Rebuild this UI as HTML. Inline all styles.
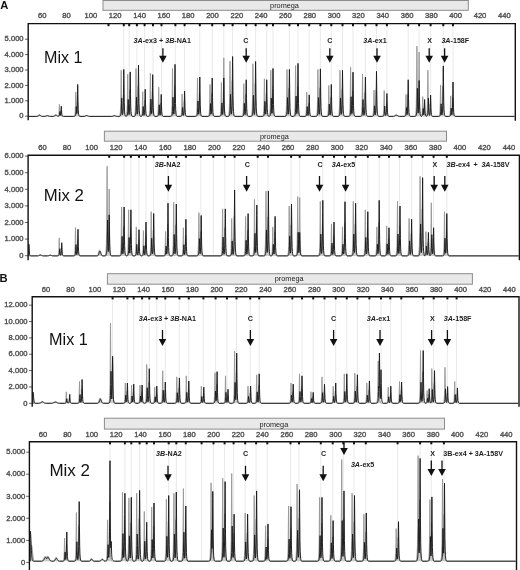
<!DOCTYPE html>
<html><head><meta charset="utf-8"><style>
html,body{margin:0;padding:0;background:#fff;width:520px;height:570px;overflow:hidden}
svg{display:block;filter:grayscale(100%)}
text{font-family:"Liberation Sans",sans-serif}
.ax{font-size:7.6px;fill:#3a3a3a;stroke:#5a5a5a;stroke-width:0.4px}
.pm{font-size:7.3px;fill:#222}
.an{font-size:7.15px;font-weight:bold;fill:#222}
.mix{font-size:16.6px;fill:#111}
.pl{font-size:11.2px;font-weight:bold;fill:#111}
</style></head><body>
<svg width="520" height="570" viewBox="0 0 520 570">
<rect width="520" height="570" fill="#fff"/>
<text x="0.3" y="9.3" class="pl">A</text>
<text x="-0.4" y="281.9" class="pl">B</text>
<line x1="123.8" y1="25.6" x2="123.8" y2="115.4" stroke="#e6e6e6" stroke-width="0.9"/>
<line x1="129.2" y1="25.6" x2="129.2" y2="115.4" stroke="#e6e6e6" stroke-width="0.9"/>
<line x1="136.9" y1="25.6" x2="136.9" y2="115.4" stroke="#e6e6e6" stroke-width="0.9"/>
<line x1="144.6" y1="25.6" x2="144.6" y2="115.4" stroke="#e6e6e6" stroke-width="0.9"/>
<line x1="153" y1="25.6" x2="153" y2="115.4" stroke="#e6e6e6" stroke-width="0.9"/>
<line x1="161.5" y1="25.6" x2="161.5" y2="115.4" stroke="#e6e6e6" stroke-width="0.9"/>
<line x1="175.4" y1="25.6" x2="175.4" y2="115.4" stroke="#e6e6e6" stroke-width="0.9"/>
<line x1="184.6" y1="25.6" x2="184.6" y2="115.4" stroke="#e6e6e6" stroke-width="0.9"/>
<line x1="199.8" y1="25.6" x2="199.8" y2="115.4" stroke="#e6e6e6" stroke-width="0.9"/>
<line x1="212.2" y1="25.6" x2="212.2" y2="115.4" stroke="#e6e6e6" stroke-width="0.9"/>
<line x1="223.8" y1="25.6" x2="223.8" y2="115.4" stroke="#e6e6e6" stroke-width="0.9"/>
<line x1="232.6" y1="25.6" x2="232.6" y2="115.4" stroke="#e6e6e6" stroke-width="0.9"/>
<line x1="246.2" y1="25.6" x2="246.2" y2="115.4" stroke="#e6e6e6" stroke-width="0.9"/>
<line x1="255.6" y1="25.6" x2="255.6" y2="115.4" stroke="#e6e6e6" stroke-width="0.9"/>
<line x1="266.7" y1="25.6" x2="266.7" y2="115.4" stroke="#e6e6e6" stroke-width="0.9"/>
<line x1="273" y1="25.6" x2="273" y2="115.4" stroke="#e6e6e6" stroke-width="0.9"/>
<line x1="289.4" y1="25.6" x2="289.4" y2="115.4" stroke="#e6e6e6" stroke-width="0.9"/>
<line x1="298" y1="25.6" x2="298" y2="115.4" stroke="#e6e6e6" stroke-width="0.9"/>
<line x1="309.2" y1="25.6" x2="309.2" y2="115.4" stroke="#e6e6e6" stroke-width="0.9"/>
<line x1="320.4" y1="25.6" x2="320.4" y2="115.4" stroke="#e6e6e6" stroke-width="0.9"/>
<line x1="331.3" y1="25.6" x2="331.3" y2="115.4" stroke="#e6e6e6" stroke-width="0.9"/>
<line x1="342.5" y1="25.6" x2="342.5" y2="115.4" stroke="#e6e6e6" stroke-width="0.9"/>
<line x1="353" y1="25.6" x2="353" y2="115.4" stroke="#e6e6e6" stroke-width="0.9"/>
<line x1="365.4" y1="25.6" x2="365.4" y2="115.4" stroke="#e6e6e6" stroke-width="0.9"/>
<line x1="376.5" y1="25.6" x2="376.5" y2="115.4" stroke="#e6e6e6" stroke-width="0.9"/>
<line x1="386.9" y1="25.6" x2="386.9" y2="115.4" stroke="#e6e6e6" stroke-width="0.9"/>
<line x1="408.2" y1="25.6" x2="408.2" y2="115.4" stroke="#e6e6e6" stroke-width="0.9"/>
<line x1="419.1" y1="25.6" x2="419.1" y2="115.4" stroke="#e6e6e6" stroke-width="0.9"/>
<line x1="430.6" y1="25.6" x2="430.6" y2="115.4" stroke="#e6e6e6" stroke-width="0.9"/>
<line x1="443.3" y1="25.6" x2="443.3" y2="115.4" stroke="#e6e6e6" stroke-width="0.9"/>
<line x1="453" y1="25.6" x2="453" y2="115.4" stroke="#e6e6e6" stroke-width="0.9"/>
<rect x="103" y="0.5" width="365.3" height="9.8" fill="#e9e9e9" stroke="#8c8c8c" stroke-width="1"/>
<text x="270.1" y="8.2" class="pm">promega</text>
<text x="42.25" y="18.4" class="ax" text-anchor="middle">60</text>
<text x="66.57" y="18.4" class="ax" text-anchor="middle">80</text>
<text x="90.89" y="18.4" class="ax" text-anchor="middle">100</text>
<text x="115.21" y="18.4" class="ax" text-anchor="middle">120</text>
<text x="139.53" y="18.4" class="ax" text-anchor="middle">140</text>
<text x="163.85" y="18.4" class="ax" text-anchor="middle">160</text>
<text x="188.17" y="18.4" class="ax" text-anchor="middle">180</text>
<text x="212.49" y="18.4" class="ax" text-anchor="middle">200</text>
<text x="236.81" y="18.4" class="ax" text-anchor="middle">220</text>
<text x="261.13" y="18.4" class="ax" text-anchor="middle">240</text>
<text x="285.45" y="18.4" class="ax" text-anchor="middle">260</text>
<text x="309.77" y="18.4" class="ax" text-anchor="middle">280</text>
<text x="334.09" y="18.4" class="ax" text-anchor="middle">300</text>
<text x="358.41" y="18.4" class="ax" text-anchor="middle">320</text>
<text x="382.73" y="18.4" class="ax" text-anchor="middle">340</text>
<text x="407.05" y="18.4" class="ax" text-anchor="middle">360</text>
<text x="431.37" y="18.4" class="ax" text-anchor="middle">380</text>
<text x="455.69" y="18.4" class="ax" text-anchor="middle">400</text>
<text x="480.01" y="18.4" class="ax" text-anchor="middle">420</text>
<text x="504.33" y="18.4" class="ax" text-anchor="middle">440</text>
<text x="23.6" y="118.4" class="ax" text-anchor="end">0</text>
<line x1="25" y1="116.2" x2="28.2" y2="116.2" stroke="#555" stroke-width="0.9"/>
<text x="23.6" y="103" class="ax" text-anchor="end">1.000</text>
<line x1="25" y1="100.8" x2="28.2" y2="100.8" stroke="#555" stroke-width="0.9"/>
<text x="23.6" y="87.6" class="ax" text-anchor="end">2.000</text>
<line x1="25" y1="85.4" x2="28.2" y2="85.4" stroke="#555" stroke-width="0.9"/>
<text x="23.6" y="72.2" class="ax" text-anchor="end">3.000</text>
<line x1="25" y1="70" x2="28.2" y2="70" stroke="#555" stroke-width="0.9"/>
<text x="23.6" y="56.8" class="ax" text-anchor="end">4.000</text>
<line x1="25" y1="54.6" x2="28.2" y2="54.6" stroke="#555" stroke-width="0.9"/>
<text x="23.6" y="41.4" class="ax" text-anchor="end">5.000</text>
<line x1="25" y1="39.2" x2="28.2" y2="39.2" stroke="#555" stroke-width="0.9"/>
<path d="M29 116.4 L29 116.4 L36 116.39 L36.25 116.38 L36.5 116.36 L36.75 116.32 L37 116.26 L37.25 116.16 L37.5 116.02 L37.75 115.84 L38 115.62 L38.25 115.38 L38.5 115.15 L38.75 114.95 L39 114.83 L39.2 114.8 L39.25 114.8 L39.5 114.87 L39.75 115.02 L40 115.24 L40.25 115.48 L40.5 115.71 L40.75 115.92 L41 116.08 L41.25 116.2 L41.5 116.29 L41.75 116.34 L42 116.37 L42.25 116.38 L44 116.39 L44.25 116.38 L44.5 116.36 L44.75 116.32 L45 116.26 L45.25 116.18 L45.5 116.08 L45.75 115.94 L46 115.79 L46.25 115.65 L46.5 115.52 L46.75 115.43 L47 115.4 L47.25 115.43 L47.5 115.52 L47.75 115.65 L48 115.79 L48.25 115.94 L48.5 116.08 L48.75 116.18 L49 116.26 L49.25 116.32 L49.5 116.36 L49.75 116.38 L50 116.39 L52.5 116.38 L52.75 116.36 L53 116.33 L53.25 116.27 L53.5 116.18 L53.75 116.05 L54 115.88 L54.25 115.67 L54.5 115.43 L54.75 115.19 L55 114.99 L55.25 114.85 L55.5 114.8 L55.75 114.85 L56 114.99 L56.25 115.19 L56.5 115.43 L56.75 115.67 L57 115.88 L57.25 116.05 L57.5 116.18 L57.75 116.25 L58 116.1 L58.25 115.86 L58.5 115.41 L58.75 114.47 L59 112.18 L59.25 106.73 L59.4 104.25 L59.5 105.49 L59.75 111.4 L60 114.17 L60.25 115.27 L60.35 115.43 L60.5 114.87 L60.75 112.84 L61 110.28 L61.25 112.84 L61.5 114.87 L61.75 115.66 L62 116.01 L62.25 116.18 L62.5 116.28 L62.75 116.35 L63 116.38 L73.5 116.39 L73.75 116.38 L74 116.23 L74.25 116 L74.5 115.64 L74.75 115.02 L75 113.83 L75.25 111.19 L75.5 104.45 L75.75 92.67 L75.8 92 L76 99.66 L76.25 109.24 L76.5 113.03 L76.75 113.36 L77 109.75 L77.25 101.14 L77.4 97.23 L77.5 99.19 L77.75 108.51 L78 112.88 L78.25 114.62 L78.5 115.44 L78.75 115.87 L79 116.13 L79.25 116.29 L79.5 116.37 L79.75 116.38 L83.25 116.39 L83.5 116.38 L83.75 116.36 L84 116.32 L84.25 116.27 L84.5 116.18 L84.75 116.07 L85 115.93 L85.25 115.77 L85.5 115.6 L85.75 115.45 L86 115.35 L86.25 115.3 L86.3 115.3 L86.5 115.32 L86.75 115.41 L87 115.54 L87.25 115.7 L87.5 115.86 L87.75 116.02 L88 116.14 L88.25 116.24 L88.5 116.3 L88.75 116.35 L89 116.37 L89.25 116.39 L111 116.39 L111.25 116.38 L111.5 116.36 L111.75 116.33 L112 116.28 L112.25 116.21 L112.5 116.11 L112.75 115.99 L113 115.85 L113.25 115.72 L113.5 115.61 L113.75 115.53 L114 115.5 L114.25 115.53 L114.5 115.61 L114.75 115.72 L115 115.85 L115.25 115.99 L115.5 116.11 L115.75 116.21 L116 116.28 L116.25 116.33 L116.5 116.36 L116.75 116.38 L117 116.39 L119 116.39 L119.25 116.25 L119.5 115.92 L119.75 115.41 L120 114.58 L120.25 113.08 L120.5 110.05 L120.75 102.88 L121 84.8 L121.2 70.34 L121.25 71.61 L121.5 93.84 L121.75 106.56 L122 111.55 L122.25 113.79 L122.5 114.6 L122.75 113.01 L123 109.37 L123.25 100.01 L123.5 88.23 L123.75 100.01 L124 109.37 L124.25 113.01 L124.5 114.6 L124.75 115.41 L125 115.87 L125.25 116.15 L125.5 116.34 L125.75 116.27 L126 115.96 L126.25 115.49 L126.5 114.73 L126.75 113.35 L127 110.57 L127.25 104 L127.5 87.42 L127.7 74.16 L127.75 75.33 L128 95.71 L128.25 107.38 L128.5 111.95 L128.75 114.01 L128.95 114.47 L129 114.22 L129.25 112.16 L129.5 107.14 L129.75 95.15 L129.9 89.7 L130 92.43 L130.25 105.41 L130.5 111.5 L130.75 113.93 L131 115.06 L131.25 115.66 L131.5 116.02 L131.75 116.25 L132 116.37 L132.25 116.39 L133.75 116.39 L134 116.3 L134.25 115.98 L134.5 115.5 L134.75 114.71 L135 113.34 L135.25 110.63 L135.5 104.43 L135.75 88.52 L136 68.48 L136.25 88.52 L136.5 104.43 L136.75 110.63 L137 113.34 L137.25 114.19 L137.5 112.17 L137.75 107.39 L138 95.34 L138.2 85.71 L138.25 86.55 L138.5 101.37 L138.75 109.84 L139 113.17 L139.25 114.66 L139.5 115.44 L139.75 115.9 L140 116.18 L140.25 116.36 L140.5 116.38 L140.75 116.32 L141 116.14 L141.25 115.87 L141.5 115.42 L141.75 114.62 L142 112.99 L142.25 109.15 L142.5 99.46 L142.7 91.7 L142.75 92.39 L143 104.3 L143.25 111.13 L143.5 113.8 L143.75 115 L143.95 115.23 L144 115.07 L144.25 113.81 L144.5 110.75 L144.75 103.44 L144.9 100.11 L145 101.77 L145.25 109.69 L145.5 113.41 L145.75 114.89 L146 115.58 L146.25 115.95 L146.5 116.17 L146.75 116.31 L147 116.38 L148.25 116.39 L148.5 116.21 L148.75 115.87 L149 115.35 L149.25 114.47 L149.5 112.87 L149.75 109.54 L150 101.41 L150.25 82 L150.4 73.18 L150.5 77.59 L150.75 98.6 L151 108.46 L151.25 112.4 L151.5 114.23 L151.55 114.08 L151.75 112.42 L152 107.71 L152.25 96.46 L152.4 91.35 L152.5 93.91 L152.75 106.09 L153 111.8 L153.25 114.08 L153.5 115.14 L153.75 115.71 L154 116.04 L154.25 116.26 L154.5 116.36 L154.75 116.38 L156.5 116.4 L156.75 116.31 L157 116.1 L157.25 115.77 L157.5 115.25 L157.75 114.3 L158 112.39 L158.25 107.86 L158.5 96.43 L158.7 87.29 L158.75 88.1 L159 102.14 L159.25 110.18 L159.5 113.33 L159.75 114.75 L159.95 115.38 L160 115.32 L160.25 114.31 L160.5 111.83 L160.75 105.92 L160.9 103.23 L161 104.57 L161.25 110.98 L161.5 113.98 L161.75 115.18 L162 115.74 L162.25 116.04 L162.5 116.21 L162.75 116.32 L163 116.39 L170.25 116.39 L170.5 116.3 L170.75 115.98 L171 115.5 L171.25 114.71 L171.5 113.34 L171.75 110.63 L172 104.43 L172.25 88.52 L172.5 68.48 L172.75 88.52 L173 104.43 L173.25 110.63 L173.5 113.34 L173.75 114.15 L174 112.09 L174.25 107.23 L174.5 94.98 L174.7 85.18 L174.75 86.04 L175 101.11 L175.25 109.73 L175.5 113.11 L175.75 114.63 L176 115.43 L176.25 115.89 L176.5 116.18 L176.75 116.36 L177 116.38 L180 116.39 L180.25 116.27 L180.5 116.08 L180.75 115.78 L181 115.27 L181.25 114.32 L181.5 112.28 L181.75 107.16 L182 96.25 L182.1 93.96 L182.25 98.54 L182.5 108.61 L182.75 112.84 L183 114.57 L183.25 115.4 L183.35 115.31 L183.5 114.8 L183.75 113.16 L184 108.97 L184.25 101.65 L184.3 101.23 L184.5 105.99 L184.75 111.95 L185 114.31 L185.25 115.31 L185.5 115.8 L185.75 116.07 L186 116.24 L186.25 116.35 L186.5 116.39 L195.25 116.39 L195.5 116.32 L195.75 116.06 L196 115.67 L196.25 115.05 L196.5 113.94 L196.75 111.77 L197 106.78 L197.25 93.99 L197.5 77.89 L197.75 93.99 L198 106.78 L198.25 111.77 L198.5 113.94 L198.65 114.21 L198.75 113.56 L199 110.5 L199.25 102.65 L199.5 92.76 L199.75 102.65 L200 110.5 L200.25 113.56 L200.5 114.89 L200.75 115.57 L201 115.95 L201.25 116.19 L201.5 116.35 L201.75 116.38 L202 116.39 L207.75 116.39 L208 116.33 L208.25 116.12 L208.5 115.8 L208.75 115.28 L209 114.36 L209.25 112.56 L209.5 108.42 L209.75 97.81 L210 84.45 L210.25 97.81 L210.5 108.42 L210.75 112.56 L211 114.36 L211.1 113.97 L211.25 112.74 L211.5 108.4 L211.75 98.05 L211.9 93.35 L212 95.7 L212.25 106.91 L212.5 112.17 L212.75 114.27 L213 115.24 L213.25 115.76 L213.5 116.07 L213.75 116.27 L214 116.37 L214.25 116.38 L219.25 116.39 L219.5 116.25 L219.75 115.98 L220 115.57 L220.25 114.89 L220.5 113.63 L220.75 111.02 L221 104.64 L221.25 89.41 L221.4 82.49 L221.5 85.95 L221.75 102.44 L222 110.17 L222.25 113.26 L222.5 114.57 L222.6 114.08 L222.75 113.08 L223 110.22 L223.25 102.99 L223.5 87.7 L223.75 59.41 L223.8 57.8 L224 76.2 L224.25 99.2 L224.5 108.32 L224.75 112.17 L225 114.08 L225.25 115.14 L225.5 115.79 L225.75 116.21 L226 116.39 L227.75 116.39 L228 116.29 L228.25 115.92 L228.5 115.36 L228.75 114.46 L229 112.88 L229.25 109.76 L229.5 102.62 L229.75 84.3 L230 61.23 L230.25 84.3 L230.5 102.62 L230.75 109.76 L231 112.88 L231.25 114.37 L231.3 114.11 L231.5 112.61 L231.75 108.73 L232 98.8 L232.25 81.46 L232.3 80.47 L232.5 91.75 L232.75 105.85 L233 111.44 L233.25 113.81 L233.5 114.98 L233.75 115.63 L234 116.03 L234.25 116.29 L234.5 116.38 L234.75 116.39 L241.5 116.39 L241.75 116.37 L242 116.17 L242.25 115.86 L242.5 115.38 L242.75 114.55 L243 112.95 L243.25 109.41 L243.5 100.37 L243.75 84.57 L243.8 83.67 L244 93.94 L244.25 106.79 L244.5 111.89 L244.75 114.04 L245 114.6 L245.25 112.91 L245.5 108.77 L245.75 98.9 L245.9 94.41 L246 96.65 L246.25 107.34 L246.5 112.36 L246.75 114.36 L247 115.3 L247.25 115.79 L247.5 116.09 L247.75 116.27 L248 116.38 L248.25 116.39 L250.75 116.39 L251 116.17 L251.25 115.76 L251.5 115.12 L251.75 114.05 L252 112.1 L252.25 108.04 L252.5 98.14 L252.75 74.51 L252.9 63.77 L253 69.14 L253.25 94.73 L253.5 106.73 L253.75 111.53 L254 113.76 L254.25 114.54 L254.5 112.93 L254.75 109.37 L255 100.27 L255.25 84.38 L255.3 83.47 L255.5 93.81 L255.75 106.73 L256 111.86 L256.25 114.03 L256.5 115.1 L256.75 115.69 L257 116.06 L257.25 116.3 L257.5 116.38 L257.75 116.39 L262.25 116.39 L262.5 116.23 L262.75 115.94 L263 115.48 L263.25 114.72 L263.5 113.33 L263.75 110.42 L264 103.34 L264.25 86.45 L264.4 78.77 L264.5 82.61 L264.75 100.9 L265 109.49 L265.25 112.91 L265.5 114.51 L265.55 114.36 L265.75 112.91 L266 108.77 L266.25 98.9 L266.4 94.41 L266.5 96.65 L266.75 107.34 L267 112.36 L267.25 114.36 L267.5 115.3 L267.75 115.79 L268 116.09 L268.25 116.27 L268.5 116.37 L268.75 116.35 L269 116.07 L269.25 115.64 L269.5 114.96 L269.75 113.79 L270 111.55 L270.25 106.56 L270.5 93.84 L270.75 71.61 L270.8 70.34 L271 84.8 L271.25 102.88 L271.5 110.05 L271.75 113.08 L271.9 113.37 L272 112.43 L272.25 107.96 L272.5 96.67 L272.7 87.65 L272.75 88.44 L273 102.32 L273.25 110.26 L273.5 113.37 L273.75 114.77 L274 115.5 L274.25 115.93 L274.5 116.19 L274.75 116.35 L275 116.37 L275.25 116.39 L284.75 116.39 L285 116.3 L285.25 115.99 L285.5 115.52 L285.75 114.75 L286 113.4 L286.25 110.75 L286.5 104.68 L286.75 89.09 L287 69.46 L287.25 89.09 L287.5 104.68 L287.75 110.75 L288 113.4 L288.2 114.1 L288.25 113.79 L288.5 111.23 L288.75 104.8 L289 91.11 L289.1 88.23 L289.25 93.98 L289.5 106.63 L289.75 111.93 L290 114.1 L290.25 115.14 L290.5 115.71 L290.75 116.06 L291 116.28 L291.25 116.37 L291.5 116.38 L293.5 116.38 L293.75 116.11 L294 115.68 L294.25 115 L294.5 113.85 L294.75 111.7 L295 107.08 L295.25 95.5 L295.5 70.82 L295.6 65.64 L295.75 76 L296 98.79 L296.25 108.34 L296.5 112.26 L296.75 114.11 L296.8 113.8 L297 112.01 L297.25 107.06 L297.5 94.58 L297.7 84.59 L297.75 85.47 L298 100.82 L298.25 109.61 L298.5 113.05 L298.75 114.6 L299 115.41 L299.25 115.88 L299.5 116.17 L299.75 116.36 L300 116.38 L300.25 116.39 L304.5 116.4 L304.75 116.32 L305 116.15 L305.25 115.88 L305.5 115.43 L305.75 114.64 L306 113.03 L306.25 109.24 L306.5 99.66 L306.7 92 L306.75 92.67 L307 104.45 L307.25 111.19 L307.5 113.83 L307.75 115.02 L307.95 115.47 L308 115.34 L308.25 114.35 L308.5 111.91 L308.75 106.1 L308.9 103.46 L309 104.78 L309.25 111.07 L309.5 114.02 L309.75 115.2 L310 115.75 L310.25 116.04 L310.5 116.22 L310.75 116.33 L311 116.39 L315.75 116.39 L316 116.19 L316.25 115.83 L316.5 115.26 L316.75 114.31 L317 112.57 L317.25 108.95 L317.5 100.11 L317.75 79.04 L317.9 69.46 L318 74.25 L318.25 97.07 L318.5 107.78 L318.75 112.05 L319 114.04 L319.15 114.34 L319.25 113.76 L319.5 111.16 L319.75 104.66 L320 90.79 L320.1 87.88 L320.25 93.7 L320.5 106.51 L320.75 111.87 L321 114.07 L321.25 115.13 L321.5 115.7 L321.75 116.05 L322 116.27 L322.25 116.37 L322.5 116.39 L326.5 116.39 L326.75 116.37 L327 116.18 L327.25 115.89 L327.5 115.43 L327.75 114.65 L328 113.14 L328.25 109.79 L328.5 101.23 L328.75 86.29 L328.8 85.43 L329 95.16 L329.25 107.31 L329.5 112.13 L329.75 114.17 L330 115.17 L330.05 115.02 L330.25 114.09 L330.5 111.61 L330.75 105.25 L331 97.23 L331.25 105.25 L331.5 111.61 L331.75 114.09 L332 115.18 L332.25 115.73 L332.5 116.04 L332.75 116.23 L333 116.36 L333.25 116.39 L337.75 116.39 L338 116.31 L338.25 116 L338.5 115.53 L338.75 114.78 L339 113.46 L339.25 110.86 L339.5 104.9 L339.75 89.6 L340 70.34 L340.25 89.6 L340.5 104.9 L340.75 110.86 L341 113.46 L341.25 114.41 L341.5 112.59 L341.75 108.29 L342 97.44 L342.2 88.76 L342.25 89.53 L342.5 102.86 L342.75 110.5 L343 113.49 L343.25 114.84 L343.5 115.54 L343.75 115.95 L344 116.2 L344.25 116.37 L344.5 116.38 L348.5 116.38 L348.75 116.12 L349 115.7 L349.25 115.04 L349.5 113.93 L349.75 111.84 L350 107.36 L350.25 96.14 L350.5 72.22 L350.6 67.2 L350.75 77.24 L351 99.33 L351.25 108.59 L351.5 112.38 L351.75 114.21 L351.8 114.24 L352 112.74 L352.25 108.62 L352.5 98.21 L352.7 89.88 L352.75 90.61 L353 103.41 L353.25 110.74 L353.5 113.61 L353.75 114.9 L354 115.57 L354.25 115.96 L354.5 116.21 L354.75 116.36 L355 116.38 L360.25 116.4 L360.5 116.31 L360.75 116.03 L361 115.6 L361.25 114.91 L361.5 113.7 L361.75 111.32 L362 105.85 L362.25 91.83 L362.5 74.16 L362.75 91.83 L363 105.85 L363.25 111.32 L363.5 113.7 L363.75 114.91 L363.95 115.19 L364 115.2 L364.25 114.21 L364.5 112.06 L364.75 106.67 L365 95.17 L365.1 92.76 L365.25 97.59 L365.5 108.2 L365.75 112.65 L366 114.47 L366.25 115.35 L366.5 115.82 L366.75 116.11 L367 116.3 L367.25 116.39 L371.75 116.39 L372 116.35 L372.25 116.17 L372.5 115.91 L372.75 115.48 L373 114.72 L373.25 113.24 L373.5 109.84 L373.75 101.12 L374 90.14 L374.25 101.12 L374.5 109.84 L374.75 113.24 L375 114.72 L375.25 114.45 L375.5 112.67 L375.75 108.46 L376 97.84 L376.2 89.35 L376.25 90.1 L376.5 103.15 L376.75 110.62 L377 113.55 L377.25 114.87 L377.5 115.56 L377.75 115.96 L378 116.21 L378.25 116.37 L378.5 116.39 L382 116.4 L382.25 116.32 L382.5 116.13 L382.75 115.84 L383 115.38 L383.25 114.53 L383.5 112.83 L383.75 108.8 L384 98.65 L384.2 90.53 L384.25 91.24 L384.5 103.73 L384.75 110.87 L385 113.67 L385.25 114.94 L385.5 115.59 L385.55 115.62 L385.75 115.13 L386 113.87 L386.25 110.73 L386.5 104.04 L386.6 102.64 L386.75 105.45 L387 111.63 L387.25 114.22 L387.5 115.28 L387.75 115.79 L388 116.06 L388.25 116.23 L388.5 116.34 L388.75 116.39 L392.25 116.39 L392.5 116.38 L392.75 116.36 L393 116.33 L393.25 116.29 L393.5 116.23 L393.75 116.14 L394 116.03 L394.25 115.88 L394.5 115.71 L394.75 115.53 L395 115.34 L395.25 115.17 L395.5 115.02 L395.75 114.93 L396 114.9 L396.25 114.93 L396.5 115.02 L396.75 115.17 L397 115.34 L397.25 115.53 L397.5 115.71 L397.75 115.88 L398 116.03 L398.25 116.14 L398.5 116.23 L398.75 116.29 L399 116.33 L399.25 116.36 L399.5 116.38 L399.75 116.39 L403.75 116.39 L404 116.36 L404.25 116.21 L404.5 115.99 L404.75 115.63 L405 115 L405.25 113.76 L405.5 110.92 L405.75 103.63 L406 94.45 L406.25 103.63 L406.5 110.92 L406.75 113.76 L407 114.6 L407.1 114.08 L407.25 112.91 L407.5 108.77 L407.75 98.9 L407.9 94.41 L408 96.65 L408.25 107.34 L408.5 112.36 L408.75 114.36 L409 115.3 L409.25 115.79 L409.5 116.09 L409.75 116.27 L410 116.38 L410.25 116.39 L414.75 116.39 L415 116.09 L415.25 115.54 L415.5 114.69 L415.75 113.27 L416 110.66 L416.25 105.24 L416.5 92.02 L416.75 60.47 L416.9 46.13 L417 53.3 L417.25 87.47 L417.5 103.49 L417.75 109.89 L418 112.87 L418.25 110.44 L418.5 104.57 L418.75 89.89 L418.8 84.86 L419 58.58 L419.1 52.01 L419.25 65.15 L419.5 94.06 L419.75 106.18 L420 111.14 L420.25 113.53 L420.5 114.83 L420.75 115.61 L421 116.12 L421.25 115.97 L421.5 115.62 L421.75 114.97 L422 113.67 L422.25 110.59 L422.5 102.82 L422.7 96.6 L422.75 97.15 L423 106.7 L423.25 112.17 L423.5 114.31 L423.65 114.79 L423.75 114.24 L424 111.45 L424.25 106.57 L424.3 106.29 L424.5 109.46 L424.75 113.43 L425 115.01 L425.25 115.67 L425.5 116 L425.75 116.18 L426 116.2 L426.25 115.83 L426.5 115.27 L426.75 114.34 L427 112.63 L427.25 109.07 L427.5 100.39 L427.75 79.66 L427.9 70.24 L428 74.95 L428.25 97.39 L428.5 107.92 L428.75 112.12 L429 114.08 L429.25 115.13 L429.5 115.06 L429.75 113.67 L430 110.15 L430.25 103.99 L430.3 103.64 L430.5 107.65 L430.75 112.65 L431 114.64 L431.25 115.48 L431.5 115.89 L431.75 116.13 L432 116.27 L432.25 116.36 L432.5 116.39 L438.5 116.39 L438.75 116.22 L439 115.95 L439.25 115.53 L439.5 114.82 L439.75 113.49 L440 110.62 L440.25 103.45 L440.5 88.15 L440.6 84.94 L440.75 91.36 L441 105.49 L441.25 111.4 L441.5 113.83 L441.75 115 L441.95 114.69 L442 114.47 L442.25 112.76 L442.5 108.84 L442.75 98.78 L443 86.12 L443.25 98.78 L443.5 108.84 L443.75 112.76 L444 114.47 L444.25 115.34 L444.5 115.83 L444.75 116.14 L445 116.34 L445.25 116.39 L448.5 116.39 L448.75 116.33 L449 116.19 L449.25 115.96 L449.5 115.58 L449.75 114.92 L450 113.56 L450.25 110.36 L450.5 102.28 L450.7 95.82 L450.75 96.39 L451 106.32 L451.25 112 L451.5 114.23 L451.75 114.91 L451.85 114.49 L452 113.55 L452.25 110.34 L452.5 102.24 L452.7 95.76 L452.75 96.33 L453 106.29 L453.25 111.99 L453.5 114.22 L453.75 115.23 L454 115.76 L454.25 116.06 L454.5 116.25 L454.75 116.38 L455 116.39 L514.5 116.4 L514.5 116.4" fill="#cccccc" stroke="#969696" stroke-width="0.9"/>
<path d="M29 116.4 L29 116.4 L36.75 116.38 L37 116.37 L37.25 116.34 L37.5 116.29 L37.75 116.21 L38 116.1 L38.25 115.95 L38.5 115.78 L38.75 115.58 L39 115.4 L39.25 115.24 L39.5 115.15 L39.7 115.12 L39.75 115.12 L40 115.18 L40.25 115.3 L40.5 115.47 L40.75 115.66 L41 115.85 L41.25 116.01 L41.5 116.15 L41.75 116.24 L42 116.31 L42.25 116.35 L42.5 116.37 L42.75 116.39 L44.75 116.38 L45 116.36 L45.25 116.34 L45.5 116.29 L45.75 116.23 L46 116.14 L46.25 116.03 L46.5 115.91 L46.75 115.8 L47 115.69 L47.25 115.62 L47.5 115.6 L47.75 115.62 L48 115.69 L48.25 115.8 L48.5 115.91 L48.75 116.03 L49 116.14 L49.25 116.23 L49.5 116.29 L49.75 116.34 L50 116.36 L50.25 116.38 L53 116.39 L53.25 116.37 L53.5 116.34 L53.75 116.3 L54 116.23 L54.25 116.12 L54.5 115.98 L54.75 115.81 L55 115.62 L55.25 115.43 L55.5 115.27 L55.75 115.16 L56 115.12 L56.25 115.16 L56.5 115.27 L56.75 115.43 L57 115.62 L57.25 115.81 L57.5 115.98 L57.75 116.12 L58 116.23 L58.25 116.3 L58.5 116.28 L58.75 116.18 L59 116 L59.25 115.63 L59.5 114.71 L59.75 112.53 L59.9 111.54 L60 112.04 L60.25 114.4 L60.35 114.97 L60.5 115.33 L60.75 114.22 L61 111.41 L61.25 106.49 L61.3 106.21 L61.5 109.41 L61.75 113.41 L62 114.99 L62.25 115.66 L62.5 116 L62.75 116.18 L63 116.29 L63.25 116.37 L63.5 116.39 L73.75 116.38 L74 116.37 L74.25 116.34 L74.5 116.31 L74.75 116.24 L75 116.1 L75.25 115.85 L75.5 115.37 L75.75 114.32 L76 111.62 L76.25 106.91 L76.3 106.64 L76.5 109.7 L76.75 113.53 L77 111.99 L77.25 107.02 L77.5 94.48 L77.7 84.45 L77.75 85.33 L78 100.75 L78.25 109.58 L78.5 113.03 L78.75 114.59 L79 115.4 L79.25 115.87 L79.5 116.17 L79.75 116.37 L80 116.39 L84 116.38 L84.25 116.37 L84.5 116.34 L84.75 116.29 L85 116.23 L85.25 116.14 L85.5 116.02 L85.75 115.89 L86 115.76 L86.25 115.64 L86.5 115.56 L86.75 115.52 L86.8 115.52 L87 115.54 L87.25 115.6 L87.5 115.71 L87.75 115.84 L88 115.97 L88.25 116.09 L88.5 116.19 L88.75 116.27 L89 116.32 L89.25 116.36 L89.5 116.38 L89.75 116.39 L111.75 116.38 L112 116.37 L112.25 116.34 L112.5 116.3 L112.75 116.24 L113 116.17 L113.25 116.07 L113.5 115.96 L113.75 115.86 L114 115.76 L114.25 115.7 L114.5 115.68 L114.75 115.7 L115 115.76 L115.25 115.86 L115.5 115.96 L115.75 116.07 L116 116.17 L116.25 116.24 L116.5 116.3 L116.75 116.34 L117 116.37 L117.25 116.38 L119.25 116.38 L119.5 116.37 L119.75 116.34 L120 116.21 L120.25 116 L120.5 115.67 L120.75 115.07 L121 113.86 L121.25 110.99 L121.5 103.76 L121.7 97.98 L121.75 98.48 L122 107.38 L122.25 112.47 L122.5 114.46 L122.75 113.74 L123 111.45 L123.25 106.37 L123.5 93.41 L123.75 70.75 L123.8 69.46 L124 84.2 L124.25 102.62 L124.5 109.93 L124.75 113.01 L125 114.54 L125.25 115.39 L125.5 115.91 L125.75 116.25 L126 116.36 L126.25 116.34 L126.5 116.22 L126.75 116.04 L127 115.73 L127.25 115.18 L127.5 114.07 L127.75 111.44 L128 104.81 L128.2 99.5 L128.25 99.97 L128.5 108.12 L128.75 112.79 L128.95 114.37 L129 114.62 L129.25 113.19 L129.5 110.26 L129.75 103.34 L130 85.88 L130.2 71.91 L130.25 73.14 L130.5 94.61 L130.75 106.9 L131 111.71 L131.25 113.88 L131.5 115.01 L131.75 115.67 L132 116.08 L132.25 116.36 L132.5 116.39 L134 116.38 L134.25 116.36 L134.5 116.34 L134.75 116.23 L135 116.04 L135.25 115.73 L135.5 115.18 L135.75 114.09 L136 111.61 L136.25 105.25 L136.5 97.23 L136.75 105.25 L137 111.61 L137.25 114.09 L137.5 113.13 L137.75 110.24 L138 103.63 L138.25 86.64 L138.5 65.24 L138.75 86.64 L139 103.63 L139.25 110.24 L139.5 113.13 L139.75 114.6 L140 115.44 L140.25 115.95 L140.5 116.3 L140.75 116.39 L141 116.38 L141.25 116.36 L141.5 116.3 L141.75 116.19 L142 116.01 L142.25 115.69 L142.5 115.04 L142.75 113.5 L143 109.62 L143.2 106.52 L143.25 106.79 L143.5 111.56 L143.75 114.29 L143.95 115.21 L144 115.32 L144.25 114.44 L144.5 112.66 L144.75 108.43 L145 97.78 L145.2 89.25 L145.25 90 L145.5 103.1 L145.75 110.6 L146 113.54 L146.25 114.86 L146.5 115.55 L146.75 115.95 L147 116.21 L147.25 116.37 L147.5 116.4 L148.25 116.39 L148.5 116.37 L148.75 116.35 L149 116.31 L149.25 116.19 L149.5 115.98 L149.75 115.63 L150 114.99 L150.25 113.66 L150.5 110.4 L150.75 102.64 L150.9 99.11 L151 100.88 L151.25 109.28 L151.5 113.22 L151.55 113.66 L151.75 113.39 L152 110.64 L152.25 104.14 L152.5 87.76 L152.7 74.65 L152.75 75.8 L153 95.95 L153.25 107.48 L153.5 112 L153.75 114.04 L154 115.1 L154.25 115.71 L154.5 116.1 L154.75 116.36 L155 116.39 L157 116.38 L157.25 116.36 L157.5 116.28 L157.75 116.15 L158 115.94 L158.25 115.56 L158.5 114.79 L158.75 112.98 L159 108.41 L159.2 104.76 L159.25 105.08 L159.5 110.7 L159.75 113.91 L159.95 115 L160 115.17 L160.25 114.82 L160.5 113.37 L160.75 109.96 L161 101.34 L161.2 94.45 L161.25 95.05 L161.5 105.65 L161.75 111.71 L162 114.09 L162.25 115.16 L162.5 115.72 L162.75 116.04 L163 116.24 L163.25 116.38 L163.5 116.4 L170.5 116.38 L170.75 116.36 L171 116.34 L171.25 116.23 L171.5 116.04 L171.75 115.73 L172 115.18 L172.25 114.09 L172.5 111.61 L172.75 105.25 L173 97.23 L173.25 105.25 L173.5 111.61 L173.75 114.09 L174 113.08 L174.25 110.14 L174.5 103.41 L174.75 86.12 L175 64.36 L175.25 86.12 L175.5 103.41 L175.75 110.14 L176 113.08 L176.25 114.57 L176.5 115.42 L176.75 115.95 L177 116.29 L177.25 116.39 L180.25 116.39 L180.5 116.38 L180.75 116.35 L181 116.27 L181.25 116.15 L181.5 115.95 L181.75 115.57 L182 114.75 L182.25 112.7 L182.5 108.34 L182.6 107.42 L182.75 109.26 L183 113.29 L183.25 114.97 L183.35 115.32 L183.5 115.13 L183.75 114.06 L184 111.76 L184.25 105.99 L184.5 93.7 L184.6 91.12 L184.75 96.28 L185 107.63 L185.25 112.39 L185.5 114.34 L185.75 115.27 L186 115.78 L186.25 116.09 L186.5 116.29 L186.75 116.39 L195.5 116.38 L195.75 116.36 L196 116.34 L196.25 116.27 L196.5 116.11 L196.75 115.86 L197 115.42 L197.25 114.55 L197.5 112.55 L197.75 107.44 L198 100.99 L198.25 107.44 L198.5 112.55 L198.65 113.95 L198.75 114.17 L199 112.25 L199.25 107.99 L199.5 97.1 L199.75 78.09 L199.8 77 L200 89.37 L200.25 104.83 L200.5 110.97 L200.75 113.56 L201 114.84 L201.25 115.55 L201.5 115.99 L201.75 116.27 L202 116.39 L208 116.38 L208.25 116.37 L208.5 116.34 L208.75 116.29 L209 116.16 L209.25 115.95 L209.5 115.58 L209.75 114.86 L210 113.21 L210.25 108.97 L210.5 103.62 L210.75 108.97 L211 113.21 L211.1 114.05 L211.25 113.63 L211.5 111.1 L211.75 105.12 L212 90.05 L212.2 77.98 L212.25 79.04 L212.5 97.58 L212.75 108.2 L213 112.35 L213.25 114.23 L213.5 115.2 L213.75 115.77 L214 116.12 L214.25 116.36 L214.5 116.39 L219.5 116.38 L219.75 116.36 L220 116.34 L220.25 116.23 L220.5 116.07 L220.75 115.79 L221 115.29 L221.25 114.25 L221.5 111.69 L221.75 105.6 L221.9 102.84 L222 104.22 L222.25 110.82 L222.5 113.91 L222.6 114.53 L222.75 114.23 L223 112.35 L223.25 108.2 L223.5 97.58 L223.75 79.04 L223.8 77.98 L224 90.05 L224.25 105.12 L224.5 111.1 L224.75 113.63 L225 114.88 L225.25 115.57 L225.5 116 L225.75 116.28 L226 116.39 L228 116.38 L228.25 116.36 L228.5 116.33 L228.75 116.21 L229 115.98 L229.25 115.62 L229.5 114.99 L229.75 113.74 L230 110.89 L230.25 103.56 L230.5 94.33 L230.75 103.56 L231 110.89 L231.25 113.74 L231.3 114.07 L231.5 113.39 L231.75 110.85 L232 105.4 L232.25 91.74 L232.5 62.63 L232.6 56.52 L232.75 68.74 L233 95.63 L233.25 106.89 L233.5 111.51 L233.75 113.73 L234 114.94 L234.25 115.67 L234.5 116.14 L234.75 116.39 L241.75 116.39 L242 116.38 L242.25 116.36 L242.5 116.31 L242.75 116.18 L243 115.99 L243.25 115.66 L243.5 115.02 L243.75 113.6 L244 109.99 L244.25 103.67 L244.3 103.31 L244.5 107.42 L244.75 112.56 L245 114.59 L245.25 113.76 L245.5 111.34 L245.75 105.64 L246 91.26 L246.2 79.75 L246.25 80.76 L246.5 98.45 L246.75 108.57 L247 112.54 L247.25 114.33 L247.5 115.26 L247.75 115.8 L248 116.14 L248.25 116.36 L248.5 116.39 L250.75 116.39 L251 116.38 L251.25 116.36 L251.5 116.31 L251.75 116.14 L252 115.89 L252.25 115.46 L252.5 114.68 L252.75 113.06 L253 109.1 L253.25 99.65 L253.4 95.35 L253.5 97.5 L253.75 107.73 L254 112.53 L254.25 114.45 L254.5 113.64 L254.75 111.32 L255 106.32 L255.25 93.8 L255.5 67.12 L255.6 61.52 L255.75 72.72 L256 97.36 L256.25 107.69 L256.5 111.92 L256.75 113.95 L257 115.06 L257.25 115.73 L257.5 116.16 L257.75 116.39 L262.25 116.39 L262.5 116.38 L262.75 116.36 L263 116.32 L263.25 116.22 L263.5 116.03 L263.75 115.73 L264 115.17 L264.25 114.01 L264.5 111.18 L264.75 104.42 L264.9 101.35 L265 102.88 L265.25 110.2 L265.5 113.64 L265.55 114.01 L265.75 113.76 L266 111.34 L266.25 105.64 L266.5 91.26 L266.7 79.75 L266.75 80.76 L267 98.45 L267.25 108.57 L267.5 112.54 L267.75 114.33 L268 115.26 L268.25 115.8 L268.5 116.14 L268.75 116.36 L269 116.36 L269.25 116.32 L269.5 116.27 L269.75 116.1 L270 115.83 L270.25 115.36 L270.5 114.46 L270.75 112.47 L271 107.38 L271.25 98.48 L271.3 97.98 L271.5 103.76 L271.75 110.99 L271.9 113.02 L272 113.34 L272.25 110.63 L272.5 104.43 L272.75 88.52 L273 68.48 L273.25 88.52 L273.5 104.43 L273.75 110.63 L274 113.34 L274.25 114.71 L274.5 115.5 L274.75 115.98 L275 116.3 L275.25 116.39 L284.75 116.39 L285 116.38 L285.25 116.36 L285.5 116.33 L285.75 116.24 L286 116.05 L286.25 115.74 L286.5 115.2 L286.75 114.14 L287 111.71 L287.25 105.48 L287.5 97.62 L287.75 105.48 L288 111.71 L288.2 113.81 L288.25 114.14 L288.5 112.57 L288.75 108.95 L289 100.11 L289.25 79.04 L289.4 69.46 L289.5 74.25 L289.75 97.07 L290 107.78 L290.25 112.05 L290.5 114.04 L290.75 115.1 L291 115.73 L291.25 116.13 L291.5 116.38 L293.5 116.38 L293.75 116.37 L294 116.34 L294.25 116.28 L294.5 116.11 L294.75 115.84 L295 115.38 L295.25 114.52 L295.5 112.67 L295.75 108.04 L296 98.17 L296.1 96.09 L296.25 100.24 L296.5 109.36 L296.75 113.18 L296.8 113.6 L297 113.02 L297.25 110.02 L297.5 103.16 L297.75 85.55 L298 63.38 L298.25 85.55 L298.5 103.16 L298.75 110.02 L299 113.02 L299.25 114.54 L299.5 115.4 L299.75 115.94 L300 116.29 L300.25 116.39 L305 116.38 L305.25 116.37 L305.5 116.3 L305.75 116.19 L306 116.01 L306.25 115.7 L306.5 115.05 L306.75 113.53 L307 109.7 L307.2 106.64 L307.25 106.91 L307.5 111.62 L307.75 114.32 L307.95 115.23 L308 115.37 L308.25 114.85 L308.5 113.43 L308.75 110.07 L309 101.61 L309.2 94.84 L309.25 95.43 L309.5 105.84 L309.75 111.8 L310 114.13 L310.25 115.18 L310.5 115.73 L310.75 116.05 L311 116.25 L311.25 116.38 L311.5 116.4 L315.75 116.39 L316 116.38 L316.25 116.36 L316.5 116.32 L316.75 116.17 L317 115.94 L317.25 115.56 L317.5 114.87 L317.75 113.42 L318 109.89 L318.25 101.46 L318.4 97.62 L318.5 99.54 L318.75 108.67 L319 112.95 L319.15 114.14 L319.25 114.28 L319.5 112.52 L319.75 108.85 L320 99.91 L320.25 78.57 L320.4 68.87 L320.5 73.72 L320.75 96.83 L321 107.67 L321.25 112 L321.5 114.01 L321.75 115.09 L322 115.72 L322.25 116.13 L322.5 116.39 L326.75 116.39 L327 116.38 L327.25 116.36 L327.5 116.31 L327.75 116.2 L328 116.01 L328.25 115.7 L328.5 115.09 L328.75 113.75 L329 110.33 L329.25 104.35 L329.3 104.01 L329.5 107.9 L329.75 112.76 L330 114.69 L330.05 114.91 L330.25 114.59 L330.5 113.03 L330.75 109.58 L331 100.75 L331.25 85.33 L331.3 84.45 L331.5 94.48 L331.75 107.02 L332 111.99 L332.25 114.1 L332.5 115.13 L332.75 115.71 L333 116.07 L333.25 116.3 L333.5 116.39 L338 116.38 L338.25 116.37 L338.5 116.34 L338.75 116.24 L339 116.05 L339.25 115.75 L339.5 115.22 L339.75 114.18 L340 111.8 L340.25 105.68 L340.5 97.98 L340.75 105.68 L341 111.8 L341.25 114.18 L341.5 113.46 L341.75 110.86 L342 104.9 L342.25 89.6 L342.5 70.34 L342.75 89.6 L343 104.9 L343.25 110.86 L343.5 113.46 L343.75 114.78 L344 115.53 L344.25 116 L344.5 116.31 L344.75 116.39 L348.5 116.38 L348.75 116.37 L349 116.35 L349.25 116.29 L349.5 116.12 L349.75 115.86 L350 115.41 L350.25 114.58 L350.5 112.79 L350.75 108.3 L351 98.73 L351.1 96.72 L351.25 100.74 L351.5 109.57 L351.75 113.28 L351.8 113.69 L352 113.58 L352.25 111.08 L352.5 105.36 L352.75 90.69 L353 72.2 L353.25 90.69 L353.5 105.36 L353.75 111.08 L354 113.58 L354.25 114.85 L354.5 115.57 L354.75 116.01 L355 116.31 L355.25 116.39 L360.75 116.38 L361 116.37 L361.25 116.25 L361.5 116.08 L361.75 115.81 L362 115.32 L362.25 114.37 L362.5 112.18 L362.75 106.57 L363 99.5 L363.25 106.57 L363.5 112.18 L363.75 114.37 L363.95 115.18 L364 115.2 L364.25 114.64 L364.5 113.18 L364.75 110.14 L365 102.73 L365.25 85.04 L365.4 77 L365.5 81.02 L365.75 100.18 L366 109.16 L366.25 112.75 L366.5 114.42 L366.75 115.31 L367 115.84 L367.25 116.17 L367.5 116.39 L372.25 116.38 L372.5 116.36 L372.75 116.31 L373 116.2 L373.25 116.03 L373.5 115.73 L373.75 115.14 L374 113.78 L374.25 110.29 L374.5 105.89 L374.75 110.29 L375 113.78 L375.25 114.81 L375.5 113.52 L375.75 110.98 L376 105.14 L376.25 90.17 L376.5 71.32 L376.75 90.17 L377 105.14 L377.25 110.98 L377.5 113.52 L377.75 114.81 L378 115.55 L378.25 116.01 L378.5 116.31 L378.75 116.39 L382.5 116.38 L382.75 116.37 L383 116.29 L383.25 116.18 L383.5 115.99 L383.75 115.65 L384 114.97 L384.25 113.36 L384.5 109.3 L384.7 106.05 L384.75 106.34 L385 111.33 L385.25 114.19 L385.5 115.31 L385.55 115.44 L385.75 115.38 L386 114.53 L386.25 112.76 L386.5 108.44 L386.75 98.15 L386.9 93.47 L387 95.81 L387.25 106.96 L387.5 112.19 L387.75 114.28 L388 115.25 L388.25 115.77 L388.5 116.07 L388.75 116.27 L389 116.39 L393 116.38 L393.25 116.37 L393.5 116.35 L393.75 116.31 L394 116.26 L394.25 116.19 L394.5 116.1 L394.75 115.99 L395 115.85 L395.25 115.7 L395.5 115.55 L395.75 115.41 L396 115.3 L396.25 115.23 L396.5 115.2 L396.75 115.23 L397 115.3 L397.25 115.41 L397.5 115.55 L397.75 115.7 L398 115.85 L398.25 115.99 L398.5 116.1 L398.75 116.19 L399 116.26 L399.25 116.31 L399.5 116.35 L399.75 116.37 L400 116.38 L404 116.39 L404.25 116.38 L404.5 116.36 L404.75 116.32 L405 116.23 L405.25 116.09 L405.5 115.84 L405.75 115.34 L406 114.21 L406.25 111.29 L406.5 107.62 L406.75 111.29 L407 114.21 L407.1 114.56 L407.25 113.76 L407.5 111.34 L407.75 105.64 L408 91.26 L408.2 79.75 L408.25 80.76 L408.5 98.45 L408.75 108.57 L409 112.54 L409.25 114.33 L409.5 115.26 L409.75 115.8 L410 116.14 L410.25 116.36 L410.5 116.39 L414.75 116.39 L415 116.37 L415.25 116.35 L415.5 116.28 L415.75 116.06 L416 115.71 L416.25 115.15 L416.5 114.11 L416.75 111.94 L417 106.65 L417.25 94.03 L417.4 88.29 L417.5 91.16 L417.75 104.83 L418 111.24 L418.25 113.08 L418.5 109.81 L418.75 101.63 L419 84.19 L419.1 80.53 L419.25 87.85 L419.5 103.96 L419.75 110.7 L420 113.47 L420.25 114.8 L420.5 115.53 L420.75 115.96 L421 116.24 L421.25 116.35 L421.5 116.32 L421.75 116.23 L422 116.09 L422.25 115.83 L422.5 115.31 L422.75 114.08 L423 110.97 L423.2 108.48 L423.25 108.7 L423.5 112.52 L423.65 114.08 L423.75 114.71 L424 113.3 L424.25 109.46 L424.5 101.26 L424.6 99.54 L424.75 102.98 L425 110.55 L425.25 113.72 L425.5 115.02 L425.75 115.65 L426 115.99 L426.25 116.19 L426.5 116.32 L426.75 116.17 L427 115.95 L427.25 115.58 L427.5 114.89 L427.75 113.47 L428 109.99 L428.25 101.7 L428.4 97.94 L428.5 99.82 L428.75 108.8 L429 113.01 L429.25 114.69 L429.5 115.33 L429.75 114.43 L430 112.49 L430.25 107.64 L430.5 97.3 L430.6 95.13 L430.75 99.47 L431 109.02 L431.25 113.02 L431.5 114.66 L431.75 115.45 L432 115.88 L432.25 116.14 L432.5 116.31 L432.75 116.4 L438.75 116.39 L439 116.37 L439.25 116.33 L439.5 116.22 L439.75 116.05 L440 115.77 L440.25 115.23 L440.5 114.09 L440.75 111.22 L441 105.1 L441.1 103.82 L441.25 106.38 L441.5 112.03 L441.75 114.4 L441.95 115.01 L442 114.83 L442.25 113.54 L442.5 111.08 L442.75 105.62 L443 91.68 L443.25 67.32 L443.3 65.93 L443.5 81.78 L443.75 101.58 L444 109.44 L444.25 112.76 L444.5 114.4 L444.75 115.32 L445 115.87 L445.25 116.24 L445.5 116.39 L448.75 116.39 L449 116.38 L449.25 116.36 L449.5 116.31 L449.75 116.22 L450 116.07 L450.25 115.81 L450.5 115.26 L450.75 113.98 L451 110.75 L451.2 108.17 L451.25 108.4 L451.5 112.37 L451.75 114.64 L451.85 114.87 L452 114.2 L452.25 112.26 L452.5 107.81 L452.75 96.39 L453 82 L453.25 96.39 L453.5 107.81 L453.75 112.26 L454 114.2 L454.25 115.19 L454.5 115.75 L454.75 116.1 L455 116.33 L455.25 116.39 L514.5 116.4 L514.5 116.4" fill="none" stroke="#1a1a1a" stroke-width="0.95"/>
<path d="M28.2 120.3 V23.6 H515.3 V120.8" fill="none" stroke="#111" stroke-width="1.4"/>
<rect x="107.5" y="24" width="2" height="2.2" fill="#111"/>
<rect x="122.8" y="24" width="2" height="2.2" fill="#111"/>
<rect x="128.2" y="24" width="2" height="2.2" fill="#111"/>
<rect x="135.9" y="24" width="2" height="2.2" fill="#111"/>
<rect x="143.6" y="24" width="2" height="2.2" fill="#111"/>
<rect x="152" y="24" width="2" height="2.2" fill="#111"/>
<rect x="160.5" y="24" width="2" height="2.2" fill="#111"/>
<rect x="174.4" y="24" width="2" height="2.2" fill="#111"/>
<rect x="183.6" y="24" width="2" height="2.2" fill="#111"/>
<rect x="198.8" y="24" width="2" height="2.2" fill="#111"/>
<rect x="211.2" y="24" width="2" height="2.2" fill="#111"/>
<rect x="222.8" y="24" width="2" height="2.2" fill="#111"/>
<rect x="231.6" y="24" width="2" height="2.2" fill="#111"/>
<rect x="245.2" y="24" width="2" height="2.2" fill="#111"/>
<rect x="254.6" y="24" width="2" height="2.2" fill="#111"/>
<rect x="265.7" y="24" width="2" height="2.2" fill="#111"/>
<rect x="272" y="24" width="2" height="2.2" fill="#111"/>
<rect x="288.4" y="24" width="2" height="2.2" fill="#111"/>
<rect x="297" y="24" width="2" height="2.2" fill="#111"/>
<rect x="308.2" y="24" width="2" height="2.2" fill="#111"/>
<rect x="319.4" y="24" width="2" height="2.2" fill="#111"/>
<rect x="330.3" y="24" width="2" height="2.2" fill="#111"/>
<rect x="341.5" y="24" width="2" height="2.2" fill="#111"/>
<rect x="352" y="24" width="2" height="2.2" fill="#111"/>
<rect x="364.4" y="24" width="2" height="2.2" fill="#111"/>
<rect x="375.5" y="24" width="2" height="2.2" fill="#111"/>
<rect x="385.9" y="24" width="2" height="2.2" fill="#111"/>
<rect x="407.2" y="24" width="2" height="2.2" fill="#111"/>
<rect x="418.1" y="24" width="2" height="2.2" fill="#111"/>
<rect x="429.6" y="24" width="2" height="2.2" fill="#111"/>
<rect x="442.3" y="24" width="2" height="2.2" fill="#111"/>
<rect x="452" y="24" width="2" height="2.2" fill="#111"/>
<text x="44" y="62.6" class="mix" textLength="38.5" lengthAdjust="spacingAndGlyphs">Mix 1</text>
<text x="162.3" y="43.1" class="an" text-anchor="middle"><tspan font-style="italic">3A</tspan>-ex3 + <tspan font-style="italic">3B</tspan>-NA1</text>
<text x="245.8" y="43.1" class="an" text-anchor="middle">C</text>
<text x="329.8" y="43.1" class="an" text-anchor="middle">C</text>
<text x="375" y="43.1" class="an" text-anchor="middle"><tspan font-style="italic">3A</tspan>-ex1</text>
<text x="429.6" y="43.1" class="an" text-anchor="middle">X</text>
<text x="455.3" y="43.1" class="an" text-anchor="middle"><tspan font-style="italic">3A</tspan>-158F</text>
<line x1="162.9" y1="48.3" x2="162.9" y2="56.2" stroke="#111" stroke-width="1.3"/>
<path d="M159.1 55.7 L166.7 55.7 L162.9 62.7 Z" fill="#111"/>
<line x1="246.2" y1="48.3" x2="246.2" y2="56.2" stroke="#111" stroke-width="1.3"/>
<path d="M242.4 55.7 L250 55.7 L246.2 62.7 Z" fill="#111"/>
<line x1="329.8" y1="48.3" x2="329.8" y2="56.2" stroke="#111" stroke-width="1.3"/>
<path d="M326 55.7 L333.6 55.7 L329.8 62.7 Z" fill="#111"/>
<line x1="377" y1="48.3" x2="377" y2="56.2" stroke="#111" stroke-width="1.3"/>
<path d="M373.2 55.7 L380.8 55.7 L377 62.7 Z" fill="#111"/>
<line x1="429.2" y1="48.3" x2="429.2" y2="56.2" stroke="#111" stroke-width="1.3"/>
<path d="M425.4 55.7 L433 55.7 L429.2 62.7 Z" fill="#111"/>
<line x1="444.6" y1="48.3" x2="444.6" y2="56.2" stroke="#111" stroke-width="1.3"/>
<path d="M440.8 55.7 L448.4 55.7 L444.6 62.7 Z" fill="#111"/>
<line x1="124.1" y1="157.2" x2="124.1" y2="254.9" stroke="#e6e6e6" stroke-width="0.9"/>
<line x1="130.9" y1="157.2" x2="130.9" y2="254.9" stroke="#e6e6e6" stroke-width="0.9"/>
<line x1="139" y1="157.2" x2="139" y2="254.9" stroke="#e6e6e6" stroke-width="0.9"/>
<line x1="146" y1="157.2" x2="146" y2="254.9" stroke="#e6e6e6" stroke-width="0.9"/>
<line x1="153.7" y1="157.2" x2="153.7" y2="254.9" stroke="#e6e6e6" stroke-width="0.9"/>
<line x1="168" y1="157.2" x2="168" y2="254.9" stroke="#e6e6e6" stroke-width="0.9"/>
<line x1="176.3" y1="157.2" x2="176.3" y2="254.9" stroke="#e6e6e6" stroke-width="0.9"/>
<line x1="185.9" y1="157.2" x2="185.9" y2="254.9" stroke="#e6e6e6" stroke-width="0.9"/>
<line x1="200.8" y1="157.2" x2="200.8" y2="254.9" stroke="#e6e6e6" stroke-width="0.9"/>
<line x1="213.3" y1="157.2" x2="213.3" y2="254.9" stroke="#e6e6e6" stroke-width="0.9"/>
<line x1="224.9" y1="157.2" x2="224.9" y2="254.9" stroke="#e6e6e6" stroke-width="0.9"/>
<line x1="234.6" y1="157.2" x2="234.6" y2="254.9" stroke="#e6e6e6" stroke-width="0.9"/>
<line x1="257.7" y1="157.2" x2="257.7" y2="254.9" stroke="#e6e6e6" stroke-width="0.9"/>
<line x1="268" y1="157.2" x2="268" y2="254.9" stroke="#e6e6e6" stroke-width="0.9"/>
<line x1="291.1" y1="157.2" x2="291.1" y2="254.9" stroke="#e6e6e6" stroke-width="0.9"/>
<line x1="299.7" y1="157.2" x2="299.7" y2="254.9" stroke="#e6e6e6" stroke-width="0.9"/>
<line x1="322.8" y1="157.2" x2="322.8" y2="254.9" stroke="#e6e6e6" stroke-width="0.9"/>
<line x1="334" y1="157.2" x2="334" y2="254.9" stroke="#e6e6e6" stroke-width="0.9"/>
<line x1="345" y1="157.2" x2="345" y2="254.9" stroke="#e6e6e6" stroke-width="0.9"/>
<line x1="355.6" y1="157.2" x2="355.6" y2="254.9" stroke="#e6e6e6" stroke-width="0.9"/>
<line x1="367.8" y1="157.2" x2="367.8" y2="254.9" stroke="#e6e6e6" stroke-width="0.9"/>
<line x1="379.2" y1="157.2" x2="379.2" y2="254.9" stroke="#e6e6e6" stroke-width="0.9"/>
<line x1="389" y1="157.2" x2="389" y2="254.9" stroke="#e6e6e6" stroke-width="0.9"/>
<line x1="399.5" y1="157.2" x2="399.5" y2="254.9" stroke="#e6e6e6" stroke-width="0.9"/>
<line x1="411.6" y1="157.2" x2="411.6" y2="254.9" stroke="#e6e6e6" stroke-width="0.9"/>
<line x1="422.6" y1="157.2" x2="422.6" y2="254.9" stroke="#e6e6e6" stroke-width="0.9"/>
<line x1="433.6" y1="157.2" x2="433.6" y2="254.9" stroke="#e6e6e6" stroke-width="0.9"/>
<line x1="446.8" y1="157.2" x2="446.8" y2="254.9" stroke="#e6e6e6" stroke-width="0.9"/>
<rect x="104.4" y="131.2" width="342.1" height="10" fill="#e9e9e9" stroke="#8c8c8c" stroke-width="1"/>
<text x="260" y="139.2" class="pm">promega</text>
<text x="42.5" y="149.6" class="ax" text-anchor="middle">60</text>
<text x="67.05" y="149.6" class="ax" text-anchor="middle">80</text>
<text x="91.6" y="149.6" class="ax" text-anchor="middle">100</text>
<text x="116.16" y="149.6" class="ax" text-anchor="middle">120</text>
<text x="140.71" y="149.6" class="ax" text-anchor="middle">140</text>
<text x="165.26" y="149.6" class="ax" text-anchor="middle">160</text>
<text x="189.81" y="149.6" class="ax" text-anchor="middle">180</text>
<text x="214.36" y="149.6" class="ax" text-anchor="middle">200</text>
<text x="238.92" y="149.6" class="ax" text-anchor="middle">220</text>
<text x="263.47" y="149.6" class="ax" text-anchor="middle">240</text>
<text x="288.02" y="149.6" class="ax" text-anchor="middle">260</text>
<text x="312.57" y="149.6" class="ax" text-anchor="middle">280</text>
<text x="337.12" y="149.6" class="ax" text-anchor="middle">300</text>
<text x="361.68" y="149.6" class="ax" text-anchor="middle">320</text>
<text x="386.23" y="149.6" class="ax" text-anchor="middle">340</text>
<text x="410.78" y="149.6" class="ax" text-anchor="middle">360</text>
<text x="435.33" y="149.6" class="ax" text-anchor="middle">380</text>
<text x="459.88" y="149.6" class="ax" text-anchor="middle">400</text>
<text x="484.44" y="149.6" class="ax" text-anchor="middle">420</text>
<text x="508.99" y="149.6" class="ax" text-anchor="middle">440</text>
<text x="23.6" y="257.9" class="ax" text-anchor="end">0</text>
<line x1="24.9" y1="255.7" x2="28.1" y2="255.7" stroke="#555" stroke-width="0.9"/>
<text x="23.6" y="241.3" class="ax" text-anchor="end">1.000</text>
<line x1="24.9" y1="239.1" x2="28.1" y2="239.1" stroke="#555" stroke-width="0.9"/>
<text x="23.6" y="224.7" class="ax" text-anchor="end">2.000</text>
<line x1="24.9" y1="222.5" x2="28.1" y2="222.5" stroke="#555" stroke-width="0.9"/>
<text x="23.6" y="208.1" class="ax" text-anchor="end">3.000</text>
<line x1="24.9" y1="205.9" x2="28.1" y2="205.9" stroke="#555" stroke-width="0.9"/>
<text x="23.6" y="191.5" class="ax" text-anchor="end">4.000</text>
<line x1="24.9" y1="189.3" x2="28.1" y2="189.3" stroke="#555" stroke-width="0.9"/>
<text x="23.6" y="174.9" class="ax" text-anchor="end">5.000</text>
<line x1="24.9" y1="172.7" x2="28.1" y2="172.7" stroke="#555" stroke-width="0.9"/>
<text x="23.6" y="158.3" class="ax" text-anchor="end">6.000</text>
<line x1="24.9" y1="156.1" x2="28.1" y2="156.1" stroke="#555" stroke-width="0.9"/>
<path d="M28.9 255.9 L28.9 255.9 L37.15 255.88 L37.4 255.86 L37.65 255.83 L37.9 255.78 L38.15 255.7 L38.4 255.59 L38.65 255.46 L38.9 255.3 L39.15 255.13 L39.4 254.98 L39.65 254.87 L39.9 254.81 L40 254.8 L40.15 254.81 L40.4 254.88 L40.65 255.01 L40.9 255.17 L41.15 255.33 L41.4 255.49 L41.65 255.62 L41.9 255.72 L42.15 255.79 L42.4 255.84 L42.65 255.87 L42.9 255.88 L47.15 255.88 L47.4 255.87 L47.65 255.84 L47.9 255.8 L48.15 255.74 L48.4 255.65 L48.65 255.54 L48.9 255.41 L49.15 255.27 L49.4 255.15 L49.65 255.05 L49.9 255 L50 255 L50.15 255.01 L50.4 255.07 L50.65 255.17 L50.9 255.3 L51.15 255.44 L51.4 255.56 L51.65 255.67 L51.9 255.75 L52.15 255.81 L52.4 255.85 L52.65 255.87 L52.9 255.89 L57.15 255.9 L57.4 255.8 L57.65 255.64 L57.9 255.4 L58.15 254.99 L58.4 254.23 L58.65 252.59 L58.9 248.48 L59.15 239.71 L59.25 237.87 L59.4 241.55 L59.65 249.64 L59.9 253.04 L60.15 254.43 L60.4 255.1 L60.5 255.27 L60.65 255.07 L60.9 254.22 L61.15 252.04 L61.4 248.24 L61.45 248.02 L61.65 250.49 L61.9 253.59 L62.15 254.81 L62.4 255.33 L62.65 255.59 L62.9 255.73 L63.15 255.82 L63.4 255.87 L63.65 255.89 L73.4 255.89 L73.65 255.74 L73.9 255.5 L74.15 255.12 L74.4 254.48 L74.65 253.28 L74.9 250.7 L75.15 244.24 L75.4 230.47 L75.5 227.58 L75.65 233.36 L75.9 246.07 L76.15 251.4 L76.4 253.59 L76.65 254.64 L76.75 254.75 L76.9 254.22 L77.15 252.49 L77.4 248.08 L77.65 240.38 L77.7 239.94 L77.9 244.95 L78.15 251.21 L78.4 253.7 L78.65 254.75 L78.9 255.27 L79.15 255.56 L79.4 255.73 L79.65 255.85 L79.9 255.89 L96.4 255.88 L96.65 255.86 L96.9 255.81 L97.15 255.7 L97.4 255.51 L97.65 255.19 L97.9 254.69 L98.15 253.98 L98.4 253.1 L98.65 252.12 L98.9 251.18 L99.15 250.43 L99.4 250.04 L99.5 250 L99.65 250.08 L99.9 250.55 L100.15 251.35 L100.4 252.32 L100.65 253.29 L100.9 254.14 L101.15 254.8 L101.4 255.26 L101.65 255.56 L101.9 255.73 L102.15 255.82 L102.4 255.87 L102.65 255.89 L104.9 255.88 L105.15 255.61 L105.4 254.97 L105.65 253.98 L105.9 252.35 L106.15 249.44 L106.4 243.55 L106.65 229.6 L106.9 194.45 L107.1 166.33 L107.15 168.8 L107.4 212.03 L107.65 236.77 L107.9 246.46 L108.15 250.83 L108.4 248.85 L108.65 241.57 L108.9 223.12 L109.15 190.81 L109.2 188.97 L109.4 209.98 L109.65 236.25 L109.9 246.67 L110.15 251.07 L110.4 253.25 L110.65 254.46 L110.9 255.2 L111.15 255.69 L111.4 255.88 L119.4 255.89 L119.65 255.74 L119.9 255.39 L120.15 254.85 L120.4 253.96 L120.65 252.37 L120.9 249.15 L121.15 241.54 L121.4 222.35 L121.6 207 L121.65 208.35 L121.9 231.95 L122.15 245.46 L122.4 250.75 L122.65 253.13 L122.85 253.78 L122.9 253.5 L123.15 251.24 L123.4 245.72 L123.65 232.55 L123.8 226.56 L123.9 229.55 L124.15 243.82 L124.4 250.51 L124.65 253.18 L124.9 254.43 L125.15 255.09 L125.4 255.48 L125.65 255.73 L125.9 255.87 L126.15 255.88 L126.4 255.89 L126.65 255.75 L126.9 255.42 L127.15 254.91 L127.4 254.08 L127.65 252.58 L127.9 249.55 L128.15 242.38 L128.4 224.3 L128.6 209.84 L128.65 211.11 L128.9 233.34 L129.15 246.06 L129.4 251.05 L129.65 253.29 L129.75 253.34 L129.9 252.09 L130.15 247.79 L130.4 236.94 L130.6 228.26 L130.65 229.03 L130.9 242.36 L131.15 250 L131.4 252.99 L131.65 254.34 L131.9 255.04 L132.15 255.45 L132.4 255.7 L132.65 255.86 L132.9 255.88 L133.15 255.89 L134.15 255.89 L134.4 255.77 L134.65 255.54 L134.9 255.19 L135.15 254.61 L135.4 253.53 L135.65 251.29 L135.9 245.84 L136.15 232.81 L136.3 226.89 L136.4 229.85 L136.65 243.96 L136.9 250.57 L137.15 253.21 L137.4 254.44 L137.65 255.01 L137.9 254.25 L138.15 252.55 L138.4 248.21 L138.65 240.63 L138.7 240.2 L138.9 245.13 L139.15 251.29 L139.4 253.73 L139.65 254.77 L139.9 255.28 L140.15 255.56 L140.4 255.74 L140.65 255.85 L140.9 255.89 L141.15 255.89 L141.4 255.85 L141.65 255.68 L141.9 255.42 L142.15 255.01 L142.4 254.28 L142.65 252.85 L142.9 249.56 L143.15 241.13 L143.4 230.52 L143.65 241.13 L143.9 249.56 L144.15 252.85 L144.4 254.28 L144.65 254.75 L144.7 254.6 L144.9 253.76 L145.15 251.57 L145.4 245.96 L145.65 236.17 L145.7 235.61 L145.9 241.98 L146.15 249.94 L146.4 253.1 L146.65 254.44 L146.9 255.1 L147.15 255.46 L147.4 255.69 L147.65 255.84 L147.9 255.89 L148.9 255.89 L149.15 255.86 L149.4 255.58 L149.65 255.17 L149.9 254.52 L150.15 253.4 L150.4 251.24 L150.65 246.46 L150.9 234.25 L151.15 212.92 L151.2 211.7 L151.4 225.58 L151.65 242.93 L151.9 249.8 L152.15 252.71 L152.4 254.15 L152.45 254.07 L152.65 252.84 L152.9 249.56 L153.15 241.12 L153.4 230.5 L153.65 241.12 L153.9 249.56 L154.15 252.84 L154.4 254.28 L154.65 255.01 L154.9 255.42 L155.15 255.68 L155.4 255.85 L155.65 255.88 L163.4 255.89 L163.65 255.82 L163.9 255.65 L164.15 255.38 L164.4 254.93 L164.65 254.14 L164.9 252.53 L165.15 248.74 L165.4 239.16 L165.6 231.5 L165.65 232.17 L165.9 243.95 L166.15 250.69 L166.4 253.33 L166.65 254.11 L166.8 253.32 L166.9 252.57 L167.15 249.14 L167.4 240.41 L167.65 225.14 L167.7 224.27 L167.9 234.2 L168.15 246.61 L168.4 251.54 L168.65 253.62 L168.9 254.65 L169.15 255.22 L169.4 255.57 L169.65 255.8 L169.9 255.89 L171.4 255.89 L171.65 255.85 L171.9 255.52 L172.15 255.02 L172.4 254.23 L172.65 252.87 L172.9 250.25 L173.15 244.45 L173.4 229.64 L173.65 203.77 L173.7 202.29 L173.9 219.12 L174.15 240.16 L174.4 248.51 L174.65 252.03 L174.9 253.78 L175 253.91 L175.15 253.02 L175.4 250.19 L175.65 243.09 L175.9 227.97 L176 224.79 L176.15 231.14 L176.4 245.11 L176.65 250.96 L176.9 253.36 L177.15 254.51 L177.4 255.14 L177.65 255.52 L177.9 255.76 L178.15 255.87 L178.4 255.89 L181.15 255.89 L181.4 255.84 L181.65 255.65 L181.9 255.37 L182.15 254.91 L182.4 254.1 L182.65 252.52 L182.9 248.88 L183.15 239.54 L183.4 227.77 L183.65 239.54 L183.9 248.88 L184.15 252.52 L184.4 254.1 L184.65 254.31 L184.9 252.87 L185.15 249.44 L185.4 240.81 L185.6 233.91 L185.65 234.52 L185.9 245.13 L186.15 251.2 L186.4 253.58 L186.65 254.66 L186.9 255.21 L187.15 255.54 L187.4 255.74 L187.65 255.88 L187.9 255.89 L196.65 255.89 L196.9 255.81 L197.15 255.52 L197.4 255.09 L197.65 254.38 L197.9 253.14 L198.15 250.7 L198.4 245.11 L198.65 230.76 L198.9 212.68 L199.15 230.76 L199.4 245.11 L199.65 250.7 L199.9 253.14 L200.05 253.66 L200.15 252.98 L200.4 249.85 L200.65 241.81 L200.9 231.67 L201.15 241.81 L201.4 249.85 L201.65 252.98 L201.9 254.35 L202.15 255.05 L202.4 255.44 L202.65 255.69 L202.9 255.85 L203.15 255.88 L203.4 255.89 L220.4 255.89 L220.65 255.75 L220.9 255.41 L221.15 254.89 L221.4 254.04 L221.65 252.51 L221.9 249.41 L222.15 242.09 L222.4 223.63 L222.6 208.86 L222.65 210.16 L222.9 232.86 L223.15 245.85 L223.4 250.94 L223.65 253.24 L223.9 254.43 L223.95 254.3 L224.15 253.29 L224.4 250.72 L224.65 244.28 L224.9 230.56 L225 227.68 L225.15 233.44 L225.4 246.11 L225.65 251.42 L225.9 253.6 L226.15 254.64 L226.4 255.21 L226.65 255.55 L226.9 255.78 L227.15 255.88 L227.4 255.89 L229.4 255.9 L229.65 255.86 L229.9 255.63 L230.15 255.28 L230.4 254.73 L230.65 253.78 L230.9 251.94 L231.15 247.88 L231.4 237.52 L231.65 219.4 L231.7 218.37 L231.9 230.15 L232.15 244.88 L232.4 250.72 L232.65 253.19 L232.9 254.41 L233.15 254.13 L233.4 252.67 L233.65 249.62 L233.9 242.17 L234.15 224.4 L234.3 216.33 L234.4 220.37 L234.65 239.61 L234.9 248.63 L235.15 252.23 L235.4 253.91 L235.65 254.81 L235.9 255.34 L236.15 255.67 L236.4 255.89 L243.4 255.89 L243.65 255.77 L243.9 255.49 L244.15 255.05 L244.4 254.34 L244.65 253.05 L244.9 250.45 L245.15 244.31 L245.4 228.81 L245.6 216.41 L245.65 217.5 L245.9 236.56 L246.15 247.47 L246.4 251.74 L246.65 253.66 L246.85 254.07 L246.9 253.83 L247.15 251.87 L247.4 247.09 L247.65 235.68 L247.8 230.5 L247.9 233.09 L248.15 245.44 L248.4 251.23 L248.65 253.55 L248.9 254.62 L249.15 255.2 L249.4 255.54 L249.65 255.75 L249.9 255.87 L250.15 255.89 L252.4 255.88 L252.65 255.58 L252.9 255.1 L253.15 254.34 L253.4 253.06 L253.65 250.67 L253.9 245.53 L254.15 232.66 L254.4 205.21 L254.5 199.45 L254.65 210.97 L254.9 236.32 L255.15 246.94 L255.4 251.29 L255.65 253.07 L255.9 250.29 L256.15 243.33 L256.4 228.5 L256.5 225.38 L256.65 231.61 L256.9 245.31 L257.15 251.05 L257.4 253.41 L257.65 254.54 L257.9 255.16 L258.15 255.53 L258.4 255.77 L258.65 255.86 L258.9 255.88 L263.65 255.89 L263.9 255.88 L264.15 255.53 L264.4 254.97 L264.65 254.11 L264.9 252.64 L265.15 249.88 L265.4 243.97 L265.65 229.15 L265.9 197.56 L266 190.93 L266.15 204.19 L266.4 233.36 L266.65 245.58 L266.9 250.6 L267.15 253 L267.2 252.72 L267.4 250.52 L267.65 244.46 L267.9 229.16 L268.1 216.92 L268.15 217.99 L268.4 236.81 L268.65 247.57 L268.9 251.79 L269.15 253.69 L269.4 254.68 L269.65 255.26 L269.9 255.62 L270.15 255.85 L270.4 255.87 L270.65 255.89 L270.9 255.77 L271.15 255.54 L271.4 255.19 L271.65 254.61 L271.9 253.53 L272.15 251.29 L272.4 245.84 L272.65 232.81 L272.8 226.89 L272.9 229.85 L273.15 243.96 L273.4 250.57 L273.65 253.21 L273.9 253.97 L273.95 253.71 L274.15 252.14 L274.4 247.68 L274.65 237.04 L274.8 232.2 L274.9 234.62 L275.15 246.14 L275.4 251.55 L275.65 253.71 L275.9 254.71 L276.15 255.25 L276.4 255.56 L276.65 255.76 L276.9 255.88 L277.15 255.89 L286.9 255.89 L287.15 255.85 L287.4 255.54 L287.65 255.08 L287.9 254.34 L288.15 253.08 L288.4 250.64 L288.65 245.25 L288.9 231.47 L289.15 207.39 L289.2 206.02 L289.4 221.68 L289.65 241.26 L289.9 249.02 L290.15 252.3 L290.35 253.02 L290.4 252.62 L290.65 249.26 L290.9 240.66 L291.15 225.65 L291.2 224.79 L291.4 234.56 L291.65 246.77 L291.9 251.61 L292.15 253.66 L292.4 254.67 L292.65 255.23 L292.9 255.58 L293.15 255.8 L293.4 255.87 L293.65 255.88 L295.4 255.89 L295.65 255.84 L295.9 255.47 L296.15 254.93 L296.4 254.05 L296.65 252.54 L296.9 249.65 L297.15 243.24 L297.4 226.86 L297.65 198.25 L297.7 196.61 L297.9 215.23 L298.15 238.49 L298.4 247.72 L298.65 251.62 L298.7 252.11 L298.9 249.74 L299.15 243.43 L299.4 227.29 L299.65 199.1 L299.7 197.49 L299.9 215.83 L300.15 238.75 L300.4 247.84 L300.65 251.69 L300.9 253.59 L301.15 254.65 L301.4 255.29 L301.65 255.71 L301.9 255.89 L318.15 255.89 L318.4 255.66 L318.65 255.23 L318.9 254.57 L319.15 253.46 L319.4 251.44 L319.65 247.23 L319.9 236.96 L320.15 212.45 L320.3 201.31 L320.4 206.88 L320.65 233.42 L320.9 245.87 L321.15 250.84 L321.4 253.16 L321.55 253.5 L321.65 252.81 L321.9 249.78 L322.15 242.17 L322.4 225.96 L322.5 222.56 L322.65 229.36 L322.9 244.33 L323.15 250.61 L323.4 253.18 L323.65 254.41 L323.9 255.09 L324.15 255.49 L324.4 255.75 L324.65 255.87 L324.9 255.88 L329.4 255.89 L329.65 255.72 L329.9 255.45 L330.15 255.02 L330.4 254.3 L330.65 252.95 L330.9 250.05 L331.15 242.79 L331.4 227.3 L331.5 224.05 L331.65 230.55 L331.9 244.85 L332.15 250.84 L332.4 253.3 L332.65 254.48 L332.75 254.44 L332.9 253.76 L333.15 251.57 L333.4 245.96 L333.65 236.17 L333.7 235.61 L333.9 241.98 L334.15 249.94 L334.4 253.1 L334.65 254.44 L334.9 255.1 L335.15 255.46 L335.4 255.69 L335.65 255.84 L335.9 255.88 L340.4 255.89 L340.65 255.73 L340.9 255.49 L341.15 255.1 L341.4 254.44 L341.65 253.21 L341.9 250.57 L342.15 243.96 L342.4 229.85 L342.5 226.89 L342.65 232.81 L342.9 245.84 L343.15 251.29 L343.4 253.53 L343.65 254.06 L343.75 253.55 L343.9 252.47 L344.15 248.96 L344.4 239.97 L344.65 224.28 L344.7 223.38 L344.9 233.59 L345.15 246.35 L345.4 251.41 L345.65 253.55 L345.9 254.61 L346.15 255.2 L346.4 255.56 L346.65 255.8 L346.9 255.89 L351.15 255.88 L351.4 255.66 L351.65 255.23 L351.9 254.57 L352.15 253.46 L352.4 251.44 L352.65 247.23 L352.9 236.96 L353.15 212.45 L353.3 201.31 L353.4 206.88 L353.65 233.42 L353.9 245.87 L354.15 250.84 L354.4 253.16 L354.45 252.97 L354.65 250.88 L354.9 244.92 L355.15 230.72 L355.3 224.27 L355.4 227.49 L355.65 242.87 L355.9 250.09 L356.15 252.97 L356.4 254.31 L356.65 255.03 L356.9 255.45 L357.15 255.72 L357.4 255.86 L357.65 255.88 L357.9 255.89 L363.15 255.89 L363.4 255.7 L363.65 255.34 L363.9 254.78 L364.15 253.85 L364.4 252.14 L364.65 248.59 L364.9 239.92 L365.15 219.24 L365.3 209.84 L365.4 214.54 L365.65 236.93 L365.9 247.44 L366.15 251.63 L366.4 253.59 L366.55 253.99 L366.65 253.44 L366.9 251.03 L367.15 244.98 L367.4 232.09 L367.5 229.38 L367.65 234.79 L367.9 246.7 L368.15 251.69 L368.4 253.74 L368.65 254.72 L368.9 255.25 L369.15 255.58 L369.4 255.78 L369.65 255.87 L369.9 255.89 L374.65 255.89 L374.9 255.84 L375.15 255.65 L375.4 255.35 L375.65 254.88 L375.9 254.05 L376.15 252.41 L376.4 248.66 L376.65 239.02 L376.9 226.89 L377.15 239.02 L377.4 248.66 L377.65 252.41 L377.9 253.77 L378.05 252.81 L378.15 251.89 L378.4 247.58 L378.65 236.5 L378.9 222.56 L379.15 236.5 L379.4 247.58 L379.65 251.89 L379.9 253.77 L380.15 254.73 L380.4 255.27 L380.65 255.61 L380.9 255.83 L381.15 255.88 L384.4 255.89 L384.65 255.87 L384.9 255.68 L385.15 255.41 L385.4 254.96 L385.65 254.2 L385.9 252.74 L386.15 249.5 L386.4 241.21 L386.65 226.74 L386.7 225.91 L386.9 235.33 L387.15 247.1 L387.4 251.76 L387.65 253.74 L387.85 254.34 L387.9 254.12 L388.15 252.3 L388.4 247.63 L388.65 239.49 L388.7 239.02 L388.9 244.32 L389.15 250.95 L389.4 253.57 L389.65 254.68 L389.9 255.23 L390.15 255.54 L390.4 255.72 L390.65 255.85 L390.9 255.88 L395.4 255.89 L395.65 255.59 L395.9 255.12 L396.15 254.39 L396.4 253.16 L396.65 250.84 L396.9 245.87 L397.15 233.42 L397.4 206.88 L397.5 201.31 L397.65 212.45 L397.9 236.96 L398.15 247.23 L398.4 251.44 L398.65 253.46 L398.75 253.74 L398.9 252.75 L399.15 249.51 L399.4 241.24 L399.65 226.8 L399.7 225.97 L399.9 235.37 L400.15 247.11 L400.4 251.77 L400.65 253.74 L400.9 254.71 L401.15 255.26 L401.4 255.59 L401.65 255.8 L401.9 255.87 L402.15 255.89 L406.9 255.89 L407.15 255.78 L407.4 255.51 L407.65 255.09 L407.9 254.41 L408.15 253.19 L408.4 250.72 L408.65 244.88 L408.9 230.15 L409.1 218.37 L409.15 219.4 L409.4 237.52 L409.65 247.88 L409.9 251.94 L410.15 253.78 L410.35 254.31 L410.4 254.1 L410.65 252.41 L410.9 248.27 L411.15 238.4 L411.3 233.91 L411.4 236.15 L411.65 246.84 L411.9 251.86 L412.15 253.86 L412.4 254.8 L412.65 255.29 L412.9 255.59 L413.15 255.77 L413.4 255.88 L413.65 255.89 L417.9 255.88 L418.15 255.65 L418.4 255.07 L418.65 254.19 L418.9 252.75 L419.15 250.16 L419.4 244.92 L419.65 232.54 L419.9 201.31 L420.1 176.32 L420.15 178.52 L420.4 216.92 L420.65 238.9 L420.9 247.51 L421.15 251.4 L421.35 252.52 L421.4 252.07 L421.65 248.45 L421.9 239.62 L422.15 218.55 L422.3 208.98 L422.4 213.77 L422.65 236.58 L422.9 247.28 L423.15 251.55 L423.4 253.54 L423.65 254.6 L423.9 255.23 L424.15 255.63 L424.4 255.44 L424.65 255.05 L424.9 254.35 L425.15 252.98 L425.4 249.83 L425.65 241.76 L425.9 231.6 L426.15 241.76 L426.4 249.83 L426.65 252.98 L426.9 254.35 L427.15 254.89 L427.4 253.96 L427.65 251.77 L427.9 246.26 L428.1 241.85 L428.15 242.23 L428.4 249.02 L428.65 252.9 L428.9 254.42 L429.15 255.1 L429.4 255.46 L429.65 255.25 L429.9 254.6 L430.15 253.53 L430.4 251.56 L430.65 247.47 L430.9 237.47 L431.15 213.62 L431.3 202.78 L431.4 208.2 L431.65 234.03 L431.9 246.14 L432.15 250.98 L432.4 253.23 L432.45 253.53 L432.65 253.22 L432.9 250.05 L433.15 242.47 L433.3 239.02 L433.4 240.75 L433.65 248.95 L433.9 252.8 L434.15 254.34 L434.4 255.05 L434.65 255.43 L434.9 255.66 L435.15 255.8 L435.4 255.88 L435.65 255.89 L442.4 255.88 L442.65 255.65 L442.9 255.27 L443.15 254.68 L443.4 253.68 L443.65 251.81 L443.9 247.78 L444.15 237.7 L444.4 216.21 L444.5 211.7 L444.65 220.72 L444.9 240.57 L445.15 248.88 L445.4 252.29 L445.65 253.55 L445.9 251.23 L446.15 245.44 L446.4 233.09 L446.5 230.5 L446.65 235.68 L446.9 247.09 L447.15 251.87 L447.4 253.83 L447.65 254.77 L447.9 255.28 L448.15 255.59 L448.4 255.79 L448.65 255.87 L448.9 255.88 L518.4 255.9 L518.6 255.9" fill="#cccccc" stroke="#969696" stroke-width="0.9"/>
<path d="M28.9 255.9 L28.9 244.24 L29.15 249.12 L29.4 252.99 L29.65 254.5 L29.9 255.16 L30.15 255.49 L30.4 255.68 L30.65 255.8 L30.9 255.88 L31.15 255.9 L37.65 255.88 L37.9 255.87 L38.15 255.84 L38.4 255.8 L38.65 255.74 L38.9 255.66 L39.15 255.55 L39.4 255.42 L39.65 255.29 L39.9 255.16 L40.15 255.07 L40.4 255.02 L40.5 255.02 L40.65 255.03 L40.9 255.09 L41.15 255.19 L41.4 255.31 L41.65 255.45 L41.9 255.57 L42.15 255.67 L42.4 255.76 L42.65 255.81 L42.9 255.85 L43.15 255.87 L43.4 255.89 L47.65 255.89 L47.9 255.88 L48.15 255.85 L48.4 255.82 L48.65 255.77 L48.9 255.7 L49.15 255.61 L49.4 255.51 L49.65 255.4 L49.9 255.3 L50.15 255.22 L50.4 255.18 L50.5 255.18 L50.65 255.19 L50.9 255.24 L51.15 255.32 L51.4 255.42 L51.65 255.53 L51.9 255.63 L52.15 255.72 L52.4 255.78 L52.65 255.83 L52.9 255.86 L53.15 255.88 L53.4 255.89 L57.65 255.89 L57.9 255.86 L58.15 255.8 L58.4 255.7 L58.65 255.54 L58.9 255.23 L59.15 254.58 L59.4 252.93 L59.65 249.42 L59.75 248.69 L59.9 250.16 L60.15 253.4 L60.4 254.75 L60.5 255.03 L60.65 255.24 L60.9 254.68 L61.15 253.49 L61.4 250.49 L61.65 244.11 L61.75 242.77 L61.9 245.45 L62.15 251.34 L62.4 253.81 L62.65 254.83 L62.9 255.31 L63.15 255.58 L63.4 255.74 L63.65 255.84 L63.9 255.9 L73.65 255.88 L73.9 255.87 L74.15 255.84 L74.4 255.74 L74.65 255.59 L74.9 255.33 L75.15 254.85 L75.4 253.82 L75.65 251.24 L75.9 245.73 L76 244.57 L76.15 246.88 L76.4 251.97 L76.65 254.1 L76.75 254.54 L76.9 254.56 L77.15 253.44 L77.4 251.01 L77.65 244.94 L77.9 232.01 L78 229.29 L78.15 234.72 L78.4 246.67 L78.65 251.68 L78.9 253.73 L79.15 254.71 L79.4 255.25 L79.65 255.57 L79.9 255.78 L80.15 255.89 L96.9 255.89 L97.15 255.87 L97.4 255.83 L97.65 255.74 L97.9 255.59 L98.15 255.33 L98.4 254.93 L98.65 254.37 L98.9 253.66 L99.15 252.88 L99.4 252.12 L99.65 251.52 L99.9 251.21 L100 251.18 L100.15 251.25 L100.4 251.62 L100.65 252.26 L100.9 253.04 L101.15 253.81 L101.4 254.49 L101.65 255.02 L101.9 255.39 L102.15 255.63 L102.4 255.77 L102.65 255.84 L102.9 255.87 L103.15 255.89 L104.9 255.88 L105.15 255.87 L105.4 255.84 L105.65 255.79 L105.9 255.53 L106.15 255.13 L106.4 254.48 L106.65 253.32 L106.9 250.96 L107.15 245.38 L107.4 231.32 L107.6 220.07 L107.65 221.06 L107.9 238.35 L108.15 248.25 L108.4 251.57 L108.65 247.13 L108.9 235.79 L109.15 215.97 L109.2 214.84 L109.4 227.73 L109.65 243.85 L109.9 250.24 L110.15 252.94 L110.4 254.27 L110.65 255.02 L110.9 255.47 L111.15 255.77 L111.4 255.88 L119.4 255.89 L119.65 255.88 L119.9 255.86 L120.15 255.83 L120.4 255.7 L120.65 255.48 L120.9 255.13 L121.15 254.49 L121.4 253.2 L121.65 250.16 L121.9 242.48 L122.1 236.34 L122.15 236.88 L122.4 246.32 L122.65 251.72 L122.85 253.55 L122.9 253.84 L123.15 252.37 L123.4 249.15 L123.65 241.54 L123.9 222.35 L124.1 207 L124.15 208.35 L124.4 231.95 L124.65 245.46 L124.9 250.75 L125.15 253.13 L125.4 254.37 L125.65 255.1 L125.9 255.55 L126.15 255.85 L126.4 255.89 L126.65 255.87 L126.9 255.85 L127.15 255.81 L127.4 255.71 L127.65 255.5 L127.9 255.17 L128.15 254.57 L128.4 253.36 L128.65 250.49 L128.9 243.26 L129.1 237.48 L129.15 237.98 L129.4 246.88 L129.65 251.97 L129.75 252.97 L129.9 252.96 L130.15 250.36 L130.4 244.4 L130.65 229.1 L130.9 209.84 L131.15 229.1 L131.4 244.4 L131.65 250.36 L131.9 252.96 L132.15 254.28 L132.4 255.03 L132.65 255.5 L132.9 255.81 L133.15 255.89 L134.65 255.88 L134.9 255.85 L135.15 255.76 L135.4 255.62 L135.65 255.38 L135.9 254.95 L136.15 254.06 L136.4 251.87 L136.65 246.66 L136.8 244.3 L136.9 245.48 L137.15 251.12 L137.4 253.77 L137.65 254.83 L137.9 254.59 L138.15 253.48 L138.4 251.09 L138.65 245.13 L138.9 232.4 L139 229.73 L139.15 235.07 L139.4 246.82 L139.65 251.75 L139.9 253.76 L140.15 254.73 L140.4 255.26 L140.65 255.58 L140.9 255.78 L141.15 255.89 L141.65 255.88 L141.9 255.87 L142.15 255.81 L142.4 255.71 L142.65 255.54 L142.9 255.25 L143.15 254.68 L143.4 253.36 L143.65 249.99 L143.9 245.75 L144.15 249.99 L144.4 253.36 L144.65 254.68 L144.7 254.83 L144.9 254.2 L145.15 252.77 L145.4 249.69 L145.65 241.98 L145.9 225.54 L146 222.09 L146.15 228.99 L146.4 244.17 L146.65 250.53 L146.9 253.14 L147.15 254.39 L147.4 255.08 L147.65 255.49 L147.9 255.75 L148.15 255.89 L149.15 255.89 L149.4 255.87 L149.65 255.85 L149.9 255.77 L150.15 255.61 L150.4 255.35 L150.65 254.9 L150.9 254.04 L151.15 252.12 L151.4 247.24 L151.65 238.71 L151.7 238.22 L151.9 243.77 L152.15 250.71 L152.4 253.46 L152.45 253.77 L152.65 253.5 L152.9 251.44 L153.15 246.86 L153.4 235.16 L153.65 214.73 L153.7 213.56 L153.9 226.86 L154.15 243.47 L154.4 250.06 L154.65 252.85 L154.9 254.22 L155.15 254.99 L155.4 255.46 L155.65 255.77 L155.9 255.89 L163.65 255.89 L163.9 255.88 L164.15 255.86 L164.4 255.8 L164.65 255.69 L164.9 255.51 L165.15 255.2 L165.4 254.55 L165.65 253.03 L165.9 249.2 L166.1 246.14 L166.15 246.41 L166.4 251.12 L166.65 253.82 L166.8 253.81 L166.9 253.25 L167.15 251.02 L167.4 246.22 L167.65 234.19 L167.9 208.56 L168 203.18 L168.15 213.94 L168.4 237.61 L168.65 247.53 L168.9 251.6 L169.15 253.55 L169.4 254.61 L169.65 255.25 L169.9 255.67 L170.15 255.89 L171.65 255.88 L171.9 255.87 L172.15 255.84 L172.4 255.75 L172.65 255.55 L172.9 255.23 L173.15 254.69 L173.4 253.64 L173.65 251.32 L173.9 245.4 L174.15 235.05 L174.2 234.46 L174.4 241.19 L174.65 249.61 L174.9 252.94 L175 253.64 L175.15 253.59 L175.4 251.67 L175.65 247.67 L175.9 237.91 L176.15 214.64 L176.3 204.06 L176.4 209.35 L176.65 234.55 L176.9 246.38 L177.15 251.1 L177.4 253.3 L177.65 254.47 L177.9 255.16 L178.15 255.6 L178.4 255.89 L181.4 255.89 L181.65 255.88 L181.9 255.86 L182.15 255.8 L182.4 255.69 L182.65 255.5 L182.9 255.18 L183.15 254.55 L183.4 253.09 L183.65 249.35 L183.9 244.65 L184.15 249.35 L184.4 253.09 L184.65 254.55 L184.9 253.56 L185.15 251.49 L185.4 246.75 L185.65 234.58 L185.9 219.25 L186.15 234.58 L186.4 246.75 L186.65 251.49 L186.9 253.56 L187.15 254.61 L187.4 255.21 L187.65 255.58 L187.9 255.83 L188.15 255.89 L196.65 255.89 L196.9 255.88 L197.15 255.86 L197.4 255.83 L197.65 255.75 L197.9 255.57 L198.15 255.29 L198.4 254.8 L198.65 253.82 L198.9 251.58 L199.15 245.84 L199.4 238.61 L199.65 245.84 L199.9 251.58 L200.05 253.16 L200.15 253.61 L200.4 251.64 L200.65 247.28 L200.9 236.12 L201.15 216.64 L201.2 215.52 L201.4 228.2 L201.65 244.05 L201.9 250.33 L202.15 252.99 L202.4 254.3 L202.65 255.03 L202.9 255.48 L203.15 255.77 L203.4 255.89 L220.65 255.88 L220.9 255.87 L221.15 255.84 L221.4 255.7 L221.65 255.5 L221.9 255.15 L222.15 254.54 L222.4 253.3 L222.65 250.38 L222.9 242.99 L223.1 237.08 L223.15 237.6 L223.4 246.68 L223.65 251.88 L223.9 253.92 L223.95 254.16 L224.15 253.8 L224.4 252.06 L224.65 248.43 L224.9 239.58 L225.15 218.46 L225.3 208.86 L225.4 213.66 L225.65 236.53 L225.9 247.26 L226.15 251.54 L226.4 253.54 L226.65 254.6 L226.9 255.23 L227.15 255.63 L227.4 255.89 L229.9 255.89 L230.15 255.87 L230.4 255.79 L230.65 255.65 L230.9 255.43 L231.15 255.05 L231.4 254.32 L231.65 252.69 L231.9 248.55 L232.15 241.3 L232.2 240.89 L232.4 245.6 L232.65 251.49 L232.9 253.83 L233.15 254.48 L233.4 253.29 L233.65 251.14 L233.9 246.8 L234.15 236.54 L234.4 210.65 L234.6 189.95 L234.65 191.76 L234.9 223.6 L235.15 241.81 L235.4 248.95 L235.65 252.17 L235.9 253.84 L236.15 254.82 L236.4 255.43 L236.65 255.83 L236.9 255.9 L243.65 255.88 L243.9 255.87 L244.15 255.84 L244.4 255.74 L244.65 255.56 L244.9 255.27 L245.15 254.76 L245.4 253.72 L245.65 251.26 L245.9 245.06 L246.1 240.1 L246.15 240.54 L246.4 248.16 L246.65 252.53 L246.85 254 L246.9 254.22 L247.15 252.85 L247.4 250.06 L247.65 243.47 L247.9 226.86 L248.1 213.56 L248.15 214.73 L248.4 235.16 L248.65 246.86 L248.9 251.44 L249.15 253.5 L249.4 254.58 L249.65 255.2 L249.9 255.6 L250.15 255.86 L250.4 255.89 L252.4 255.88 L252.65 255.86 L252.9 255.83 L253.15 255.77 L253.4 255.58 L253.65 255.28 L253.9 254.77 L254.15 253.81 L254.4 251.75 L254.65 246.6 L254.9 235.62 L255 233.32 L255.15 237.93 L255.4 248.07 L255.65 252.31 L255.9 251.75 L256.15 247.82 L256.4 238.25 L256.65 215.42 L256.8 205.04 L256.9 210.23 L257.15 234.96 L257.4 246.56 L257.65 251.19 L257.9 253.34 L258.15 254.5 L258.4 255.18 L258.65 255.61 L258.9 255.88 L263.65 255.89 L263.9 255.88 L264.15 255.86 L264.4 255.82 L264.65 255.75 L264.9 255.53 L265.15 255.18 L265.4 254.59 L265.65 253.49 L265.9 251.13 L266.15 245.2 L266.4 232.56 L266.5 229.91 L266.65 235.21 L266.9 246.88 L267.15 251.77 L267.2 252.32 L267.4 251.75 L267.65 248.08 L267.9 239.68 L268.15 218.1 L268.4 190.93 L268.65 218.1 L268.9 239.68 L269.15 248.08 L269.4 251.75 L269.65 253.62 L269.9 254.68 L270.15 255.33 L270.4 255.77 L270.65 255.89 L270.9 255.88 L271.15 255.87 L271.4 255.84 L271.65 255.76 L271.9 255.62 L272.15 255.38 L272.4 254.95 L272.65 254.06 L272.9 251.87 L273.15 246.66 L273.3 244.3 L273.4 245.48 L273.65 251.12 L273.9 253.77 L273.95 254.06 L274.15 253.05 L274.4 250.45 L274.65 244.31 L274.9 228.81 L275.1 216.41 L275.15 217.5 L275.4 236.56 L275.65 247.47 L275.9 251.74 L276.15 253.66 L276.4 254.67 L276.65 255.25 L276.9 255.62 L277.15 255.86 L277.4 255.89 L286.9 255.89 L287.15 255.88 L287.4 255.86 L287.65 255.82 L287.9 255.76 L288.15 255.57 L288.4 255.28 L288.65 254.77 L288.9 253.8 L289.15 251.64 L289.4 246.13 L289.65 236.5 L289.7 235.95 L289.9 242.21 L290.15 250.04 L290.35 252.73 L290.4 253.15 L290.65 251.1 L290.9 246.38 L291.15 234.55 L291.4 209.35 L291.5 204.06 L291.65 214.64 L291.9 237.91 L292.15 247.67 L292.4 251.67 L292.65 253.59 L292.9 254.64 L293.15 255.27 L293.4 255.67 L293.65 255.88 L295.65 255.88 L295.9 255.87 L296.15 255.85 L296.4 255.73 L296.65 255.51 L296.9 255.16 L297.15 254.56 L297.4 253.4 L297.65 250.83 L297.9 244.28 L298.15 232.84 L298.2 232.18 L298.4 239.63 L298.65 248.94 L298.7 249.98 L298.9 252.63 L299.15 250.9 L299.4 244.43 L299.65 233.12 L299.7 232.48 L299.9 239.83 L300.15 249.02 L300.4 252.67 L300.65 254.21 L300.9 254.97 L301.15 255.4 L301.4 255.66 L301.65 255.83 L301.9 255.89 L318.15 255.89 L318.4 255.87 L318.65 255.85 L318.9 255.8 L319.15 255.63 L319.4 255.37 L319.65 254.93 L319.9 254.12 L320.15 252.43 L320.4 248.32 L320.65 238.52 L320.8 234.07 L320.9 236.29 L321.15 246.91 L321.4 251.89 L321.55 253.27 L321.65 253.42 L321.9 251.36 L322.15 247.08 L322.4 236.62 L322.65 211.67 L322.8 200.33 L322.9 206 L323.15 233.02 L323.4 245.69 L323.65 250.75 L323.9 253.11 L324.15 254.37 L324.4 255.11 L324.65 255.58 L324.9 255.88 L329.65 255.88 L329.9 255.87 L330.15 255.83 L330.4 255.72 L330.65 255.55 L330.9 255.26 L331.15 254.72 L331.4 253.56 L331.65 250.65 L331.9 244.46 L332 243.16 L332.15 245.76 L332.4 251.48 L332.65 253.88 L332.75 254.37 L332.9 254.2 L333.15 252.77 L333.4 249.69 L333.65 241.98 L333.9 225.54 L334 222.09 L334.15 228.99 L334.4 244.17 L334.65 250.53 L334.9 253.14 L335.15 254.39 L335.4 255.08 L335.65 255.49 L335.9 255.75 L336.15 255.89 L340.65 255.88 L340.9 255.87 L341.15 255.83 L341.4 255.73 L341.65 255.58 L341.9 255.32 L342.15 254.83 L342.4 253.77 L342.65 251.12 L342.9 245.48 L343 244.3 L343.15 246.66 L343.4 251.87 L343.65 254.06 L343.75 253.99 L343.9 253.18 L344.15 250.88 L344.4 245.95 L344.65 233.58 L344.9 207.24 L345 201.71 L345.15 212.77 L345.4 237.1 L345.65 247.29 L345.9 251.48 L346.15 253.48 L346.4 254.58 L346.65 255.24 L346.9 255.66 L347.15 255.89 L351.15 255.88 L351.4 255.87 L351.65 255.84 L351.9 255.79 L352.15 255.63 L352.4 255.37 L352.65 254.93 L352.9 254.12 L353.15 252.43 L353.4 248.32 L353.65 238.52 L353.8 234.07 L353.9 236.29 L354.15 246.91 L354.4 251.89 L354.45 252.43 L354.65 252.1 L354.9 248.63 L355.15 240.42 L355.4 219.73 L355.6 203.18 L355.65 204.63 L355.9 230.08 L356.15 244.64 L356.4 250.34 L356.65 252.92 L356.9 254.26 L357.15 255.03 L357.4 255.52 L357.65 255.85 L357.9 255.89 L363.15 255.89 L363.4 255.88 L363.65 255.86 L363.9 255.82 L364.15 255.67 L364.4 255.45 L364.65 255.08 L364.9 254.4 L365.15 252.97 L365.4 249.51 L365.65 241.24 L365.8 237.48 L365.9 239.36 L366.15 248.31 L366.4 252.52 L366.55 253.68 L366.65 253.93 L366.9 252.29 L367.15 248.88 L367.4 240.57 L367.65 220.72 L367.8 211.7 L367.9 216.21 L368.15 237.7 L368.4 247.78 L368.65 251.81 L368.9 253.68 L369.15 254.68 L369.4 255.27 L369.65 255.65 L369.9 255.89 L374.9 255.89 L375.15 255.87 L375.4 255.85 L375.65 255.8 L375.9 255.68 L376.15 255.49 L376.4 255.16 L376.65 254.5 L376.9 253 L377.15 249.15 L377.4 244.3 L377.65 249.15 L377.9 253 L378.05 253.42 L378.15 252.75 L378.4 250.04 L378.65 244.03 L378.9 228.68 L379.15 201.87 L379.2 200.33 L379.4 217.78 L379.65 239.59 L379.9 248.24 L380.15 251.89 L380.4 253.7 L380.65 254.71 L380.9 255.32 L381.15 255.72 L381.4 255.89 L384.65 255.89 L384.9 255.88 L385.15 255.86 L385.4 255.81 L385.65 255.7 L385.9 255.53 L386.15 255.22 L386.4 254.64 L386.65 253.34 L386.9 250.02 L387.15 244.24 L387.2 243.9 L387.4 247.67 L387.65 252.38 L387.85 254 L387.9 254.25 L388.15 253.29 L388.4 250.73 L388.65 244.32 L388.9 230.64 L389 227.77 L389.15 233.51 L389.4 246.14 L389.65 251.43 L389.9 253.6 L390.15 254.65 L390.4 255.21 L390.65 255.56 L390.9 255.78 L391.15 255.89 L395.4 255.89 L395.65 255.87 L395.9 255.85 L396.15 255.77 L396.4 255.59 L396.65 255.3 L396.9 254.8 L397.15 253.88 L397.4 251.89 L397.65 246.91 L397.9 236.29 L398 234.07 L398.15 238.52 L398.4 248.32 L398.65 252.43 L398.75 253.27 L398.9 253.39 L399.15 251.28 L399.4 246.74 L399.65 235.36 L399.9 211.11 L400 206.02 L400.15 216.2 L400.4 238.59 L400.65 247.98 L400.9 251.83 L401.15 253.67 L401.4 254.68 L401.65 255.29 L401.9 255.68 L402.15 255.89 L407.15 255.88 L407.4 255.87 L407.65 255.84 L407.9 255.74 L408.15 255.58 L408.4 255.31 L408.65 254.82 L408.9 253.83 L409.15 251.49 L409.4 245.6 L409.6 240.89 L409.65 241.3 L409.9 248.55 L410.15 252.69 L410.35 254.09 L410.4 254.32 L410.65 253.26 L410.9 250.84 L411.15 245.14 L411.4 230.76 L411.6 219.25 L411.65 220.26 L411.9 237.95 L412.15 248.07 L412.4 252.04 L412.65 253.83 L412.9 254.76 L413.15 255.3 L413.4 255.64 L413.65 255.86 L413.9 255.89 L417.9 255.88 L418.15 255.87 L418.4 255.83 L418.65 255.78 L418.9 255.57 L419.15 255.22 L419.4 254.64 L419.65 253.6 L419.9 251.51 L420.15 246.56 L420.4 234.06 L420.6 224.07 L420.65 224.95 L420.9 240.31 L421.15 249.1 L421.35 252.07 L421.4 252.55 L421.65 250.26 L421.9 245.11 L422.15 232.94 L422.4 202.25 L422.6 177.7 L422.65 179.85 L422.9 217.6 L423.15 239.2 L423.4 247.66 L423.65 251.47 L423.9 253.46 L424.15 254.61 L424.4 255.34 L424.65 255.82 L424.9 255.72 L425.15 255.56 L425.4 255.28 L425.65 254.73 L425.9 253.47 L426.15 250.24 L426.4 246.18 L426.65 250.24 L426.9 253.47 L427.15 254.73 L427.4 254.4 L427.65 253.08 L427.9 250.05 L428.15 242.27 L428.4 232.48 L428.65 242.27 L428.9 250.05 L429.15 253.08 L429.4 254.4 L429.65 255.08 L429.9 255.46 L430.15 255.64 L430.4 255.38 L430.65 254.95 L430.9 254.17 L431.15 252.53 L431.4 248.53 L431.65 238.99 L431.8 234.65 L431.9 236.82 L432.15 247.15 L432.4 252 L432.45 252.53 L432.65 253.87 L432.9 252.02 L433.15 247.64 L433.4 236.6 L433.6 227.77 L433.65 228.55 L433.9 242.12 L434.15 249.89 L434.4 252.94 L434.65 254.31 L434.9 255.02 L435.15 255.44 L435.4 255.7 L435.65 255.87 L435.9 255.89 L442.4 255.88 L442.65 255.87 L442.9 255.84 L443.15 255.8 L443.4 255.65 L443.65 255.41 L443.9 255.01 L444.15 254.26 L444.4 252.65 L444.65 248.62 L444.9 240.02 L445 238.22 L445.15 241.83 L445.4 249.77 L445.65 253.09 L445.9 252.44 L446.15 249.18 L446.4 241.21 L446.65 222.2 L446.8 213.56 L446.9 217.88 L447.15 238.47 L447.4 248.12 L447.65 251.98 L447.9 253.77 L448.15 254.73 L448.4 255.3 L448.65 255.66 L448.9 255.88 L518.4 255.9 L518.6 255.9" fill="none" stroke="#1a1a1a" stroke-width="0.95"/>
<path d="M28.1 260.3 V155.2 H519.4 V260.2" fill="none" stroke="#111" stroke-width="1.4"/>
<rect x="108.2" y="155.6" width="2" height="2.2" fill="#111"/>
<rect x="123.1" y="155.6" width="2" height="2.2" fill="#111"/>
<rect x="129.9" y="155.6" width="2" height="2.2" fill="#111"/>
<rect x="138" y="155.6" width="2" height="2.2" fill="#111"/>
<rect x="145" y="155.6" width="2" height="2.2" fill="#111"/>
<rect x="152.7" y="155.6" width="2" height="2.2" fill="#111"/>
<rect x="167" y="155.6" width="2" height="2.2" fill="#111"/>
<rect x="175.3" y="155.6" width="2" height="2.2" fill="#111"/>
<rect x="184.9" y="155.6" width="2" height="2.2" fill="#111"/>
<rect x="199.8" y="155.6" width="2" height="2.2" fill="#111"/>
<rect x="212.3" y="155.6" width="2" height="2.2" fill="#111"/>
<rect x="223.9" y="155.6" width="2" height="2.2" fill="#111"/>
<rect x="233.6" y="155.6" width="2" height="2.2" fill="#111"/>
<rect x="256.7" y="155.6" width="2" height="2.2" fill="#111"/>
<rect x="267" y="155.6" width="2" height="2.2" fill="#111"/>
<rect x="290.1" y="155.6" width="2" height="2.2" fill="#111"/>
<rect x="298.7" y="155.6" width="2" height="2.2" fill="#111"/>
<rect x="321.8" y="155.6" width="2" height="2.2" fill="#111"/>
<rect x="333" y="155.6" width="2" height="2.2" fill="#111"/>
<rect x="344" y="155.6" width="2" height="2.2" fill="#111"/>
<rect x="354.6" y="155.6" width="2" height="2.2" fill="#111"/>
<rect x="366.8" y="155.6" width="2" height="2.2" fill="#111"/>
<rect x="378.2" y="155.6" width="2" height="2.2" fill="#111"/>
<rect x="388" y="155.6" width="2" height="2.2" fill="#111"/>
<rect x="398.5" y="155.6" width="2" height="2.2" fill="#111"/>
<rect x="410.6" y="155.6" width="2" height="2.2" fill="#111"/>
<rect x="421.6" y="155.6" width="2" height="2.2" fill="#111"/>
<rect x="432.6" y="155.6" width="2" height="2.2" fill="#111"/>
<rect x="445.8" y="155.6" width="2" height="2.2" fill="#111"/>
<text x="43.8" y="201.3" class="mix" textLength="40" lengthAdjust="spacingAndGlyphs">Mix 2</text>
<text x="167.6" y="167.1" class="an" text-anchor="middle"><tspan font-style="italic">3B</tspan>-NA2</text>
<text x="247.3" y="167.1" class="an" text-anchor="middle">C</text>
<text x="320" y="167.1" class="an" text-anchor="middle">C</text>
<text x="343.4" y="167.1" class="an" text-anchor="middle"><tspan font-style="italic">3A</tspan>-ex5</text>
<text x="434.8" y="167.1" class="an" text-anchor="middle">X</text>
<text x="446.6" y="167.1" class="an" text-anchor="start" word-spacing="1.6"><tspan font-style="italic">3B</tspan>-ex4 + <tspan font-style="italic">3A</tspan>-158V</text>
<line x1="168.4" y1="176" x2="168.4" y2="185.3" stroke="#111" stroke-width="1.3"/>
<path d="M164.6 184.8 L172.2 184.8 L168.4 191.8 Z" fill="#111"/>
<line x1="246.6" y1="176" x2="246.6" y2="185.3" stroke="#111" stroke-width="1.3"/>
<path d="M242.8 184.8 L250.4 184.8 L246.6 191.8 Z" fill="#111"/>
<line x1="319.5" y1="176" x2="319.5" y2="185.3" stroke="#111" stroke-width="1.3"/>
<path d="M315.7 184.8 L323.3 184.8 L319.5 191.8 Z" fill="#111"/>
<line x1="345.6" y1="176" x2="345.6" y2="185.3" stroke="#111" stroke-width="1.3"/>
<path d="M341.8 184.8 L349.4 184.8 L345.6 191.8 Z" fill="#111"/>
<line x1="434.2" y1="176" x2="434.2" y2="185.3" stroke="#111" stroke-width="1.3"/>
<path d="M430.4 184.8 L438 184.8 L434.2 191.8 Z" fill="#111"/>
<line x1="444.8" y1="176" x2="444.8" y2="185.3" stroke="#111" stroke-width="1.3"/>
<path d="M441 184.8 L448.6 184.8 L444.8 191.8 Z" fill="#111"/>
<line x1="112.6" y1="298.8" x2="112.6" y2="402.3" stroke="#e6e6e6" stroke-width="0.9"/>
<line x1="127.4" y1="298.8" x2="127.4" y2="402.3" stroke="#e6e6e6" stroke-width="0.9"/>
<line x1="133.7" y1="298.8" x2="133.7" y2="402.3" stroke="#e6e6e6" stroke-width="0.9"/>
<line x1="142.1" y1="298.8" x2="142.1" y2="402.3" stroke="#e6e6e6" stroke-width="0.9"/>
<line x1="149.3" y1="298.8" x2="149.3" y2="402.3" stroke="#e6e6e6" stroke-width="0.9"/>
<line x1="156.8" y1="298.8" x2="156.8" y2="402.3" stroke="#e6e6e6" stroke-width="0.9"/>
<line x1="165.3" y1="298.8" x2="165.3" y2="402.3" stroke="#e6e6e6" stroke-width="0.9"/>
<line x1="179.4" y1="298.8" x2="179.4" y2="402.3" stroke="#e6e6e6" stroke-width="0.9"/>
<line x1="188.8" y1="298.8" x2="188.8" y2="402.3" stroke="#e6e6e6" stroke-width="0.9"/>
<line x1="203.4" y1="298.8" x2="203.4" y2="402.3" stroke="#e6e6e6" stroke-width="0.9"/>
<line x1="215.6" y1="298.8" x2="215.6" y2="402.3" stroke="#e6e6e6" stroke-width="0.9"/>
<line x1="227" y1="298.8" x2="227" y2="402.3" stroke="#e6e6e6" stroke-width="0.9"/>
<line x1="236.5" y1="298.8" x2="236.5" y2="402.3" stroke="#e6e6e6" stroke-width="0.9"/>
<line x1="250.2" y1="298.8" x2="250.2" y2="402.3" stroke="#e6e6e6" stroke-width="0.9"/>
<line x1="259.2" y1="298.8" x2="259.2" y2="402.3" stroke="#e6e6e6" stroke-width="0.9"/>
<line x1="292.3" y1="298.8" x2="292.3" y2="402.3" stroke="#e6e6e6" stroke-width="0.9"/>
<line x1="302" y1="298.8" x2="302" y2="402.3" stroke="#e6e6e6" stroke-width="0.9"/>
<line x1="313.2" y1="298.8" x2="313.2" y2="402.3" stroke="#e6e6e6" stroke-width="0.9"/>
<line x1="324.5" y1="298.8" x2="324.5" y2="402.3" stroke="#e6e6e6" stroke-width="0.9"/>
<line x1="335.7" y1="298.8" x2="335.7" y2="402.3" stroke="#e6e6e6" stroke-width="0.9"/>
<line x1="346.8" y1="298.8" x2="346.8" y2="402.3" stroke="#e6e6e6" stroke-width="0.9"/>
<line x1="357.4" y1="298.8" x2="357.4" y2="402.3" stroke="#e6e6e6" stroke-width="0.9"/>
<line x1="369.4" y1="298.8" x2="369.4" y2="402.3" stroke="#e6e6e6" stroke-width="0.9"/>
<line x1="381" y1="298.8" x2="381" y2="402.3" stroke="#e6e6e6" stroke-width="0.9"/>
<line x1="390.3" y1="298.8" x2="390.3" y2="402.3" stroke="#e6e6e6" stroke-width="0.9"/>
<line x1="401.3" y1="298.8" x2="401.3" y2="402.3" stroke="#e6e6e6" stroke-width="0.9"/>
<line x1="423.2" y1="298.8" x2="423.2" y2="402.3" stroke="#e6e6e6" stroke-width="0.9"/>
<line x1="433.7" y1="298.8" x2="433.7" y2="402.3" stroke="#e6e6e6" stroke-width="0.9"/>
<line x1="447.4" y1="298.8" x2="447.4" y2="402.3" stroke="#e6e6e6" stroke-width="0.9"/>
<line x1="456.6" y1="298.8" x2="456.6" y2="402.3" stroke="#e6e6e6" stroke-width="0.9"/>
<rect x="107.4" y="273.7" width="365" height="10.5" fill="#e9e9e9" stroke="#8c8c8c" stroke-width="1"/>
<text x="274.8" y="281.2" class="pm">promega</text>
<text x="46" y="291.9" class="ax" text-anchor="middle">60</text>
<text x="70.39" y="291.9" class="ax" text-anchor="middle">80</text>
<text x="94.78" y="291.9" class="ax" text-anchor="middle">100</text>
<text x="119.17" y="291.9" class="ax" text-anchor="middle">120</text>
<text x="143.56" y="291.9" class="ax" text-anchor="middle">140</text>
<text x="167.95" y="291.9" class="ax" text-anchor="middle">160</text>
<text x="192.34" y="291.9" class="ax" text-anchor="middle">180</text>
<text x="216.73" y="291.9" class="ax" text-anchor="middle">200</text>
<text x="241.12" y="291.9" class="ax" text-anchor="middle">220</text>
<text x="265.51" y="291.9" class="ax" text-anchor="middle">240</text>
<text x="289.9" y="291.9" class="ax" text-anchor="middle">260</text>
<text x="314.29" y="291.9" class="ax" text-anchor="middle">280</text>
<text x="338.68" y="291.9" class="ax" text-anchor="middle">300</text>
<text x="363.07" y="291.9" class="ax" text-anchor="middle">320</text>
<text x="387.46" y="291.9" class="ax" text-anchor="middle">340</text>
<text x="411.85" y="291.9" class="ax" text-anchor="middle">360</text>
<text x="436.24" y="291.9" class="ax" text-anchor="middle">380</text>
<text x="460.63" y="291.9" class="ax" text-anchor="middle">400</text>
<text x="485.02" y="291.9" class="ax" text-anchor="middle">420</text>
<text x="509.41" y="291.9" class="ax" text-anchor="middle">440</text>
<text x="27.6" y="405.5" class="ax" text-anchor="end">0</text>
<line x1="29" y1="403.3" x2="32.2" y2="403.3" stroke="#555" stroke-width="0.9"/>
<text x="27.6" y="389.15" class="ax" text-anchor="end">2.000</text>
<line x1="29" y1="386.95" x2="32.2" y2="386.95" stroke="#555" stroke-width="0.9"/>
<text x="27.6" y="372.8" class="ax" text-anchor="end">4.000</text>
<line x1="29" y1="370.6" x2="32.2" y2="370.6" stroke="#555" stroke-width="0.9"/>
<text x="27.6" y="356.45" class="ax" text-anchor="end">6.000</text>
<line x1="29" y1="354.25" x2="32.2" y2="354.25" stroke="#555" stroke-width="0.9"/>
<text x="27.6" y="340.1" class="ax" text-anchor="end">8.000</text>
<line x1="29" y1="337.9" x2="32.2" y2="337.9" stroke="#555" stroke-width="0.9"/>
<text x="27.6" y="323.75" class="ax" text-anchor="end">10.000</text>
<line x1="29" y1="321.55" x2="32.2" y2="321.55" stroke="#555" stroke-width="0.9"/>
<text x="27.6" y="307.4" class="ax" text-anchor="end">12.000</text>
<line x1="29" y1="305.2" x2="32.2" y2="305.2" stroke="#555" stroke-width="0.9"/>
<path d="M33 403.3 L33 403.3 L38.25 403.29 L38.5 403.27 L38.75 403.25 L39 403.22 L39.25 403.17 L39.5 403.09 L39.75 402.99 L40 402.85 L40.25 402.68 L40.5 402.48 L40.75 402.25 L41 402.03 L41.25 401.82 L41.5 401.65 L41.75 401.54 L42 401.5 L42.25 401.54 L42.5 401.65 L42.75 401.82 L43 402.03 L43.25 402.25 L43.5 402.48 L43.75 402.68 L44 402.85 L44.25 402.99 L44.5 403.09 L44.75 403.17 L45 403.22 L45.25 403.25 L45.5 403.27 L45.75 403.29 L50.5 403.28 L50.75 403.27 L51 403.26 L51.25 403.23 L51.5 403.2 L51.75 403.16 L52 403.1 L52.25 403.02 L52.5 402.93 L52.75 402.81 L53 402.68 L53.25 402.54 L53.5 402.39 L53.75 402.24 L54 402.1 L54.25 401.98 L54.5 401.88 L54.75 401.82 L55 401.8 L55.25 401.82 L55.5 401.88 L55.75 401.98 L56 402.1 L56.25 402.24 L56.5 402.39 L56.75 402.54 L57 402.68 L57.25 402.81 L57.5 402.93 L57.75 403.02 L58 403.1 L58.25 403.16 L58.5 403.2 L58.75 403.23 L59 403.26 L59.25 403.27 L59.5 403.28 L64.25 403.29 L64.5 403.22 L64.75 403.11 L65 402.94 L65.25 402.65 L65.5 402.09 L65.75 400.85 L66 397.68 L66.25 392.15 L66.3 391.83 L66.5 395.43 L66.75 399.93 L67 401.72 L67.25 402.47 L67.5 402.85 L67.75 403.03 L68 403.03 L68.25 403.03 L68.5 402.86 L68.75 402.45 L69 401.44 L69.25 399.04 L69.4 397.95 L69.5 398.5 L69.75 401.1 L70 402.32 L70.25 402.8 L70.5 403.03 L70.75 403.15 L71 403.22 L71.25 403.27 L71.5 403.3 L77.25 403.3 L77.5 403.26 L77.75 403.11 L78 402.89 L78.25 402.53 L78.5 401.9 L78.75 400.67 L79 397.84 L79.25 390.59 L79.5 381.45 L79.75 390.59 L80 397.84 L80.25 400.67 L80.5 401.9 L80.75 402.49 L80.8 402.39 L81 401.79 L81.25 400.25 L81.5 396.3 L81.75 389.41 L81.8 389.01 L82 393.5 L82.25 399.11 L82.5 401.33 L82.75 402.27 L83 402.73 L83.25 402.99 L83.5 403.15 L83.75 403.25 L84 403.29 L96.75 403.29 L97 403.28 L97.25 403.25 L97.5 403.19 L97.75 403.07 L98 402.85 L98.25 402.5 L98.5 401.98 L98.75 401.28 L99 400.44 L99.25 399.55 L99.5 398.76 L99.75 398.2 L100 398 L100.25 398.2 L100.5 398.76 L100.75 399.55 L101 400.44 L101.25 401.28 L101.5 401.98 L101.75 402.5 L102 402.85 L102.25 403.07 L102.5 403.19 L102.75 403.25 L103 403.28 L103.25 403.29 L108.25 403.28 L108.5 403.14 L108.75 402.6 L109 401.79 L109.25 400.48 L109.5 398.19 L109.75 393.67 L110 383.31 L110.25 356.72 L110.5 323.23 L110.75 356.72 L111 383.31 L111.25 393.67 L111.5 398.19 L111.55 398.77 L111.75 397.27 L112 389.48 L112.25 375.85 L112.3 375.08 L112.5 362.56 L112.6 357.93 L112.75 367.19 L113 387.56 L113.25 396.1 L113.5 399.6 L113.75 401.28 L114 402.19 L114.25 402.74 L114.5 403.1 L114.75 403.28 L115 403.29 L123 403.29 L123.25 403.28 L123.5 403.15 L123.75 402.97 L124 402.67 L124.25 402.15 L124.5 401.16 L124.75 398.97 L125 393.36 L125.25 383.57 L125.3 383.01 L125.5 389.38 L125.75 397.34 L126 400.5 L126.25 401.84 L126.35 401.84 L126.5 401.06 L126.75 398.29 L127 392.37 L127.1 391.13 L127.25 393.61 L127.5 399.08 L127.75 401.37 L128 402.31 L128.25 402.76 L128.5 403 L128.75 403.15 L129 403.25 L129.25 403.28 L129.5 403.29 L129.75 403.2 L130 403.04 L130.25 402.8 L130.5 402.38 L130.75 401.61 L131 399.95 L131.25 395.79 L131.5 386.93 L131.6 385.07 L131.75 388.79 L132 396.98 L132.25 400.41 L132.5 401.81 L132.65 401.91 L132.75 401.47 L133 399.3 L133.25 394.13 L133.4 391.78 L133.5 392.95 L133.75 398.55 L134 401.18 L134.25 402.23 L134.5 402.72 L134.75 402.98 L135 403.14 L135.25 403.23 L135.5 403.28 L137.75 403.29 L138 403.26 L138.25 403.14 L138.5 402.96 L138.75 402.66 L139 402.14 L139.25 401.11 L139.5 398.75 L139.75 392.69 L140 385.07 L140.25 392.69 L140.5 398.75 L140.75 401.11 L141 402.14 L141.05 401.98 L141.25 400.96 L141.5 397.94 L141.75 392.66 L141.8 392.36 L142 395.8 L142.25 400.09 L142.5 401.79 L142.75 402.51 L143 402.87 L143.25 403.07 L143.5 403.19 L143.75 403.27 L144 403.28 L144.5 403.29 L144.75 403.18 L145 402.9 L145.25 402.47 L145.5 401.76 L145.75 400.5 L146 397.95 L146.25 391.91 L146.5 376.68 L146.7 364.49 L146.75 365.56 L147 384.29 L147.25 395.01 L147.5 399.21 L147.75 401.1 L148 401.97 L148.25 400.8 L148.5 398.12 L148.75 391.22 L149 382.54 L149.25 391.22 L149.5 398.12 L149.75 400.8 L150 401.97 L150.25 402.57 L150.5 402.91 L150.75 403.12 L151 403.26 L151.25 403.29 L152.5 403.29 L152.75 403.25 L153 403.13 L153.25 402.95 L153.5 402.66 L153.75 402.13 L154 401.07 L154.25 398.55 L154.5 392.21 L154.7 387.13 L154.75 387.58 L155 395.38 L155.25 399.85 L155.5 401.6 L155.75 402.06 L156 400.73 L156.25 397.31 L156.5 393.01 L156.75 397.31 L157 400.73 L157.25 402.06 L157.5 402.64 L157.75 402.94 L158 403.11 L158.25 403.21 L158.5 403.28 L158.75 403.29 L160.5 403.3 L160.75 403.2 L161 402.96 L161.25 402.6 L161.5 402.01 L161.75 400.95 L162 398.8 L162.25 393.72 L162.5 380.91 L162.7 370.67 L162.75 371.57 L163 387.32 L163.25 396.33 L163.5 399.86 L163.75 401.45 L164 402.28 L164.25 401.76 L164.5 400.11 L164.75 395.88 L165 390.54 L165.25 395.88 L165.5 400.11 L165.75 401.76 L166 402.49 L166.25 402.85 L166.5 403.06 L166.75 403.19 L167 403.27 L167.25 403.29 L174.5 403.3 L174.75 403.27 L175 403.11 L175.25 402.87 L175.5 402.47 L175.75 401.8 L176 400.51 L176.25 397.65 L176.5 390.34 L176.75 377.57 L176.8 376.84 L177 385.15 L177.25 395.53 L177.5 399.65 L177.75 401.39 L178 402.25 L178.1 402.33 L178.25 401.89 L178.5 400.5 L178.75 397.03 L179 389.62 L179.1 388.07 L179.25 391.18 L179.5 398.02 L179.75 400.88 L180 402.06 L180.25 402.62 L180.5 402.93 L180.75 403.11 L181 403.23 L181.25 403.29 L184 403.3 L184.25 403.27 L184.5 403.1 L184.75 402.85 L185 402.44 L185.25 401.75 L185.5 400.41 L185.75 397.44 L186 389.86 L186.25 376.62 L186.3 375.86 L186.5 384.48 L186.75 395.24 L187 399.52 L187.25 401.32 L187.5 402.21 L187.55 402.33 L187.75 401.69 L188 399.95 L188.25 395.5 L188.5 389.89 L188.75 395.5 L189 399.95 L189.25 401.69 L189.5 402.44 L189.75 402.83 L190 403.05 L190.25 403.18 L190.5 403.27 L190.75 403.29 L199.25 403.28 L199.5 403.18 L199.75 403.02 L200 402.77 L200.25 402.33 L200.5 401.49 L200.75 399.64 L201 394.9 L201.25 386.62 L201.3 386.15 L201.5 391.53 L201.75 398.27 L202 400.93 L202.25 402.06 L202.5 402.62 L202.55 402.6 L202.75 402.13 L203 400.88 L203.25 397.66 L203.5 393.6 L203.75 397.66 L204 400.88 L204.25 402.13 L204.5 402.68 L204.75 402.96 L205 403.12 L205.25 403.22 L205.5 403.28 L212.75 403.29 L213 403.24 L213.25 403.03 L213.5 402.72 L213.75 402.22 L214 401.35 L214.25 399.62 L214.5 395.67 L214.75 385.51 L215 372.72 L215.25 385.51 L215.5 395.67 L215.75 399.62 L216 401.3 L216.05 401.01 L216.25 399.24 L216.5 394 L216.75 384.83 L216.8 384.31 L217 390.27 L217.25 397.72 L217.5 400.68 L217.75 401.93 L218 402.55 L218.25 402.89 L218.5 403.1 L218.75 403.24 L219 403.27 L219.25 403.29 L223.25 403.3 L223.5 403.24 L223.75 403.06 L224 402.78 L224.25 402.34 L224.5 401.55 L224.75 400 L225 396.45 L225.25 387.34 L225.5 375.86 L225.75 387.34 L226 396.45 L226.25 400 L226.5 401.55 L226.75 402.34 L227 402.14 L227.25 400.83 L227.5 397.53 L227.7 394.89 L227.75 395.12 L228 399.18 L228.25 401.5 L228.5 402.41 L228.75 402.82 L229 403.04 L229.25 403.16 L229.5 403.24 L229.75 403.29 L232.25 403.29 L232.5 403.27 L232.75 403 L233 402.56 L233.25 401.86 L233.5 400.68 L233.75 398.46 L234 393.71 L234.25 381.79 L234.5 356.4 L234.6 351.07 L234.75 361.73 L235 385.18 L235.25 395.01 L235.5 399.04 L235.65 399.68 L235.75 398.52 L236 392.86 L236.25 379.34 L236.4 373.19 L236.5 376.27 L236.75 390.9 L237 397.77 L237.25 400.51 L237.5 401.79 L237.75 402.47 L238 402.87 L238.25 403.13 L238.5 403.25 L238.75 403.27 L239 403.29 L245.75 403.3 L246 403.26 L246.25 403.15 L246.5 402.98 L246.75 402.7 L247 402.21 L247.25 401.24 L247.5 399.02 L247.75 393.32 L248 386.15 L248.25 393.32 L248.5 399.02 L248.75 401.24 L249 402.21 L249.25 402.7 L249.3 402.64 L249.5 402.22 L249.75 401.1 L250 398.26 L250.25 393.29 L250.3 393.01 L250.5 396.24 L250.75 400.28 L251 401.88 L251.25 402.56 L251.5 402.89 L251.75 403.08 L252 403.19 L252.25 403.27 L252.5 403.29 L254.5 403.29 L254.75 403.21 L255 403 L255.25 402.69 L255.5 402.17 L255.75 401.24 L256 399.37 L256.25 394.93 L256.5 383.74 L256.7 374.78 L256.75 375.57 L257 389.33 L257.25 397.21 L257.5 400.29 L257.75 401.69 L257.95 402.02 L258 401.86 L258.25 400.49 L258.5 397.16 L258.75 389.21 L258.9 385.6 L259 387.41 L259.25 396.01 L259.5 400.05 L259.75 401.66 L260 402.41 L260.25 402.81 L260.5 403.05 L260.75 403.2 L261 403.28 L288.75 403.29 L289 403.26 L289.25 403.12 L289.5 402.92 L289.75 402.59 L290 402 L290.25 400.86 L290.5 398.23 L290.75 391.5 L291 383.01 L291.25 391.5 L291.5 398.23 L291.75 400.86 L292 402 L292.1 402.09 L292.25 401.47 L292.5 399.3 L292.75 394.13 L292.9 391.78 L293 392.95 L293.25 398.55 L293.5 401.18 L293.75 402.23 L294 402.72 L294.25 402.98 L294.5 403.14 L294.75 403.23 L295 403.28 L297.25 403.29 L297.5 403.24 L297.75 403.04 L298 402.74 L298.25 402.26 L298.5 401.42 L298.75 399.75 L299 395.93 L299.25 386.14 L299.5 373.8 L299.75 386.14 L300 395.93 L300.25 399.75 L300.5 401.42 L300.75 402.11 L301 401.03 L301.25 398.47 L301.5 392.01 L301.7 386.84 L301.75 387.29 L302 395.24 L302.25 399.78 L302.5 401.56 L302.75 402.37 L303 402.79 L303.25 403.03 L303.5 403.18 L303.75 403.28 L304 403.29 L308.75 403.3 L309 403.28 L309.25 403.2 L309.5 403.08 L309.75 402.89 L310 402.56 L310.25 401.91 L310.5 400.41 L310.75 396.57 L311 391.74 L311.25 396.57 L311.5 400.41 L311.75 401.91 L312 402.56 L312.1 402.61 L312.25 402.25 L312.5 401.02 L312.75 398.06 L312.9 396.71 L313 397.39 L313.25 400.59 L313.5 402.09 L313.75 402.69 L314 402.97 L314.25 403.12 L314.5 403.21 L314.75 403.26 L315 403.29 L319.75 403.3 L320 403.25 L320.25 403.07 L320.5 402.8 L320.75 402.37 L321 401.61 L321.25 400.12 L321.5 396.69 L321.75 387.91 L322 376.84 L322.25 387.91 L322.5 396.69 L322.75 400.12 L323 401.61 L323.25 402.37 L323.5 401.71 L323.75 399.92 L324 395.39 L324.2 391.78 L324.25 392.09 L324.5 397.66 L324.75 400.84 L325 402.09 L325.25 402.65 L325.5 402.94 L325.75 403.11 L326 403.22 L326.25 403.29 L331 403.3 L331.25 403.25 L331.5 403.12 L331.75 402.93 L332 402.62 L332.25 402.06 L332.5 400.93 L332.75 398.27 L333 391.53 L333.2 386.15 L333.25 386.62 L333.5 394.9 L333.75 399.64 L334 401.49 L334.25 402.33 L334.45 402.42 L334.5 402.31 L334.75 401.37 L335 399.08 L335.25 393.61 L335.4 391.13 L335.5 392.37 L335.75 398.29 L336 401.06 L336.25 402.17 L336.5 402.69 L336.75 402.96 L337 403.13 L337.25 403.23 L337.5 403.29 L342 403.3 L342.25 403.27 L342.5 403.09 L342.75 402.82 L343 402.38 L343.25 401.63 L343.5 400.19 L343.75 397 L344 388.85 L344.25 374.62 L344.3 373.8 L344.5 383.06 L344.75 394.64 L345 399.23 L345.25 401.17 L345.5 402.13 L345.55 402.02 L345.75 401.17 L346 398.88 L346.25 393 L346.5 385.6 L346.75 393 L347 398.88 L347.25 401.17 L347.5 402.17 L347.75 402.68 L348 402.97 L348.25 403.15 L348.5 403.26 L348.75 403.29 L352.5 403.3 L352.75 403.27 L353 403.08 L353.25 402.8 L353.5 402.36 L353.75 401.59 L354 400.12 L354.25 396.85 L354.5 388.52 L354.75 373.95 L354.8 373.12 L355 382.59 L355.25 394.44 L355.5 399.14 L355.75 401.12 L356 402.1 L356.1 402.21 L356.25 401.72 L356.5 400.16 L356.75 396.25 L357 387.94 L357.1 386.19 L357.25 389.68 L357.5 397.36 L357.75 400.58 L358 401.9 L358.25 402.54 L358.5 402.88 L358.75 403.09 L359 403.22 L359.25 403.29 L364.5 403.3 L364.75 403.28 L365 403.15 L365.25 402.97 L365.5 402.67 L365.75 402.15 L366 401.16 L366.25 398.97 L366.5 393.36 L366.75 383.57 L366.8 383.01 L367 389.38 L367.25 397.34 L367.5 400.5 L367.75 401.84 L368 402.5 L368.1 402.44 L368.25 402.06 L368.5 400.84 L368.75 397.78 L369 391.26 L369.1 389.89 L369.25 392.63 L369.5 398.65 L369.75 401.17 L370 402.21 L370.25 402.7 L370.5 402.97 L370.75 403.14 L371 403.24 L371.25 403.29 L375.5 403.29 L375.75 403.27 L376 403.25 L376.25 403.16 L376.5 402.86 L376.75 402.39 L377 401.62 L377.25 400.24 L377.5 397.45 L377.75 390.84 L378 374.19 L378.2 360.87 L378.25 362.04 L378.5 382.52 L378.75 390.9 L378.8 388.55 L379 376.27 L379.1 373.19 L379.25 379.34 L379.5 392.86 L379.75 398.52 L380 400.84 L380.25 401.96 L380.5 402.57 L380.75 402.93 L381 403.12 L381.25 403.19 L381.5 403.24 L381.75 403.26 L382 403.28 L386 403.3 L386.25 403.25 L386.5 403.13 L386.75 402.95 L387 402.66 L387.25 402.13 L387.5 401.07 L387.75 398.55 L388 392.21 L388.2 387.13 L388.25 387.58 L388.5 395.38 L388.75 399.85 L389 401.6 L389.25 402.38 L389.5 402.64 L389.75 402.06 L390 400.73 L390.25 397.31 L390.5 393.01 L390.75 397.31 L391 400.73 L391.25 402.06 L391.5 402.64 L391.75 402.94 L392 403.11 L392.25 403.21 L392.5 403.28 L392.75 403.29 L397.25 403.29 L397.5 403.26 L397.75 403.11 L398 402.89 L398.25 402.53 L398.5 401.9 L398.75 400.67 L399 397.84 L399.25 390.59 L399.5 381.45 L399.75 390.59 L400 397.84 L400.25 400.67 L400.5 401.9 L400.55 401.76 L400.75 400.57 L401 397.05 L401.25 390.89 L401.3 390.54 L401.5 394.55 L401.75 399.55 L402 401.54 L402.25 402.38 L402.5 402.79 L402.75 403.03 L403 403.17 L403.25 403.26 L403.5 403.28 L418.25 403.29 L418.5 403.19 L418.75 402.84 L419 402.31 L419.25 401.45 L419.5 399.93 L419.75 396.96 L420 390.13 L420.25 372.63 L420.5 350.58 L420.75 372.63 L421 390.13 L421.25 396.96 L421.5 399.93 L421.75 401.45 L421.85 401.51 L422 400.72 L422.25 398.28 L422.5 392.32 L422.75 378.12 L422.9 371.67 L423 374.89 L423.25 390.27 L423.5 397.49 L423.75 400.37 L424 401.71 L424.25 402.43 L424.5 402.85 L424.75 403.12 L425 403.27 L425.25 403.23 L425.5 403.12 L425.75 402.95 L426 402.66 L426.25 402.12 L426.5 400.96 L426.75 398.05 L427 391.86 L427.1 390.56 L427.25 393.16 L427.5 398.88 L427.75 401.28 L428 402.26 L428.15 402.25 L428.25 401.91 L428.5 400.26 L428.75 396.33 L428.9 394.54 L429 395.43 L429.25 399.69 L429.5 401.69 L429.75 402.49 L430 402.86 L430.25 402.73 L430.5 402.22 L430.75 401.34 L431 399.64 L431.25 395.89 L431.5 386.31 L431.75 369.56 L431.8 368.61 L432 379.5 L432.25 393.12 L432.5 398.51 L432.75 400.8 L433 401.93 L433.15 402.19 L433.25 401.89 L433.5 400.6 L433.75 397.55 L434 389.87 L434.2 383.72 L434.25 384.26 L434.5 393.71 L434.75 399.12 L435 401.24 L435.25 402.19 L435.5 402.69 L435.75 402.98 L436 403.16 L436.25 403.28 L442.75 403.3 L443 403.23 L443.25 402.99 L443.5 402.62 L443.75 402.04 L444 401 L444.25 398.97 L444.5 394.32 L444.75 382.37 L445 367.33 L445.25 382.37 L445.5 394.32 L445.75 398.97 L446 401 L446.25 402.04 L446.3 402.18 L446.5 402.25 L446.75 401.17 L447 398.4 L447.25 393.58 L447.3 393.3 L447.5 396.44 L447.75 400.37 L448 401.92 L448.25 402.58 L448.5 402.9 L448.75 403.09 L449 403.2 L449.25 403.27 L449.5 403.29 L452.5 403.3 L452.75 403.23 L453 403.07 L453.25 402.83 L453.5 402.43 L453.75 401.72 L454 400.29 L454.25 396.88 L454.5 388.31 L454.7 381.45 L454.75 382.05 L455 392.6 L455.25 398.63 L455.5 401 L455.75 402.06 L456 402.62 L456.05 402.7 L456.25 402.44 L456.5 401.6 L456.75 399.5 L457 395.01 L457.1 394.07 L457.25 395.95 L457.5 400.1 L457.75 401.83 L458 402.55 L458.25 402.89 L458.5 403.07 L458.75 403.19 L459 403.26 L459.25 403.29 L518 403.3 L518.2 403.3" fill="#cccccc" stroke="#969696" stroke-width="0.9"/>
<path d="M33 403.3 L33 392.07 L33.25 393.78 L33.5 396.2 L33.75 398.64 L34 400.61 L34.25 401.93 L34.5 402.69 L34.75 403.06 L35 403.22 L35.25 403.27 L35.5 403.29 L38.75 403.29 L39 403.28 L39.25 403.26 L39.5 403.24 L39.75 403.2 L40 403.14 L40.25 403.05 L40.5 402.94 L40.75 402.8 L41 402.64 L41.25 402.46 L41.5 402.28 L41.75 402.12 L42 401.98 L42.25 401.89 L42.5 401.86 L42.75 401.89 L43 401.98 L43.25 402.12 L43.5 402.28 L43.75 402.46 L44 402.64 L44.25 402.8 L44.5 402.94 L44.75 403.05 L45 403.14 L45.25 403.2 L45.5 403.24 L45.75 403.26 L46 403.28 L46.25 403.29 L51 403.29 L51.25 403.28 L51.5 403.27 L51.75 403.25 L52 403.22 L52.25 403.19 L52.5 403.14 L52.75 403.08 L53 403 L53.25 402.91 L53.5 402.81 L53.75 402.69 L54 402.57 L54.25 402.45 L54.5 402.34 L54.75 402.24 L55 402.16 L55.25 402.12 L55.5 402.1 L55.75 402.12 L56 402.16 L56.25 402.24 L56.5 402.34 L56.75 402.45 L57 402.57 L57.25 402.69 L57.5 402.81 L57.75 402.91 L58 403 L58.25 403.08 L58.5 403.14 L58.75 403.19 L59 403.22 L59.25 403.25 L59.5 403.27 L59.75 403.28 L60 403.29 L64.75 403.3 L65 403.27 L65.25 403.22 L65.5 403.16 L65.75 403.04 L66 402.82 L66.25 402.32 L66.5 401.05 L66.75 398.84 L66.8 398.71 L67 400.15 L67.25 401.95 L67.5 402.67 L67.75 402.97 L68 403.03 L68.25 403.03 L68.5 402.95 L68.75 402.66 L69 402.07 L69.25 400.68 L69.5 397.18 L69.7 394.38 L69.75 394.63 L70 398.93 L70.25 401.4 L70.5 402.36 L70.75 402.8 L71 403.02 L71.25 403.15 L71.5 403.24 L71.75 403.29 L77.75 403.29 L78 403.27 L78.25 403.22 L78.5 403.14 L78.75 402.99 L79 402.74 L79.25 402.25 L79.5 401.12 L79.75 398.21 L80 394.56 L80.25 398.21 L80.5 401.12 L80.75 402.25 L80.8 402.38 L81 402.1 L81.25 401.09 L81.5 398.93 L81.75 393.49 L82 381.92 L82.1 379.49 L82.25 384.35 L82.5 395.04 L82.75 399.52 L83 401.36 L83.25 402.24 L83.5 402.72 L83.75 403.01 L84 403.19 L84.25 403.3 L97.5 403.28 L97.75 403.26 L98 403.21 L98.25 403.11 L98.5 402.94 L98.75 402.66 L99 402.24 L99.25 401.68 L99.5 401.01 L99.75 400.3 L100 399.67 L100.25 399.22 L100.5 399.06 L100.75 399.22 L101 399.67 L101.25 400.3 L101.5 401.01 L101.75 401.68 L102 402.24 L102.25 402.66 L102.5 402.94 L102.75 403.11 L103 403.21 L103.25 403.26 L103.5 403.28 L108.25 403.28 L108.5 403.27 L108.75 403.24 L109 403.2 L109.25 403.02 L109.5 402.7 L109.75 402.17 L110 401.26 L110.25 399.45 L110.5 395.3 L110.75 384.67 L111 371.27 L111.25 384.67 L111.5 395.3 L111.55 396.46 L111.75 398.94 L112 394.66 L112.25 383.93 L112.5 361.06 L112.6 356.26 L112.75 365.86 L113 386.98 L113.25 395.83 L113.5 399.46 L113.75 401.2 L114 402.15 L114.25 402.72 L114.5 403.09 L114.75 403.28 L115 403.29 L123.25 403.29 L123.5 403.28 L123.75 403.26 L124 403.24 L124.25 403.17 L124.5 403.05 L124.75 402.84 L125 402.44 L125.25 401.57 L125.5 399.33 L125.75 395.41 L125.8 395.19 L126 397.73 L126.25 400.92 L126.35 401.57 L126.5 401.64 L126.75 400.08 L127 396.26 L127.25 387.15 L127.4 383.01 L127.5 385.08 L127.75 394.95 L128 399.57 L128.25 401.42 L128.5 402.28 L128.75 402.74 L129 403.01 L129.25 403.18 L129.5 403.29 L129.75 403.28 L130 403.27 L130.25 403.25 L130.5 403.2 L130.75 403.1 L131 402.93 L131.25 402.62 L131.5 401.96 L131.75 400.3 L132 396.75 L132.1 396.01 L132.25 397.5 L132.5 400.77 L132.65 401.74 L132.75 401.91 L133 400.65 L133.25 397.66 L133.5 390.12 L133.7 384.09 L133.75 384.62 L134 393.89 L134.25 399.2 L134.5 401.28 L134.75 402.21 L135 402.7 L135.25 402.98 L135.5 403.16 L135.75 403.28 L138 403.29 L138.25 403.28 L138.5 403.26 L138.75 403.24 L139 403.16 L139.25 403.04 L139.5 402.83 L139.75 402.42 L140 401.48 L140.25 399.06 L140.5 396.01 L140.75 399.06 L141 401.48 L141.05 401.74 L141.25 401.61 L141.5 399.95 L141.75 395.79 L142 386.93 L142.1 385.07 L142.25 388.79 L142.5 396.98 L142.75 400.41 L143 401.81 L143.25 402.49 L143.5 402.86 L143.75 403.08 L144 403.22 L144.25 403.29 L144.75 403.29 L145 403.27 L145.25 403.25 L145.5 403.14 L145.75 402.97 L146 402.69 L146.25 402.18 L146.5 401.16 L146.75 398.74 L147 392.65 L147.2 387.78 L147.25 388.2 L147.5 395.7 L147.75 399.98 L148 401.66 L148.25 401.34 L148.5 399.65 L148.75 395.91 L149 386.36 L149.25 369.66 L149.3 368.71 L149.5 379.57 L149.75 393.14 L150 398.53 L150.25 400.8 L150.5 401.93 L150.75 402.56 L151 402.94 L151.25 403.19 L151.5 403.29 L152.75 403.29 L153 403.28 L153.25 403.26 L153.5 403.23 L153.75 403.16 L154 403.04 L154.25 402.83 L154.5 402.41 L154.75 401.4 L155 398.86 L155.2 396.83 L155.25 397.01 L155.5 400.13 L155.75 401.92 L156 401.49 L156.25 399.64 L156.5 394.9 L156.75 386.62 L156.8 386.15 L157 391.53 L157.25 398.27 L157.5 400.93 L157.75 402.06 L158 402.62 L158.25 402.93 L158.5 403.12 L158.75 403.25 L159 403.29 L161 403.28 L161.25 403.26 L161.5 403.16 L161.75 403.02 L162 402.78 L162.25 402.36 L162.5 401.5 L162.75 399.47 L163 394.34 L163.2 390.25 L163.25 390.61 L163.5 396.91 L163.75 400.51 L164 401.92 L164.25 402.1 L164.5 401.06 L164.75 398.76 L165 392.88 L165.25 382.62 L165.3 382.03 L165.5 388.71 L165.75 397.06 L166 400.37 L166.25 401.77 L166.5 402.46 L166.75 402.84 L167 403.08 L167.25 403.23 L167.5 403.3 L175 403.29 L175.25 403.27 L175.5 403.22 L175.75 403.13 L176 402.97 L176.25 402.7 L176.5 402.18 L176.75 401.04 L177 398.12 L177.25 393.01 L177.3 392.72 L177.5 396.04 L177.75 400.19 L178 401.84 L178.1 402.18 L178.25 402.17 L178.5 401.23 L178.75 399.27 L179 394.49 L179.25 383.1 L179.4 377.92 L179.5 380.51 L179.75 392.85 L180 398.64 L180.25 400.95 L180.5 402.02 L180.75 402.6 L181 402.94 L181.25 403.15 L181.5 403.29 L184.5 403.29 L184.75 403.27 L185 403.22 L185.25 403.12 L185.5 402.96 L185.75 402.68 L186 402.14 L186.25 400.96 L186.5 397.92 L186.75 392.63 L186.8 392.32 L187 395.77 L187.25 400.08 L187.5 401.79 L187.55 401.98 L187.75 402.04 L188 400.95 L188.25 398.53 L188.5 392.36 L188.75 381.57 L188.8 380.96 L189 387.97 L189.25 396.74 L189.5 400.22 L189.75 401.69 L190 402.41 L190.25 402.82 L190.5 403.07 L190.75 403.23 L191 403.29 L199.75 403.28 L200 403.25 L200.25 403.19 L200.5 403.09 L200.75 402.91 L201 402.58 L201.25 401.83 L201.5 399.94 L201.75 396.63 L201.8 396.44 L202 398.59 L202.25 401.29 L202.5 402.35 L202.55 402.47 L202.75 402.38 L203 401.6 L203.25 399.85 L203.5 395.38 L203.75 387.58 L203.8 387.13 L204 392.21 L204.25 398.55 L204.5 401.07 L204.75 402.13 L205 402.66 L205.25 402.95 L205.5 403.13 L205.75 403.25 L206 403.3 L212.75 403.29 L213 403.28 L213.25 403.26 L213.5 403.24 L213.75 403.19 L214 403.07 L214.25 402.87 L214.5 402.52 L214.75 401.83 L215 400.25 L215.25 396.18 L215.5 391.07 L215.75 396.18 L216 400.25 L216.05 400.69 L216.25 400.37 L216.5 397.49 L216.75 390.27 L217 374.88 L217.1 371.65 L217.25 378.11 L217.5 392.32 L217.75 398.27 L218 400.72 L218.25 401.89 L218.5 402.53 L218.75 402.91 L219 403.16 L219.25 403.29 L223.75 403.29 L224 403.28 L224.25 403.2 L224.5 403.09 L224.75 402.91 L225 402.6 L225.25 401.98 L225.5 400.56 L225.75 396.91 L226 392.32 L226.25 396.91 L226.5 400.56 L226.75 401.98 L227 402.41 L227.25 401.61 L227.5 399.8 L227.75 395.15 L228 389.29 L228.25 395.15 L228.5 399.8 L228.75 401.61 L229 402.41 L229.25 402.81 L229.5 403.04 L229.75 403.18 L230 403.27 L230.25 403.3 L232.25 403.29 L232.5 403.27 L232.75 403.25 L233 403.22 L233.25 403.16 L233.5 403 L233.75 402.72 L234 402.25 L234.25 401.36 L234.5 399.46 L234.75 394.7 L235 384.54 L235.1 382.41 L235.25 386.67 L235.5 396.05 L235.65 398.84 L235.75 399.68 L236 396.38 L236.25 388.57 L236.5 368.88 L236.7 353.12 L236.75 354.51 L237 378.72 L237.25 392.58 L237.5 398.01 L237.75 400.46 L238 401.74 L238.25 402.48 L238.5 402.94 L238.75 403.25 L239 403.29 L246.25 403.29 L246.5 403.28 L246.75 403.24 L247 403.17 L247.25 403.06 L247.5 402.86 L247.75 402.47 L248 401.59 L248.25 399.31 L248.5 396.44 L248.75 399.31 L249 401.59 L249.25 402.47 L249.3 402.58 L249.5 402.44 L249.75 401.71 L250 400.15 L250.25 396.24 L250.5 387.9 L250.6 386.15 L250.75 389.65 L251 397.35 L251.25 400.58 L251.5 401.9 L251.75 402.53 L252 402.88 L252.25 403.09 L252.5 403.22 L252.75 403.3 L254.75 403.29 L255 403.28 L255.25 403.26 L255.5 403.18 L255.75 403.05 L256 402.85 L256.25 402.48 L256.5 401.73 L256.75 399.95 L257 395.47 L257.2 391.89 L257.25 392.21 L257.5 397.71 L257.75 400.86 L257.95 401.93 L258 402.1 L258.25 401.17 L258.5 399.23 L258.75 394.64 L259 383.06 L259.2 373.8 L259.25 374.62 L259.5 388.85 L259.75 397 L260 400.19 L260.25 401.63 L260.5 402.38 L260.75 402.82 L261 403.09 L261.25 403.27 L261.5 403.3 L289 403.29 L289.25 403.28 L289.5 403.26 L289.75 403.23 L290 403.15 L290.25 403.01 L290.5 402.78 L290.75 402.32 L291 401.27 L291.25 398.58 L291.5 395.19 L291.75 398.58 L292 401.27 L292.1 401.81 L292.25 401.91 L292.5 400.65 L292.75 397.66 L293 390.12 L293.2 384.09 L293.25 384.62 L293.5 393.89 L293.75 399.2 L294 401.28 L294.25 402.21 L294.5 402.7 L294.75 402.98 L295 403.16 L295.25 403.28 L297.5 403.29 L297.75 403.28 L298 403.26 L298.25 403.2 L298.5 403.08 L298.75 402.89 L299 402.55 L299.25 401.88 L299.5 400.35 L299.75 396.44 L300 391.5 L300.25 396.44 L300.5 400.35 L300.75 401.88 L301 401.55 L301.25 400 L301.5 396.45 L301.75 387.34 L302 375.86 L302.25 387.34 L302.5 396.45 L302.75 400 L303 401.55 L303.25 402.34 L303.5 402.78 L303.75 403.06 L304 403.24 L304.25 403.29 L309.25 403.29 L309.5 403.28 L309.75 403.26 L310 403.21 L310.25 403.14 L310.5 403 L310.75 402.74 L311 402.14 L311.25 400.61 L311.5 398.67 L311.75 400.61 L312 402.14 L312.1 402.45 L312.25 402.51 L312.5 401.79 L312.75 400.08 L313 395.77 L313.2 392.32 L313.25 392.63 L313.5 397.92 L313.75 400.96 L314 402.14 L314.25 402.68 L314.5 402.96 L314.75 403.12 L315 403.22 L315.25 403.29 L320.25 403.29 L320.5 403.27 L320.75 403.21 L321 403.1 L321.25 402.93 L321.5 402.62 L321.75 402.03 L322 400.66 L322.25 397.14 L322.5 392.72 L322.75 397.14 L323 400.66 L323.25 402.03 L323.5 402.07 L323.75 400.99 L324 398.5 L324.25 392.12 L324.5 384.09 L324.75 392.12 L325 398.5 L325.25 400.99 L325.5 402.07 L325.75 402.62 L326 402.94 L326.25 403.13 L326.5 403.26 L326.75 403.3 L331.5 403.29 L331.75 403.27 L332 403.23 L332.25 403.15 L332.5 403.03 L332.75 402.81 L333 402.35 L333.25 401.29 L333.5 398.59 L333.7 396.44 L333.75 396.63 L334 399.94 L334.25 401.83 L334.45 402.47 L334.5 402.5 L334.75 401.84 L335 400.5 L335.25 397.34 L335.5 389.38 L335.7 383.01 L335.75 383.57 L336 393.36 L336.25 398.97 L336.5 401.16 L336.75 402.15 L337 402.67 L337.25 402.97 L337.5 403.15 L337.75 403.28 L338 403.3 L342.5 403.28 L342.75 403.26 L343 403.22 L343.25 403.11 L343.5 402.93 L343.75 402.63 L344 402.06 L344.25 400.78 L344.5 397.52 L344.75 391.83 L344.8 391.5 L345 395.21 L345.25 399.84 L345.5 401.67 L345.55 401.88 L345.75 401.63 L346 400.19 L346.25 397 L346.5 388.85 L346.75 374.62 L346.8 373.8 L347 383.06 L347.25 394.64 L347.5 399.23 L347.75 401.17 L348 402.13 L348.25 402.67 L348.5 402.99 L348.75 403.21 L349 403.29 L353 403.28 L353.25 403.27 L353.5 403.21 L353.75 403.1 L354 402.92 L354.25 402.62 L354.5 402.03 L354.75 400.72 L355 397.39 L355.25 391.56 L355.3 391.23 L355.5 395.02 L355.75 399.76 L356 401.63 L356.1 402.03 L356.25 402.03 L356.5 400.97 L356.75 398.77 L357 393.41 L357.25 380.6 L357.4 374.78 L357.5 377.69 L357.75 391.56 L358 398.06 L358.25 400.66 L358.5 401.87 L358.75 402.51 L359 402.89 L359.25 403.14 L359.5 403.29 L365 403.29 L365.25 403.28 L365.5 403.24 L365.75 403.17 L366 403.05 L366.25 402.84 L366.5 402.44 L366.75 401.57 L367 399.33 L367.25 395.41 L367.3 395.19 L367.5 397.73 L367.75 400.92 L368 402.18 L368.1 402.44 L368.25 402.3 L368.5 401.48 L368.75 399.75 L369 395.55 L369.25 385.52 L369.4 380.96 L369.5 383.24 L369.75 394.1 L370 399.2 L370.25 401.23 L370.5 402.18 L370.75 402.68 L371 402.98 L371.25 403.17 L371.5 403.29 L375.5 403.29 L375.75 403.27 L376 403.25 L376.25 403.21 L376.5 403.15 L376.75 403.07 L377 402.96 L377.25 402.82 L377.5 402.63 L377.75 402.08 L378 400.96 L378.25 398.32 L378.5 391.66 L378.7 386.33 L378.75 386.79 L378.8 388.06 L379 385.89 L379.25 363.36 L379.4 353.12 L379.5 358.24 L379.75 382.64 L380 394.08 L380.25 398.65 L380.5 394.91 L380.75 383.74 L381 369.69 L381.25 383.74 L381.5 394.91 L381.75 399.25 L382 401.15 L382.25 402.12 L382.5 402.67 L382.75 403.01 L383 403.23 L383.25 403.3 L386.5 403.29 L386.75 403.28 L387 403.23 L387.25 403.16 L387.5 403.04 L387.75 402.83 L388 402.41 L388.25 401.4 L388.5 398.86 L388.7 396.83 L388.75 397.01 L389 400.13 L389.25 401.92 L389.5 402.62 L389.75 402.33 L390 401.49 L390.25 399.64 L390.5 394.9 L390.75 386.62 L390.8 386.15 L391 391.53 L391.25 398.27 L391.5 400.93 L391.75 402.06 L392 402.62 L392.25 402.93 L392.5 403.12 L392.75 403.25 L393 403.3 L397.5 403.29 L397.75 403.27 L398 403.26 L398.25 403.22 L398.5 403.14 L398.75 402.99 L399 402.74 L399.25 402.25 L399.5 401.12 L399.75 398.21 L400 394.56 L400.25 398.21 L400.5 401.12 L400.55 401.43 L400.75 401.33 L401 399.39 L401.25 394.54 L401.5 384.2 L401.6 382.03 L401.75 386.37 L402 395.92 L402.25 399.92 L402.5 401.56 L402.75 402.35 L403 402.78 L403.25 403.04 L403.5 403.21 L403.75 403.29 L418.5 403.28 L418.75 403.27 L419 403.24 L419.25 403.12 L419.5 402.9 L419.75 402.56 L420 401.95 L420.25 400.76 L420.5 398.03 L420.75 391.03 L421 382.21 L421.25 391.03 L421.5 398.03 L421.75 400.76 L421.85 401.35 L422 401.21 L422.25 399.5 L422.5 396.03 L422.75 387.82 L423 367.13 L423.2 350.58 L423.25 352.03 L423.5 377.48 L423.75 392.04 L424 397.74 L424.25 400.32 L424.5 401.66 L424.75 402.43 L425 402.92 L425.25 403.25 L425.5 403.28 L425.75 403.26 L426 403.23 L426.25 403.16 L426.5 403.04 L426.75 402.83 L427 402.36 L427.25 401.2 L427.5 398.72 L427.6 398.2 L427.75 399.24 L428 401.53 L428.15 402.21 L428.25 402.25 L428.5 401.29 L428.75 399.01 L429 393.28 L429.2 388.7 L429.25 389.1 L429.5 396.15 L429.75 400.18 L430 401.76 L430.25 402.47 L430.5 402.84 L430.75 403.06 L431 402.87 L431.25 402.51 L431.5 401.84 L431.75 400.34 L432 396.5 L432.25 389.81 L432.3 389.42 L432.5 393.78 L432.75 399.23 L433 401.39 L433.15 402.01 L433.25 402.15 L433.5 401.22 L433.75 399.37 L434 395.15 L434.25 384.31 L434.5 370.67 L434.75 384.31 L435 395.15 L435.25 399.37 L435.5 401.22 L435.75 402.15 L436 402.69 L436.25 403.02 L436.5 403.23 L436.75 403.3 L443.25 403.29 L443.5 403.27 L443.75 403.17 L444 403.03 L444.25 402.79 L444.5 402.38 L444.75 401.57 L445 399.71 L445.25 394.93 L445.5 388.91 L445.75 394.93 L446 399.71 L446.25 401.57 L446.3 401.78 L446.5 402.38 L446.75 401.76 L447 400.24 L447.25 396.44 L447.5 388.34 L447.6 386.64 L447.75 390.04 L448 397.52 L448.25 400.65 L448.5 401.94 L448.75 402.56 L449 402.89 L449.25 403.1 L449.5 403.23 L449.75 403.3 L453 403.29 L453.25 403.27 L453.5 403.21 L453.75 403.11 L454 402.95 L454.25 402.67 L454.5 402.09 L454.75 400.73 L455 397.3 L455.2 394.56 L455.25 394.8 L455.5 399.02 L455.75 401.43 L456 402.38 L456.05 402.49 L456.25 402.61 L456.5 402.04 L456.75 400.86 L457 397.96 L457.25 391.05 L457.4 387.91 L457.5 389.48 L457.75 396.96 L458 400.47 L458.25 401.87 L458.5 402.53 L458.75 402.88 L459 403.08 L459.25 403.21 L459.5 403.3 L518 403.3 L518.2 403.3" fill="none" stroke="#1a1a1a" stroke-width="0.95"/>
<path d="M32.2 406.8 V296.8 H519 V406.8" fill="none" stroke="#111" stroke-width="1.4"/>
<rect x="111.6" y="297.2" width="2" height="2.2" fill="#111"/>
<rect x="126.4" y="297.2" width="2" height="2.2" fill="#111"/>
<rect x="132.7" y="297.2" width="2" height="2.2" fill="#111"/>
<rect x="141.1" y="297.2" width="2" height="2.2" fill="#111"/>
<rect x="148.3" y="297.2" width="2" height="2.2" fill="#111"/>
<rect x="155.8" y="297.2" width="2" height="2.2" fill="#111"/>
<rect x="164.3" y="297.2" width="2" height="2.2" fill="#111"/>
<rect x="178.4" y="297.2" width="2" height="2.2" fill="#111"/>
<rect x="187.8" y="297.2" width="2" height="2.2" fill="#111"/>
<rect x="202.4" y="297.2" width="2" height="2.2" fill="#111"/>
<rect x="214.6" y="297.2" width="2" height="2.2" fill="#111"/>
<rect x="226" y="297.2" width="2" height="2.2" fill="#111"/>
<rect x="235.5" y="297.2" width="2" height="2.2" fill="#111"/>
<rect x="249.2" y="297.2" width="2" height="2.2" fill="#111"/>
<rect x="258.2" y="297.2" width="2" height="2.2" fill="#111"/>
<rect x="291.3" y="297.2" width="2" height="2.2" fill="#111"/>
<rect x="301" y="297.2" width="2" height="2.2" fill="#111"/>
<rect x="312.2" y="297.2" width="2" height="2.2" fill="#111"/>
<rect x="323.5" y="297.2" width="2" height="2.2" fill="#111"/>
<rect x="334.7" y="297.2" width="2" height="2.2" fill="#111"/>
<rect x="345.8" y="297.2" width="2" height="2.2" fill="#111"/>
<rect x="356.4" y="297.2" width="2" height="2.2" fill="#111"/>
<rect x="368.4" y="297.2" width="2" height="2.2" fill="#111"/>
<rect x="380" y="297.2" width="2" height="2.2" fill="#111"/>
<rect x="389.3" y="297.2" width="2" height="2.2" fill="#111"/>
<rect x="400.3" y="297.2" width="2" height="2.2" fill="#111"/>
<rect x="422.2" y="297.2" width="2" height="2.2" fill="#111"/>
<rect x="432.7" y="297.2" width="2" height="2.2" fill="#111"/>
<rect x="446.4" y="297.2" width="2" height="2.2" fill="#111"/>
<rect x="455.6" y="297.2" width="2" height="2.2" fill="#111"/>
<text x="49.1" y="345.2" class="mix" textLength="38.8" lengthAdjust="spacingAndGlyphs">Mix 1</text>
<text x="167.4" y="320.5" class="an" text-anchor="middle"><tspan font-style="italic">3A</tspan>-ex3 + <tspan font-style="italic">3B</tspan>-NA1</text>
<text x="250.4" y="320.5" class="an" text-anchor="middle">C</text>
<text x="333.6" y="320.5" class="an" text-anchor="middle">C</text>
<text x="378.5" y="320.5" class="an" text-anchor="middle"><tspan font-style="italic">3A</tspan>-ex1</text>
<text x="432.4" y="320.5" class="an" text-anchor="middle">X</text>
<text x="457.6" y="320.5" class="an" text-anchor="middle"><tspan font-style="italic">3A</tspan>-158F</text>
<line x1="162.5" y1="330" x2="162.5" y2="339.5" stroke="#111" stroke-width="1.3"/>
<path d="M158.7 339 L166.3 339 L162.5 346 Z" fill="#111"/>
<line x1="250.4" y1="330" x2="250.4" y2="339.5" stroke="#111" stroke-width="1.3"/>
<path d="M246.6 339 L254.2 339 L250.4 346 Z" fill="#111"/>
<line x1="333.6" y1="330" x2="333.6" y2="339.5" stroke="#111" stroke-width="1.3"/>
<path d="M329.8 339 L337.4 339 L333.6 346 Z" fill="#111"/>
<line x1="380" y1="330" x2="380" y2="339.5" stroke="#111" stroke-width="1.3"/>
<path d="M376.2 339 L383.8 339 L380 346 Z" fill="#111"/>
<line x1="431.6" y1="330" x2="431.6" y2="339.5" stroke="#111" stroke-width="1.3"/>
<path d="M427.8 339 L435.4 339 L431.6 346 Z" fill="#111"/>
<line x1="447.4" y1="330" x2="447.4" y2="339.5" stroke="#111" stroke-width="1.3"/>
<path d="M443.6 339 L451.2 339 L447.4 346 Z" fill="#111"/>
<line x1="110" y1="443.7" x2="110" y2="560.2" stroke="#e6e6e6" stroke-width="0.9"/>
<line x1="124.9" y1="443.7" x2="124.9" y2="560.2" stroke="#e6e6e6" stroke-width="0.9"/>
<line x1="131.3" y1="443.7" x2="131.3" y2="560.2" stroke="#e6e6e6" stroke-width="0.9"/>
<line x1="139.6" y1="443.7" x2="139.6" y2="560.2" stroke="#e6e6e6" stroke-width="0.9"/>
<line x1="146.7" y1="443.7" x2="146.7" y2="560.2" stroke="#e6e6e6" stroke-width="0.9"/>
<line x1="154" y1="443.7" x2="154" y2="560.2" stroke="#e6e6e6" stroke-width="0.9"/>
<line x1="168.7" y1="443.7" x2="168.7" y2="560.2" stroke="#e6e6e6" stroke-width="0.9"/>
<line x1="176.3" y1="443.7" x2="176.3" y2="560.2" stroke="#e6e6e6" stroke-width="0.9"/>
<line x1="185.8" y1="443.7" x2="185.8" y2="560.2" stroke="#e6e6e6" stroke-width="0.9"/>
<line x1="201.6" y1="443.7" x2="201.6" y2="560.2" stroke="#e6e6e6" stroke-width="0.9"/>
<line x1="213.5" y1="443.7" x2="213.5" y2="560.2" stroke="#e6e6e6" stroke-width="0.9"/>
<line x1="224.6" y1="443.7" x2="224.6" y2="560.2" stroke="#e6e6e6" stroke-width="0.9"/>
<line x1="233.6" y1="443.7" x2="233.6" y2="560.2" stroke="#e6e6e6" stroke-width="0.9"/>
<line x1="245.2" y1="443.7" x2="245.2" y2="560.2" stroke="#e6e6e6" stroke-width="0.9"/>
<line x1="256.1" y1="443.7" x2="256.1" y2="560.2" stroke="#e6e6e6" stroke-width="0.9"/>
<line x1="267.3" y1="443.7" x2="267.3" y2="560.2" stroke="#e6e6e6" stroke-width="0.9"/>
<line x1="290.5" y1="443.7" x2="290.5" y2="560.2" stroke="#e6e6e6" stroke-width="0.9"/>
<line x1="299" y1="443.7" x2="299" y2="560.2" stroke="#e6e6e6" stroke-width="0.9"/>
<line x1="320.8" y1="443.7" x2="320.8" y2="560.2" stroke="#e6e6e6" stroke-width="0.9"/>
<line x1="332.7" y1="443.7" x2="332.7" y2="560.2" stroke="#e6e6e6" stroke-width="0.9"/>
<line x1="343.3" y1="443.7" x2="343.3" y2="560.2" stroke="#e6e6e6" stroke-width="0.9"/>
<line x1="354" y1="443.7" x2="354" y2="560.2" stroke="#e6e6e6" stroke-width="0.9"/>
<line x1="365.8" y1="443.7" x2="365.8" y2="560.2" stroke="#e6e6e6" stroke-width="0.9"/>
<line x1="397.6" y1="443.7" x2="397.6" y2="560.2" stroke="#e6e6e6" stroke-width="0.9"/>
<line x1="420.1" y1="443.7" x2="420.1" y2="560.2" stroke="#e6e6e6" stroke-width="0.9"/>
<line x1="431.3" y1="443.7" x2="431.3" y2="560.2" stroke="#e6e6e6" stroke-width="0.9"/>
<line x1="443.9" y1="443.7" x2="443.9" y2="560.2" stroke="#e6e6e6" stroke-width="0.9"/>
<rect x="104.4" y="418.2" width="340.1" height="10.9" fill="#e9e9e9" stroke="#8c8c8c" stroke-width="1"/>
<text x="259.4" y="427" class="pm">promega</text>
<text x="43" y="437" class="ax" text-anchor="middle">60</text>
<text x="67.38" y="437" class="ax" text-anchor="middle">80</text>
<text x="91.76" y="437" class="ax" text-anchor="middle">100</text>
<text x="116.14" y="437" class="ax" text-anchor="middle">120</text>
<text x="140.52" y="437" class="ax" text-anchor="middle">140</text>
<text x="164.9" y="437" class="ax" text-anchor="middle">160</text>
<text x="189.28" y="437" class="ax" text-anchor="middle">180</text>
<text x="213.66" y="437" class="ax" text-anchor="middle">200</text>
<text x="238.04" y="437" class="ax" text-anchor="middle">220</text>
<text x="262.42" y="437" class="ax" text-anchor="middle">240</text>
<text x="286.8" y="437" class="ax" text-anchor="middle">260</text>
<text x="311.18" y="437" class="ax" text-anchor="middle">280</text>
<text x="335.56" y="437" class="ax" text-anchor="middle">300</text>
<text x="359.94" y="437" class="ax" text-anchor="middle">320</text>
<text x="384.32" y="437" class="ax" text-anchor="middle">340</text>
<text x="408.7" y="437" class="ax" text-anchor="middle">360</text>
<text x="433.08" y="437" class="ax" text-anchor="middle">380</text>
<text x="457.46" y="437" class="ax" text-anchor="middle">400</text>
<text x="481.84" y="437" class="ax" text-anchor="middle">420</text>
<text x="506.22" y="437" class="ax" text-anchor="middle">440</text>
<text x="25.3" y="564.6" class="ax" text-anchor="end">0</text>
<line x1="26.2" y1="562.4" x2="29.4" y2="562.4" stroke="#555" stroke-width="0.9"/>
<text x="25.3" y="542.6" class="ax" text-anchor="end">1.000</text>
<line x1="26.2" y1="540.4" x2="29.4" y2="540.4" stroke="#555" stroke-width="0.9"/>
<text x="25.3" y="520.5" class="ax" text-anchor="end">2.000</text>
<line x1="26.2" y1="518.3" x2="29.4" y2="518.3" stroke="#555" stroke-width="0.9"/>
<text x="25.3" y="498.5" class="ax" text-anchor="end">3.000</text>
<line x1="26.2" y1="496.3" x2="29.4" y2="496.3" stroke="#555" stroke-width="0.9"/>
<text x="25.3" y="476.4" class="ax" text-anchor="end">4.000</text>
<line x1="26.2" y1="474.2" x2="29.4" y2="474.2" stroke="#555" stroke-width="0.9"/>
<text x="25.3" y="454.4" class="ax" text-anchor="end">5.000</text>
<line x1="26.2" y1="452.2" x2="29.4" y2="452.2" stroke="#555" stroke-width="0.9"/>
<path d="M30.2 561.2 L30.2 554.24 L30.45 551.87 L30.7 549.44 L30.95 547.27 L31.2 545.71 L31.45 545.02 L31.5 545 L31.7 545.32 L31.95 546.56 L32.2 548.52 L32.45 550.88 L32.7 553.31 L32.95 555.54 L33.2 557.38 L33.45 558.78 L33.7 559.76 L33.95 560.39 L34.2 560.78 L34.45 560.99 L34.7 561.1 L34.95 561.16 L35.2 561.18 L40.95 561.18 L41.2 561.17 L41.45 561.14 L41.7 561.09 L41.95 561.01 L42.2 560.89 L42.45 560.71 L42.7 560.45 L42.95 560.11 L43.2 559.67 L43.45 559.16 L43.7 558.59 L43.95 557.99 L44.2 557.44 L44.45 556.97 L44.7 556.64 L44.95 556.5 L45 556.5 L45.2 556.56 L45.45 556.82 L45.7 557.24 L45.95 557.76 L46.2 558.31 L46.45 557.65 L46.7 557.04 L46.95 556.52 L47.2 556.16 L47.45 556 L47.5 556 L47.7 556.07 L47.95 556.35 L48.2 556.81 L48.45 557.4 L48.7 558.05 L48.95 558.69 L49.2 559.29 L49.45 559.81 L49.7 560.23 L49.95 560.55 L50.2 560.79 L50.45 560.95 L50.7 561.05 L50.95 561.12 L51.2 561.16 L51.45 561.18 L51.7 561.19 L52.7 561.18 L52.95 561.16 L53.2 561.13 L53.45 561.06 L53.7 560.94 L53.95 560.75 L54.2 560.47 L54.45 560.09 L54.7 559.61 L54.95 559.07 L55.2 558.51 L55.45 558.02 L55.7 557.66 L55.95 557.5 L56 557.5 L56.2 557.57 L56.45 557.86 L56.7 558.3 L56.95 558.84 L57.2 559.4 L57.45 559.91 L57.7 560.33 L57.95 560.65 L58.2 560.87 L58.45 561.02 L58.7 561.1 L58.95 561.15 L59.2 561.18 L59.45 561.19 L62.45 561.19 L62.7 561.1 L62.95 560.92 L63.2 560.64 L63.45 560.17 L63.7 559.32 L63.95 557.54 L64.2 553.21 L64.45 542.87 L64.6 538.17 L64.7 540.52 L64.95 551.72 L65.2 556.97 L65.45 559.07 L65.7 559.35 L65.95 557.45 L66.2 552.59 L66.45 544.1 L66.5 543.62 L66.7 549.14 L66.95 556.04 L67.2 558.78 L67.45 559.93 L67.7 560.5 L67.95 560.82 L68.2 561.02 L68.45 561.14 L68.7 561.18 L74.2 561.19 L74.45 561.05 L74.7 560.69 L74.95 560.16 L75.2 559.27 L75.45 557.69 L75.7 554.5 L75.95 546.93 L76.2 527.85 L76.4 512.59 L76.45 513.93 L76.7 537.39 L76.95 550.82 L77.2 556.08 L77.45 558.45 L77.7 559.68 L77.8 559.4 L77.95 558.62 L78.2 556.27 L78.45 550.7 L78.7 536.67 L78.9 525.45 L78.95 526.44 L79.2 543.69 L79.45 553.56 L79.7 557.43 L79.95 559.18 L80.2 560.09 L80.45 560.61 L80.7 560.94 L80.95 561.16 L81.2 561.19 L88.45 561.19 L88.7 561.18 L88.95 561.15 L89.2 561.08 L89.45 560.95 L89.7 560.73 L89.95 560.4 L90.2 559.96 L90.45 559.46 L90.7 558.98 L90.95 558.63 L91.2 558.5 L91.45 558.63 L91.7 558.98 L91.95 559.46 L92.2 559.96 L92.45 560.4 L92.7 560.73 L92.95 560.95 L93.2 561.08 L93.45 561.15 L93.7 561.18 L93.95 561.19 L98.7 561.19 L98.95 561.18 L99.2 561.15 L99.45 561.11 L99.7 561.03 L99.95 560.91 L100.2 560.73 L100.45 560.48 L100.7 560.17 L100.95 559.82 L101.2 559.46 L101.45 559.14 L101.7 558.91 L101.95 558.8 L102 558.8 L102.2 558.85 L102.45 559.03 L102.7 559.32 L102.95 559.67 L103.2 560.03 L103.45 560.36 L103.7 560.63 L103.95 560.84 L104.2 560.99 L104.45 561.08 L104.7 561.03 L104.95 560.94 L105.2 560.83 L105.45 560.67 L105.7 560.46 L105.95 560.21 L106.2 559.9 L106.45 559.36 L106.7 557.82 L106.95 554.63 L107.2 546.85 L107.45 528.28 L107.6 519.84 L107.7 524.06 L107.95 544.17 L108.2 553.6 L108.45 557 L108.5 557 L108.7 557.04 L108.8 556.28 L108.95 553.95 L109.2 546.15 L109.45 526.13 L109.7 500.93 L109.95 526.13 L110.2 546.15 L110.45 553.95 L110.7 557.35 L110.95 559.08 L111.2 560.06 L111.45 560.59 L111.7 560.77 L111.95 560.9 L112.2 561 L112.45 561.07 L112.7 561.12 L112.95 561.15 L113.2 561.17 L113.45 561.18 L120.2 561.19 L120.45 561.13 L120.7 560.7 L120.95 560.06 L121.2 559.05 L121.45 557.29 L121.7 553.92 L121.95 546.44 L122.2 527.36 L122.45 494.02 L122.5 492.11 L122.7 513.8 L122.95 540.92 L123.2 551.67 L123.45 556.22 L123.7 557.87 L123.95 554.73 L124.2 547.06 L124.45 528.77 L124.6 520.45 L124.7 524.61 L124.95 544.42 L125.2 553.72 L125.45 557.43 L125.7 559.15 L125.95 560.07 L126.2 560.62 L126.45 560.97 L126.7 561.15 L126.95 561 L127.2 560.54 L127.45 559.84 L127.7 558.69 L127.95 556.63 L128.2 552.47 L128.45 542.62 L128.7 517.77 L128.9 497.89 L128.95 499.64 L129.2 530.19 L129.45 547.68 L129.7 554.53 L129.95 557.62 L130.1 558.08 L130.2 557.17 L130.45 553.02 L130.7 542.45 L130.95 523.98 L131 522.92 L131.2 534.94 L131.45 549.96 L131.7 555.92 L131.95 558.44 L132.2 559.68 L132.45 560.38 L132.7 560.8 L132.95 561.08 L133.2 561.16 L133.45 561.18 L134.45 561.19 L134.7 561.06 L134.95 560.61 L135.2 559.92 L135.45 558.81 L135.7 556.86 L135.95 553.03 L136.2 544.24 L136.45 521.69 L136.7 493.29 L136.95 521.69 L137.2 544.24 L137.45 553.03 L137.7 556.86 L137.95 558.81 L138.15 559.12 L138.2 559.07 L138.45 557.27 L138.7 553.4 L138.95 543.72 L139.2 523.08 L139.3 518.75 L139.45 527.41 L139.7 546.47 L139.95 554.46 L140.2 557.73 L140.45 559.31 L140.7 560.16 L140.95 560.68 L141.2 561.01 L141.45 561.18 L141.7 561.19 L142.2 561.19 L142.45 560.91 L142.7 560.49 L142.95 559.83 L143.2 558.7 L143.45 556.59 L143.7 552.06 L143.95 540.7 L144.2 516.5 L144.3 511.42 L144.45 521.58 L144.7 543.93 L144.95 553.3 L145.2 557.14 L145.45 558.98 L145.5 559.23 L145.7 557.98 L145.95 554.35 L146.2 545.19 L146.4 537.86 L146.45 538.5 L146.7 549.77 L146.95 556.21 L147.2 558.74 L147.45 559.88 L147.7 560.47 L147.95 560.82 L148.2 561.03 L148.45 561.17 L148.7 561.18 L149.45 561.19 L149.7 561.09 L149.95 560.73 L150.2 560.18 L150.45 559.3 L150.7 557.75 L150.95 554.69 L151.2 547.69 L151.45 529.73 L151.7 507.1 L151.95 529.73 L152.2 547.69 L152.45 554.69 L152.7 557.75 L152.85 557.96 L152.95 557 L153.2 552.48 L153.45 540.88 L153.7 526.27 L153.95 540.88 L154.2 552.48 L154.45 557 L154.7 558.97 L154.95 559.97 L155.2 560.54 L155.45 560.9 L155.7 561.13 L155.95 561.17 L156.2 561.18 L164.2 561.18 L164.45 561 L164.7 560.55 L164.95 559.87 L165.2 558.74 L165.45 556.72 L165.7 552.63 L165.95 542.96 L166.2 518.58 L166.4 499.07 L166.45 500.78 L166.7 530.77 L166.95 547.93 L167.2 554.65 L167.45 557.68 L167.55 557.55 L167.7 555.77 L167.95 549.63 L168.2 534.17 L168.4 521.8 L168.45 522.89 L168.7 541.9 L168.95 552.79 L169.2 557.05 L169.45 558.97 L169.7 559.97 L169.95 560.55 L170.2 560.92 L170.45 561.14 L170.7 561.17 L170.95 561.18 L171.7 561.18 L171.95 560.98 L172.2 560.49 L172.45 559.74 L172.7 558.51 L172.95 556.3 L173.2 551.83 L173.45 541.26 L173.7 514.61 L173.9 493.29 L173.95 495.16 L174.2 527.94 L174.45 546.7 L174.7 554.04 L174.95 557.36 L175.1 557.82 L175.2 556.83 L175.45 552.35 L175.7 540.9 L175.95 520.89 L176 519.75 L176.2 532.76 L176.45 549.03 L176.7 555.48 L176.95 558.21 L177.2 559.56 L177.45 560.31 L177.7 560.77 L177.95 561.07 L178.2 561.16 L178.45 561.18 L178.7 561.19 L181.2 561.19 L181.45 560.97 L181.7 560.44 L181.95 559.64 L182.2 558.32 L182.45 555.96 L182.7 551.18 L182.95 539.88 L183.2 511.38 L183.4 488.58 L183.45 490.58 L183.7 525.63 L183.95 545.69 L184.2 553.55 L184.45 557.09 L184.6 558.32 L184.7 557.71 L184.95 554.13 L185.2 544.99 L185.45 529.01 L185.5 528.1 L185.7 538.49 L185.95 551.48 L186.2 556.63 L186.45 558.81 L186.7 559.89 L186.95 560.49 L187.2 560.86 L187.45 561.09 L187.7 561.17 L187.95 561.18 L208.45 561.19 L208.7 561.17 L208.95 561.15 L209.2 560.85 L209.45 560.24 L209.7 559.29 L209.95 557.7 L210.2 554.8 L210.45 548.75 L210.7 534 L210.95 498.8 L211.1 482.8 L211.2 490.8 L211.45 528.92 L211.7 546.8 L211.95 552.26 L212.2 540.69 L212.45 520.49 L212.5 519.33 L212.7 532.48 L212.95 548.91 L213.2 555.43 L213.45 558.18 L213.7 559.54 L213.95 560.3 L214.2 560.76 L214.45 561.04 L214.7 561.11 L214.95 561.15 L215.2 561.17 L215.45 561.19 L220.45 561.18 L220.7 561.03 L220.95 560.48 L221.2 559.64 L221.45 558.28 L221.7 555.9 L221.95 551.21 L222.2 540.47 L222.45 512.91 L222.7 478.19 L222.95 512.91 L223.2 540.47 L223.45 551.21 L223.7 555.9 L223.9 557.3 L223.95 556.78 L224.2 552.43 L224.45 541.54 L224.7 518.33 L224.8 513.45 L224.95 523.2 L225.2 544.64 L225.45 553.62 L225.7 557.3 L225.95 559.07 L226.2 560.04 L226.45 560.62 L226.7 560.99 L226.95 561.15 L227.2 561.17 L227.45 561.19 L229.45 561.19 L229.7 561.02 L229.95 560.43 L230.2 559.55 L230.45 558.12 L230.7 555.6 L230.95 550.65 L231.2 539.3 L231.45 510.17 L231.7 473.49 L231.95 510.17 L232.2 539.3 L232.45 550.65 L232.7 555.6 L232.9 557.73 L232.95 558.12 L233.2 556.02 L233.45 549.58 L233.7 535.86 L233.8 532.98 L233.95 538.74 L234.2 551.41 L234.45 556.72 L234.7 558.9 L234.95 559.94 L235.2 560.51 L235.45 560.85 L235.7 561.08 L235.95 561.17 L236.2 561.18 L242.95 561.19 L243.2 561.1 L243.45 560.78 L243.7 560.29 L243.95 559.5 L244.2 558.12 L244.45 555.4 L244.7 549.16 L244.95 533.15 L245.2 512.98 L245.45 533.15 L245.7 549.16 L245.95 555.4 L246.2 558.12 L246.4 558.9 L246.45 558.59 L246.7 556.02 L246.95 549.58 L247.2 535.86 L247.3 532.98 L247.45 538.74 L247.7 551.41 L247.95 556.72 L248.2 558.9 L248.45 559.94 L248.7 560.51 L248.95 560.85 L249.2 561.08 L249.45 561.17 L249.7 561.18 L251.95 561.19 L252.2 561.07 L252.45 560.63 L252.7 559.96 L252.95 558.89 L253.2 557.01 L253.45 553.3 L253.7 544.8 L253.95 523 L254.2 495.54 L254.45 523 L254.7 544.8 L254.95 553.3 L255.2 557.01 L255.4 557.76 L255.45 557.3 L255.7 553.46 L255.95 543.84 L256.2 523.34 L256.3 519.04 L256.45 527.64 L256.7 546.57 L256.95 554.51 L257.2 557.76 L257.45 559.32 L257.7 560.17 L257.95 560.68 L258.2 561.01 L258.45 561.16 L258.7 561.18 L258.95 561.19 L263.45 561.19 L263.7 561.04 L263.95 560.77 L264.2 560.33 L264.45 559.62 L264.7 558.3 L264.95 555.57 L265.2 548.89 L265.45 532.96 L265.6 525.72 L265.7 529.34 L265.95 546.59 L266.2 554.68 L266.45 557.91 L266.7 559.42 L266.8 559.38 L266.95 558.51 L267.2 555.62 L267.45 548.2 L267.7 538.86 L267.95 548.2 L268.2 555.62 L268.45 558.51 L268.7 559.77 L268.95 560.41 L269.2 560.78 L269.45 561.01 L269.7 561.15 L269.95 561.18 L286.45 561.18 L286.7 560.96 L286.95 560.52 L287.2 559.85 L287.45 558.74 L287.7 556.7 L287.95 552.44 L288.2 542.06 L288.45 517.29 L288.6 506.03 L288.7 511.66 L288.95 538.48 L289.2 551.07 L289.45 556.09 L289.7 558.43 L289.8 558.53 L289.95 557.27 L290.2 553.04 L290.45 542.18 L290.7 528.51 L290.95 542.18 L291.2 553.04 L291.45 557.27 L291.7 559.11 L291.95 560.05 L292.2 560.58 L292.45 560.91 L292.7 561.13 L292.95 561.17 L293.2 561.19 L294.7 561.19 L294.95 561.18 L295.2 560.86 L295.45 560.25 L295.7 559.32 L295.95 557.76 L296.2 554.9 L296.45 548.94 L296.7 534.41 L296.95 499.74 L297.1 483.98 L297.2 491.86 L297.45 529.4 L297.7 547.02 L297.95 554.05 L298.2 557.32 L298.3 557.7 L298.45 556.04 L298.7 550.5 L298.95 536.26 L299.2 518.33 L299.45 536.26 L299.7 550.5 L299.95 556.04 L300.2 558.46 L300.45 559.69 L300.7 560.39 L300.95 560.83 L301.2 561.11 L301.45 561.16 L301.7 561.18 L317.45 561.18 L317.7 560.92 L317.95 560.42 L318.2 559.64 L318.45 558.35 L318.7 555.99 L318.95 551.07 L319.2 539.07 L319.45 510.42 L319.6 497.4 L319.7 503.91 L319.95 534.93 L320.2 549.48 L320.45 555.29 L320.7 558 L320.8 558.08 L320.95 556.59 L321.2 551.64 L321.45 538.93 L321.7 522.92 L321.95 538.93 L322.2 551.64 L322.45 556.59 L322.7 558.76 L322.95 559.85 L323.2 560.48 L323.45 560.87 L323.7 561.12 L323.95 561.17 L324.2 561.18 L328.7 561.18 L328.95 560.94 L329.2 560.55 L329.45 559.93 L329.7 558.9 L329.95 556.95 L330.2 552.78 L330.45 542.31 L330.7 520.02 L330.8 515.34 L330.95 524.7 L331.2 545.29 L331.45 553.92 L331.7 557.46 L331.95 558.95 L332.2 556.73 L332.45 551.18 L332.7 539.34 L332.8 536.86 L332.95 541.82 L333.2 552.75 L333.45 557.33 L333.7 559.21 L333.95 560.11 L334.2 560.61 L334.45 560.9 L334.7 561.09 L334.95 561.17 L335.2 561.18 L339.45 561.18 L339.7 560.99 L339.95 560.31 L340.2 559.29 L340.45 557.63 L340.7 554.71 L340.95 548.97 L341.2 535.82 L341.45 502.07 L341.7 459.57 L341.95 502.07 L342.2 535.82 L342.45 548.97 L342.7 554.71 L342.85 556.67 L342.95 556.13 L343.2 550.67 L343.45 536.67 L343.7 519.04 L343.95 536.67 L344.2 550.67 L344.45 556.13 L344.7 558.51 L344.95 559.72 L345.2 560.41 L345.45 560.83 L345.7 561.11 L345.95 561.16 L346.2 561.18 L346.45 561.19 L349.95 561.18 L350.2 560.9 L350.45 560.37 L350.7 559.54 L350.95 558.17 L351.2 555.66 L351.45 550.42 L351.7 537.64 L351.95 507.15 L352.1 493.29 L352.2 500.22 L352.45 533.24 L352.7 548.73 L352.95 554.91 L353.2 557.79 L353.3 557.98 L353.45 556.46 L353.7 551.36 L353.95 538.28 L354.2 521.8 L354.45 538.28 L354.7 551.36 L354.95 556.46 L355.2 558.68 L355.45 559.81 L355.7 560.46 L355.95 560.86 L356.2 561.12 L356.45 561.17 L356.7 561.18 L361.7 561.19 L361.95 561.05 L362.2 560.71 L362.45 560.19 L362.7 559.34 L362.95 557.81 L363.2 554.71 L363.45 547.39 L363.7 528.93 L363.9 514.16 L363.95 515.46 L364.2 538.16 L364.45 551.15 L364.7 556.24 L364.95 558.54 L365.1 558.84 L365.2 558.15 L365.45 555.02 L365.7 547.03 L365.95 533.07 L366 532.27 L366.2 541.35 L366.45 552.71 L366.7 557.21 L366.95 559.11 L367.2 560.05 L367.45 560.58 L367.7 560.9 L367.95 561.11 L368.2 561.17 L368.45 561.19 L393.95 561.19 L394.2 561.13 L394.45 560.92 L394.7 560.59 L394.95 560.05 L395.2 559.12 L395.45 557.27 L395.7 553.05 L395.95 542.21 L396.2 528.57 L396.45 542.21 L396.7 553.05 L396.95 557.27 L397.2 559.12 L397.35 559.01 L397.45 558.35 L397.7 555.28 L397.95 547.41 L398.2 537.5 L398.45 547.41 L398.7 555.28 L398.95 558.35 L399.2 559.69 L399.45 560.37 L399.7 560.75 L399.95 560.99 L400.2 561.15 L400.45 561.18 L415.45 561.19 L415.7 561.17 L415.95 561.15 L416.2 560.73 L416.45 559.91 L416.7 558.63 L416.95 556.49 L417.2 552.58 L417.45 544.44 L417.7 524.58 L417.95 477.19 L418.1 455.65 L418.2 466.42 L418.45 517.74 L418.7 541.81 L418.95 551.42 L419.1 552.69 L419.2 549.87 L419.45 535.8 L419.7 505.81 L419.8 499.52 L419.95 512.11 L420.2 539.8 L420.45 551.41 L420.7 556.16 L420.95 558.45 L421.2 559.7 L421.45 560.44 L421.7 560.93 L421.95 561.09 L422.2 561.14 L422.45 561.17 L422.7 561.19 L427.45 561.19 L427.7 561.17 L427.95 561 L428.2 560.56 L428.45 559.88 L428.7 558.76 L428.95 556.76 L429.2 552.71 L429.45 543.13 L429.7 518.98 L429.9 499.66 L429.95 501.35 L430.2 531.06 L430.45 548.06 L430.7 554.71 L430.9 555.88 L430.95 555.08 L431.2 547.82 L431.45 530.5 L431.6 522.63 L431.7 526.56 L431.95 545.32 L432.2 554.12 L432.45 557.63 L432.7 559.26 L432.95 560.13 L433.2 560.65 L433.45 560.98 L433.7 561.13 L433.95 561.16 L434.2 561.18 L434.45 561.19 L439.95 561.19 L440.2 561.17 L440.45 561.12 L440.7 560.61 L440.95 559.85 L441.2 558.64 L441.45 556.55 L441.7 552.54 L441.95 543.66 L442.2 520.98 L442.45 481.34 L442.5 479.08 L442.7 504.86 L442.95 537.09 L443.2 549.87 L443.45 555.28 L443.5 554.74 L443.7 549.51 L443.95 533.97 L444.2 514.4 L444.45 533.97 L444.7 549.51 L444.95 555.57 L445.2 558.21 L445.45 559.55 L445.7 560.32 L445.95 560.79 L446.2 561.08 L446.45 561.13 L446.7 561.17 L446.95 561.18 L515.7 561.2 L515.7 561.2" fill="#cccccc" stroke="#969696" stroke-width="0.9"/>
<path d="M30.2 561.2 L30.2 531.24 L30.3 531 L30.45 531.53 L30.7 534.55 L30.95 539.49 L31.2 545.16 L31.45 550.45 L31.7 554.67 L31.95 557.6 L32.2 559.4 L32.45 560.38 L32.7 560.86 L32.95 561.07 L33.2 561.16 L33.45 561.19 L41.45 561.19 L41.7 561.18 L41.95 561.15 L42.2 561.11 L42.45 561.05 L42.7 560.95 L42.95 560.81 L43.2 560.6 L43.45 560.33 L43.7 559.98 L43.95 559.57 L44.2 559.11 L44.45 558.64 L44.7 558.19 L44.95 557.81 L45.2 557.56 L45.45 557.44 L45.5 557.44 L45.7 557.49 L45.95 557.7 L46.2 558.03 L46.45 558.45 L46.7 558.89 L46.95 558.36 L47.2 557.87 L47.45 557.45 L47.7 557.17 L47.95 557.04 L48 557.04 L48.2 557.1 L48.45 557.32 L48.7 557.69 L48.95 558.16 L49.2 558.68 L49.45 559.2 L49.7 559.67 L49.95 560.09 L50.2 560.43 L50.45 560.68 L50.7 560.87 L50.95 561 L51.2 561.08 L51.45 561.13 L51.7 561.16 L51.95 561.18 L53.2 561.19 L53.45 561.17 L53.7 561.14 L53.95 561.09 L54.2 560.99 L54.45 560.84 L54.7 560.61 L54.95 560.31 L55.2 559.93 L55.45 559.49 L55.7 559.05 L55.95 558.66 L56.2 558.37 L56.45 558.24 L56.5 558.24 L56.7 558.3 L56.95 558.53 L57.2 558.88 L57.45 559.31 L57.7 559.76 L57.95 560.17 L58.2 560.5 L58.45 560.76 L58.7 560.94 L58.95 561.05 L59.2 561.12 L59.45 561.16 L59.7 561.18 L62.7 561.18 L62.95 561.17 L63.2 561.15 L63.45 561.09 L63.7 560.98 L63.95 560.79 L64.2 560.45 L64.45 559.74 L64.7 558 L64.95 553.87 L65.1 551.99 L65.2 552.93 L65.45 557.41 L65.7 559.51 L65.95 558.49 L66.2 555.82 L66.45 549.13 L66.7 534.89 L66.8 531.9 L66.95 537.88 L67.2 551.03 L67.45 556.55 L67.7 558.81 L67.95 559.89 L68.2 560.49 L68.45 560.84 L68.7 561.07 L68.95 561.19 L74.45 561.19 L74.7 561.17 L74.95 561.14 L75.2 561 L75.45 560.78 L75.7 560.43 L75.95 559.8 L76.2 558.52 L76.45 555.49 L76.7 547.86 L76.9 541.76 L76.95 542.29 L77.2 551.68 L77.45 557.05 L77.7 559.15 L77.8 559.61 L77.95 559.1 L78.2 557.4 L78.45 554.03 L78.7 546.32 L78.95 526.53 L79.2 501.62 L79.45 526.53 L79.7 546.32 L79.95 554.03 L80.2 557.4 L80.45 559.1 L80.7 560.08 L80.95 560.68 L81.2 561.08 L81.45 561.19 L89.2 561.18 L89.45 561.16 L89.7 561.11 L89.95 561 L90.2 560.83 L90.45 560.56 L90.7 560.21 L90.95 559.81 L91.2 559.42 L91.45 559.14 L91.7 559.04 L91.95 559.14 L92.2 559.42 L92.45 559.81 L92.7 560.21 L92.95 560.56 L93.2 560.83 L93.45 561 L93.7 561.11 L93.95 561.16 L94.2 561.18 L99.45 561.18 L99.7 561.16 L99.95 561.13 L100.2 561.06 L100.45 560.97 L100.7 560.82 L100.95 560.62 L101.2 560.38 L101.45 560.09 L101.7 559.81 L101.95 559.55 L102.2 559.36 L102.45 559.28 L102.5 559.28 L102.7 559.32 L102.95 559.46 L103.2 559.7 L103.45 559.98 L103.7 560.27 L103.95 560.53 L104.2 560.75 L104.45 560.91 L104.7 561.03 L104.95 561.1 L105.2 561.14 L105.45 561.11 L105.7 561.06 L105.95 560.99 L106.2 560.89 L106.45 560.76 L106.7 560.58 L106.95 560.35 L107.2 559.85 L107.45 558.57 L107.7 555.46 L107.95 548.03 L108.1 544.66 L108.2 546.35 L108.45 554.39 L108.7 557.46 L108.8 557.22 L108.95 555.51 L109.2 550.61 L109.45 539.75 L109.7 512 L109.95 463.52 L110 460.75 L110.2 492.29 L110.45 531.71 L110.7 547.34 L110.95 547.98 L111.2 541.4 L111.45 547.98 L111.7 554.71 L111.95 557.82 L112.2 559.18 L112.45 559.59 L112.7 559.95 L112.95 560.25 L113.2 560.5 L113.45 560.69 L113.7 560.84 L113.95 560.95 L114.2 561.03 L114.45 561.09 L114.7 561.13 L114.95 561.16 L115.2 561.17 L115.45 561.18 L120.2 561.19 L120.45 561.17 L120.7 561.15 L120.95 561.11 L121.2 561 L121.45 560.75 L121.7 560.34 L121.95 559.64 L122.2 558.29 L122.45 555.3 L122.7 547.66 L122.95 534.33 L123 533.56 L123.2 542.24 L123.45 553.09 L123.7 557.39 L123.95 556.3 L124.2 551.83 L124.45 541.26 L124.7 514.61 L124.9 493.29 L124.95 495.16 L125.2 527.94 L125.45 546.7 L125.7 554.04 L125.95 557.36 L126.2 559.08 L126.45 560.08 L126.7 560.71 L126.95 561.13 L127.2 561.14 L127.45 561.09 L127.7 560.94 L127.95 560.66 L128.2 560.2 L128.45 559.37 L128.7 557.71 L128.95 553.77 L129.2 543.83 L129.4 535.88 L129.45 536.58 L129.7 548.8 L129.95 555.79 L130.1 557.71 L130.2 558 L130.45 555.29 L130.7 549.48 L130.95 534.93 L131.2 503.91 L131.3 497.4 L131.45 510.42 L131.7 539.07 L131.95 551.07 L132.2 555.99 L132.45 558.35 L132.7 559.64 L132.95 560.42 L133.2 560.92 L133.45 561.18 L134.7 561.18 L134.95 561.17 L135.2 561.14 L135.45 560.96 L135.7 560.69 L135.95 560.24 L136.2 559.47 L136.45 557.93 L136.7 554.42 L136.95 545.4 L137.2 534.03 L137.45 545.4 L137.7 554.42 L137.95 557.93 L138.15 559.12 L138.2 559.12 L138.45 558.04 L138.7 555.42 L138.95 549.96 L139.2 536.65 L139.45 504.88 L139.6 490.44 L139.7 497.66 L139.95 532.07 L140.2 548.2 L140.45 554.65 L140.7 557.65 L140.95 559.25 L141.2 560.19 L141.45 560.79 L141.7 561.19 L142.2 561.19 L142.45 561.17 L142.7 561.15 L142.95 561.09 L143.2 560.92 L143.45 560.65 L143.7 560.2 L143.95 559.36 L144.2 557.54 L144.45 553 L144.7 543.32 L144.8 541.29 L144.95 545.35 L145.2 554.29 L145.45 558.04 L145.5 558.45 L145.7 558.72 L145.95 556.52 L146.2 551.49 L146.45 538.56 L146.7 522.29 L146.95 538.56 L147.2 551.49 L147.45 556.52 L147.7 558.72 L147.95 559.83 L148.2 560.47 L148.45 560.86 L148.7 561.12 L148.95 561.19 L149.45 561.19 L149.7 561.17 L149.95 561.15 L150.2 561.11 L150.45 561.01 L150.7 560.79 L150.95 560.44 L151.2 559.82 L151.45 558.6 L151.7 555.8 L151.95 548.61 L152.2 539.56 L152.45 548.61 L152.7 555.8 L152.85 557.76 L152.95 557.9 L153.2 555.06 L153.45 548.77 L153.7 532.69 L153.95 504.59 L154 502.99 L154.2 521.26 L154.45 544.11 L154.7 553.17 L154.95 557 L155.2 558.89 L155.45 559.95 L155.7 560.59 L155.95 561.01 L156.2 561.18 L164.2 561.18 L164.45 561.16 L164.7 561.13 L164.95 561.08 L165.2 560.94 L165.45 560.67 L165.7 560.22 L165.95 559.41 L166.2 557.77 L166.45 553.9 L166.7 544.15 L166.9 536.35 L166.95 537.03 L167.2 549.03 L167.45 555.89 L167.55 557.25 L167.7 557.01 L167.95 553.3 L168.2 544.8 L168.45 523 L168.7 495.54 L168.95 523 L169.2 544.8 L169.45 553.3 L169.7 557.01 L169.95 558.89 L170.2 559.96 L170.45 560.63 L170.7 561.07 L170.95 561.18 L171.7 561.18 L171.95 561.17 L172.2 561.14 L172.45 561.09 L172.7 560.92 L172.95 560.62 L173.2 560.12 L173.45 559.24 L173.7 557.45 L173.95 553.23 L174.2 542.56 L174.4 534.03 L174.45 534.78 L174.7 547.89 L174.95 555.4 L175.1 557.45 L175.2 557.73 L175.45 554.8 L175.7 548.51 L175.95 532.75 L176.2 499.16 L176.3 492.11 L176.45 506.21 L176.7 537.23 L176.95 550.23 L177.2 555.56 L177.45 558.12 L177.7 559.51 L177.95 560.35 L178.2 560.9 L178.45 561.18 L178.7 561.19 L181.2 561.19 L181.45 561.17 L181.7 561.15 L181.95 561.11 L182.2 560.9 L182.45 560.58 L182.7 560.05 L182.95 559.11 L183.2 557.19 L183.45 552.67 L183.7 541.27 L183.9 532.15 L183.95 532.95 L184.2 546.97 L184.45 555 L184.6 557.19 L184.7 558.14 L184.95 556.09 L185.2 551.07 L185.45 538.48 L185.7 511.66 L185.8 506.03 L185.95 517.29 L186.2 542.06 L186.45 552.44 L186.7 556.7 L186.95 558.74 L187.2 559.85 L187.45 560.52 L187.7 560.96 L187.95 561.18 L208.45 561.19 L208.7 561.17 L208.95 561.15 L209.2 561.11 L209.45 561.04 L209.7 560.94 L209.95 560.79 L210.2 560.44 L210.45 559.8 L210.7 558.64 L210.95 556.22 L211.2 550.32 L211.45 536.24 L211.6 529.84 L211.7 533.04 L211.95 548.29 L212.2 548.38 L212.45 532.47 L212.7 498.54 L212.8 491.42 L212.95 505.66 L213.2 536.99 L213.45 550.12 L213.7 555.5 L213.95 558.09 L214.2 559.5 L214.45 560.35 L214.7 560.89 L214.95 561.15 L215.2 561.17 L215.45 561.19 L220.45 561.18 L220.7 561.16 L220.95 561.13 L221.2 561.08 L221.45 560.91 L221.7 560.57 L221.95 560.03 L222.2 559.08 L222.45 557.2 L222.7 552.91 L222.95 541.88 L223.2 528 L223.45 541.88 L223.7 552.91 L223.9 556.62 L223.95 557.2 L224.2 554.7 L224.45 548.56 L224.7 533.59 L224.95 497.86 L225.1 481.62 L225.2 489.74 L225.45 528.43 L225.7 546.58 L225.95 553.83 L226.2 557.2 L226.45 559 L226.7 560.07 L226.95 560.74 L227.2 561.17 L227.45 561.19 L229.45 561.19 L229.7 561.18 L229.95 561.16 L230.2 561.13 L230.45 560.89 L230.7 560.54 L230.95 559.97 L231.2 558.96 L231.45 556.98 L231.7 552.44 L231.95 540.79 L232.2 526.12 L232.45 540.79 L232.7 552.44 L232.9 556.36 L232.95 556.98 L233.2 557.36 L233.45 553.73 L233.7 544.88 L233.95 523.76 L234.1 514.16 L234.2 518.96 L234.45 541.83 L234.7 552.56 L234.95 556.84 L235.2 558.84 L235.45 559.9 L235.7 560.53 L235.95 560.93 L236.2 561.18 L242.95 561.19 L243.2 561.18 L243.45 561.16 L243.7 561.13 L243.95 561.03 L244.2 560.84 L244.45 560.52 L244.7 559.97 L244.95 558.88 L245.2 556.38 L245.45 549.98 L245.7 541.91 L245.95 549.98 L246.2 556.38 L246.4 558.54 L246.45 558.88 L246.7 557.36 L246.95 553.73 L247.2 544.88 L247.45 523.76 L247.6 514.16 L247.7 518.96 L247.95 541.83 L248.2 552.56 L248.45 556.84 L248.7 558.84 L248.95 559.9 L249.2 560.53 L249.45 560.93 L249.7 561.18 L251.95 561.19 L252.2 561.17 L252.45 561.14 L252.7 561.1 L252.95 560.97 L253.2 560.71 L253.45 560.28 L253.7 559.52 L253.95 558.04 L254.2 554.64 L254.45 545.92 L254.7 534.94 L254.95 545.92 L255.2 554.64 L255.4 557.58 L255.45 558.04 L255.7 555.46 L255.95 550.04 L256.2 536.82 L256.45 505.27 L256.6 490.93 L256.7 498.1 L256.95 532.27 L257.2 548.29 L257.45 554.69 L257.7 557.67 L257.95 559.26 L258.2 560.2 L258.45 560.8 L258.7 561.18 L258.95 561.19 L263.45 561.19 L263.7 561.18 L263.95 561.16 L264.2 561.13 L264.45 561.03 L264.7 560.85 L264.95 560.57 L265.2 560.04 L265.45 558.95 L265.7 556.28 L265.95 549.91 L266.1 547.01 L266.2 548.46 L266.45 555.36 L266.7 558.59 L266.8 559.24 L266.95 559.09 L267.2 557.28 L267.45 553.25 L267.7 542.96 L267.95 524.99 L268 523.96 L268.2 535.65 L268.45 550.27 L268.7 556.06 L268.95 558.51 L269.2 559.72 L269.45 560.4 L269.7 560.81 L269.95 561.08 L270.2 561.19 L286.45 561.18 L286.7 561.17 L286.95 561.14 L287.2 561.1 L287.45 560.93 L287.7 560.66 L287.95 560.22 L288.2 559.4 L288.45 557.7 L288.7 553.54 L288.95 543.63 L289.1 539.13 L289.2 541.38 L289.45 552.11 L289.7 557.15 L289.8 558.16 L289.95 558.12 L290.2 555.46 L290.45 549.56 L290.7 534.51 L290.95 508.21 L291 506.71 L291.2 523.82 L291.45 545.2 L291.7 553.68 L291.95 557.27 L292.2 559.04 L292.45 560.03 L292.7 560.63 L292.95 561.03 L293.2 561.19 L294.7 561.19 L294.95 561.18 L295.2 561.16 L295.45 561.12 L295.7 561.06 L295.95 560.82 L296.2 560.45 L296.45 559.82 L296.7 558.68 L296.95 556.3 L297.2 550.48 L297.45 536.61 L297.6 530.31 L297.7 533.46 L297.95 548.48 L298.2 555.53 L298.3 556.94 L298.45 557.16 L298.7 553.67 L298.95 545.94 L299.2 526.21 L299.45 491.73 L299.5 489.76 L299.7 512.19 L299.95 540.23 L300.2 551.35 L300.45 556.05 L300.7 558.37 L300.95 559.67 L301.2 560.46 L301.45 560.97 L301.7 561.18 L317.45 561.18 L317.7 561.16 L317.95 561.13 L318.2 561.08 L318.45 560.89 L318.7 560.58 L318.95 560.06 L319.2 559.12 L319.45 557.15 L319.7 552.35 L319.95 540.89 L320.1 535.68 L320.2 538.28 L320.45 550.69 L320.7 556.51 L320.8 557.68 L320.95 557.59 L321.2 554.48 L321.45 547.57 L321.7 529.95 L321.95 499.16 L322 497.4 L322.2 517.43 L322.45 542.47 L322.7 552.4 L322.95 556.6 L323.2 558.67 L323.45 559.83 L323.7 560.54 L323.95 561 L324.2 561.18 L328.7 561.18 L328.95 561.17 L329.2 561.15 L329.45 561.09 L329.7 560.94 L329.95 560.69 L330.2 560.28 L330.45 559.5 L330.7 557.83 L330.95 553.65 L331.2 544.73 L331.3 542.85 L331.45 546.6 L331.7 554.84 L331.95 558.29 L332.2 557.89 L332.45 554.76 L332.7 547.12 L332.95 528.91 L333.1 520.63 L333.2 524.77 L333.45 544.49 L333.7 553.75 L333.95 557.44 L334.2 559.16 L334.45 560.08 L334.7 560.62 L334.95 560.97 L335.2 561.18 L339.45 561.18 L339.7 561.16 L339.95 561.13 L340.2 561.08 L340.45 560.85 L340.7 560.43 L340.95 559.77 L341.2 558.6 L341.45 556.31 L341.7 551.05 L341.95 537.55 L342.2 520.55 L342.45 537.55 L342.7 551.05 L342.85 554.75 L342.95 556.31 L343.2 553.79 L343.45 546.19 L343.7 526.78 L343.95 492.87 L344 490.93 L344.2 513 L344.45 540.57 L344.7 551.51 L344.95 556.13 L345.2 558.42 L345.45 559.69 L345.7 560.47 L345.95 560.98 L346.2 561.18 L346.45 561.19 L349.95 561.18 L350.2 561.16 L350.45 561.13 L350.7 561.08 L350.95 560.87 L351.2 560.54 L351.45 559.99 L351.7 558.98 L351.95 556.89 L352.2 551.78 L352.45 539.58 L352.6 534.03 L352.7 536.81 L352.95 550.01 L353.2 556.21 L353.3 557.45 L353.45 557.48 L353.7 554.28 L353.95 547.18 L354.2 529.04 L354.45 497.35 L354.5 495.54 L354.7 516.16 L354.95 541.92 L355.2 552.14 L355.45 556.46 L355.7 558.6 L355.95 559.79 L356.2 560.52 L356.45 560.99 L356.7 561.18 L361.7 561.19 L361.95 561.18 L362.2 561.16 L362.45 561.12 L362.7 561 L362.95 560.8 L363.2 560.45 L363.45 559.84 L363.7 558.6 L363.95 555.68 L364.2 548.29 L364.4 542.38 L364.45 542.9 L364.7 551.98 L364.95 557.18 L365.1 558.6 L365.2 558.78 L365.45 556.73 L365.7 552.34 L365.95 541.35 L366.2 517.9 L366.3 512.98 L366.45 522.82 L366.7 544.47 L366.95 553.54 L367.2 557.26 L367.45 559.05 L367.7 560.02 L367.95 560.61 L368.2 560.99 L368.45 561.19 L394.2 561.18 L394.45 561.17 L394.7 561.15 L394.95 561.09 L395.2 560.95 L395.45 560.74 L395.7 560.37 L395.95 559.63 L396.2 557.94 L396.45 553.61 L396.7 548.15 L396.95 553.61 L397.2 557.94 L397.35 559.13 L397.45 558.96 L397.7 557.04 L397.95 552.77 L398.2 541.86 L398.45 522.8 L398.5 521.71 L398.7 534.11 L398.95 549.61 L399.2 555.75 L399.45 558.35 L399.7 559.64 L399.95 560.35 L400.2 560.79 L400.45 561.07 L400.7 561.19 L415.45 561.19 L415.7 561.17 L415.95 561.15 L416.2 561.1 L416.45 561.03 L416.7 560.91 L416.95 560.68 L417.2 560.17 L417.45 559.32 L417.7 557.75 L417.95 554.5 L418.2 546.55 L418.45 527.6 L418.6 518.98 L418.7 523.29 L418.95 543.82 L419.1 550.66 L419.2 552.81 L419.45 544.88 L419.7 525.53 L419.95 479.38 L420.1 458.4 L420.2 468.89 L420.45 518.87 L420.7 542.32 L420.95 551.68 L421.2 556.04 L421.45 558.36 L421.7 559.74 L421.95 560.61 L422.2 561.14 L422.45 561.17 L422.7 561.19 L427.45 561.19 L427.7 561.17 L427.95 561.15 L428.2 561.11 L428.45 561.04 L428.7 560.94 L428.95 560.67 L429.2 560.22 L429.45 559.42 L429.7 557.8 L429.95 553.97 L430.2 544.31 L430.4 536.58 L430.45 537.26 L430.7 549.14 L430.9 555.05 L430.95 555.94 L431.2 552.33 L431.45 542.33 L431.7 517.1 L431.9 496.91 L431.95 498.68 L432.2 529.71 L432.45 547.47 L432.7 554.42 L432.95 557.56 L433.2 559.2 L433.45 560.14 L433.7 560.74 L433.95 561.14 L434.2 561.18 L434.45 561.19 L439.95 561.19 L440.2 561.17 L440.45 561.15 L440.7 561.11 L440.95 561.04 L441.2 560.93 L441.45 560.66 L441.7 560.18 L441.95 559.34 L442.2 557.74 L442.45 554.18 L442.7 545.11 L442.95 529.26 L443 528.35 L443.2 538.66 L443.45 551.56 L443.5 553 L443.7 552.98 L443.95 544.54 L444.2 522.99 L444.45 485.34 L444.5 483.19 L444.7 507.68 L444.95 538.3 L445.2 550.44 L445.45 555.57 L445.7 558.11 L445.95 559.52 L446.2 560.39 L446.45 560.95 L446.7 561.17 L446.95 561.18 L515.7 561.2 L515.7 561.2" fill="none" stroke="#1a1a1a" stroke-width="0.95"/>
<path d="M29.4 571 V441.7 H516.5 V571" fill="none" stroke="#111" stroke-width="1.4"/>
<rect x="109" y="442.1" width="2" height="2.2" fill="#111"/>
<rect x="123.9" y="442.1" width="2" height="2.2" fill="#111"/>
<rect x="130.3" y="442.1" width="2" height="2.2" fill="#111"/>
<rect x="138.6" y="442.1" width="2" height="2.2" fill="#111"/>
<rect x="145.7" y="442.1" width="2" height="2.2" fill="#111"/>
<rect x="153" y="442.1" width="2" height="2.2" fill="#111"/>
<rect x="167.7" y="442.1" width="2" height="2.2" fill="#111"/>
<rect x="175.3" y="442.1" width="2" height="2.2" fill="#111"/>
<rect x="184.8" y="442.1" width="2" height="2.2" fill="#111"/>
<rect x="200.6" y="442.1" width="2" height="2.2" fill="#111"/>
<rect x="212.5" y="442.1" width="2" height="2.2" fill="#111"/>
<rect x="223.6" y="442.1" width="2" height="2.2" fill="#111"/>
<rect x="232.6" y="442.1" width="2" height="2.2" fill="#111"/>
<rect x="244.2" y="442.1" width="2" height="2.2" fill="#111"/>
<rect x="255.1" y="442.1" width="2" height="2.2" fill="#111"/>
<rect x="266.3" y="442.1" width="2" height="2.2" fill="#111"/>
<rect x="289.5" y="442.1" width="2" height="2.2" fill="#111"/>
<rect x="298" y="442.1" width="2" height="2.2" fill="#111"/>
<rect x="319.8" y="442.1" width="2" height="2.2" fill="#111"/>
<rect x="331.7" y="442.1" width="2" height="2.2" fill="#111"/>
<rect x="342.3" y="442.1" width="2" height="2.2" fill="#111"/>
<rect x="353" y="442.1" width="2" height="2.2" fill="#111"/>
<rect x="364.8" y="442.1" width="2" height="2.2" fill="#111"/>
<rect x="396.6" y="442.1" width="2" height="2.2" fill="#111"/>
<rect x="419.1" y="442.1" width="2" height="2.2" fill="#111"/>
<rect x="430.3" y="442.1" width="2" height="2.2" fill="#111"/>
<rect x="442.9" y="442.1" width="2" height="2.2" fill="#111"/>
<text x="49.4" y="475.9" class="mix" textLength="40.5" lengthAdjust="spacingAndGlyphs">Mix 2</text>
<text x="168.9" y="455.9" class="an" text-anchor="middle"><tspan font-style="italic">3B</tspan>-NA2</text>
<text x="245.5" y="455.9" class="an" text-anchor="middle">C</text>
<text x="323.6" y="455.9" class="an" text-anchor="middle">C</text>
<text x="362.6" y="466.6" class="an" text-anchor="middle"><tspan font-style="italic">3A</tspan>-ex5</text>
<text x="432.7" y="455.9" class="an" text-anchor="middle">X</text>
<text x="443.3" y="455.9" class="an" text-anchor="start">3B-ex4 + 3A-158V</text>
<line x1="168" y1="465.8" x2="168" y2="474.7" stroke="#111" stroke-width="1.3"/>
<path d="M164.2 474.2 L171.8 474.2 L168 481.2 Z" fill="#111"/>
<line x1="245.5" y1="465.8" x2="245.5" y2="474.7" stroke="#111" stroke-width="1.3"/>
<path d="M241.7 474.2 L249.3 474.2 L245.5 481.2 Z" fill="#111"/>
<line x1="323.2" y1="465.8" x2="323.2" y2="474.7" stroke="#111" stroke-width="1.3"/>
<path d="M319.4 474.2 L327 474.2 L323.2 481.2 Z" fill="#111"/>
<line x1="344" y1="442.5" x2="344" y2="448.6" stroke="#111" stroke-width="1.3"/>
<path d="M340.2 448.1 L347.8 448.1 L344 455.1 Z" fill="#111"/>
<line x1="431.3" y1="460.5" x2="431.3" y2="469.5" stroke="#111" stroke-width="1.3"/>
<path d="M427.5 469 L435.1 469 L431.3 476 Z" fill="#111"/>
<line x1="442" y1="460.5" x2="442" y2="469.5" stroke="#111" stroke-width="1.3"/>
<path d="M438.2 469 L445.8 469 L442 476 Z" fill="#111"/>
</svg>
</body></html>
